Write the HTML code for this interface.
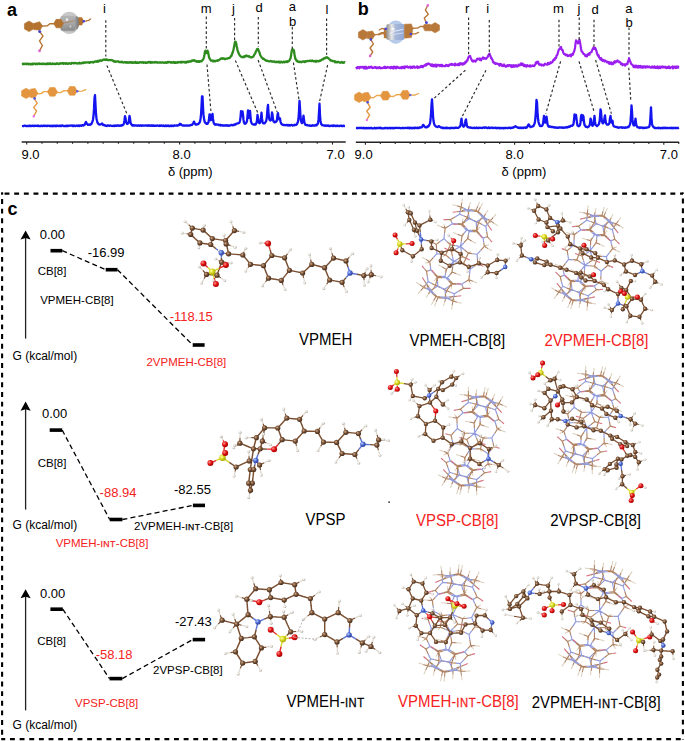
<!DOCTYPE html><html><head><meta charset="utf-8"><style>html,body{margin:0;padding:0;background:#fff;}svg{display:block;}</style></head><body><svg width="685" height="741" viewBox="0 0 685 741" font-family="Liberation Sans, sans-serif"><defs>
<radialGradient id="gsph" cx="0.45" cy="0.4" r="0.65"><stop offset="0" stop-color="#e8e8e8"/><stop offset="0.45" stop-color="#a8a8a8"/><stop offset="0.8" stop-color="#8c8c8c"/><stop offset="1" stop-color="#b8b8b8"/></radialGradient>
<radialGradient id="bsph" cx="0.5" cy="0.5" r="0.55"><stop offset="0" stop-color="#c6d8f0"/><stop offset="0.75" stop-color="#a9c3e6"/><stop offset="1" stop-color="#bcd0ee"/></radialGradient>
<linearGradient id="barrel" x1="0" x2="1" y1="0" y2="0"><stop offset="0" stop-color="#8a8a8a"/><stop offset="0.35" stop-color="#e0e0e0"/><stop offset="0.7" stop-color="#9aa8c0"/><stop offset="1" stop-color="#8090b0"/></linearGradient>
<radialGradient id="gC" cx="0.38" cy="0.38" r="0.68"><stop offset="0" stop-color="#d0b090"/><stop offset="0.45" stop-color="#7a5236"/><stop offset="1" stop-color="#3e2818"/></radialGradient>
<radialGradient id="gH" cx="0.35" cy="0.35" r="0.7"><stop offset="0" stop-color="#ffffff"/><stop offset="0.55" stop-color="#e0dcd4"/><stop offset="1" stop-color="#a8a098"/></radialGradient>
<radialGradient id="gO" cx="0.35" cy="0.35" r="0.7"><stop offset="0" stop-color="#ff9090"/><stop offset="0.5" stop-color="#e01010"/><stop offset="1" stop-color="#a00000"/></radialGradient>
<radialGradient id="gN" cx="0.35" cy="0.35" r="0.7"><stop offset="0" stop-color="#b8c8ff"/><stop offset="0.5" stop-color="#4a68d0"/><stop offset="1" stop-color="#2a3c90"/></radialGradient>
<radialGradient id="gS" cx="0.35" cy="0.35" r="0.7"><stop offset="0" stop-color="#ffffa0"/><stop offset="0.5" stop-color="#d8d820"/><stop offset="1" stop-color="#a0a000"/></radialGradient>
<linearGradient id="gbar" x1="0" x2="0" y1="0" y2="1"><stop offset="0" stop-color="#b4b4b4"/><stop offset="0.5" stop-color="#a6a6a6"/><stop offset="0.9" stop-color="#8e8e8e"/><stop offset="1" stop-color="#a0a0a0"/></linearGradient><linearGradient id="gport" x1="0" x2="1" y1="0" y2="0"><stop offset="0" stop-color="#a8a8a8"/><stop offset="1" stop-color="#767676"/></linearGradient><linearGradient id="gbb" x1="0" x2="1" y1="0" y2="0"><stop offset="0" stop-color="#8c8c8c"/><stop offset="0.3" stop-color="#e8e8e8"/><stop offset="0.5" stop-color="#a8b8d8"/><stop offset="1" stop-color="#90a8d8"/></linearGradient></defs><rect width="685" height="741" fill="#fff"/><text x="0" y="0" font-size="18" fill="#000" font-weight="bold" transform="translate(7.10,16.10) scale(1,1.0)">a</text><text x="0" y="0" font-size="18" fill="#000" font-weight="bold" transform="translate(357.80,14.60) scale(1,1.0)">b</text><text x="0" y="0" font-size="18" fill="#000" font-weight="bold" transform="translate(7.60,215.40) scale(1,1.0)">c</text><line x1="21.70" y1="142.00" x2="345.70" y2="142.00" stroke="#222" stroke-width="1.5" stroke-linecap="butt"/><line x1="26.70" y1="142.00" x2="26.70" y2="144.60" stroke="#222" stroke-width="1.1" stroke-linecap="butt"/><line x1="41.99" y1="142.00" x2="41.99" y2="143.70" stroke="#222" stroke-width="1.1" stroke-linecap="butt"/><line x1="57.28" y1="142.00" x2="57.28" y2="143.70" stroke="#222" stroke-width="1.1" stroke-linecap="butt"/><line x1="72.57" y1="142.00" x2="72.57" y2="143.70" stroke="#222" stroke-width="1.1" stroke-linecap="butt"/><line x1="87.86" y1="142.00" x2="87.86" y2="143.70" stroke="#222" stroke-width="1.1" stroke-linecap="butt"/><line x1="103.15" y1="142.00" x2="103.15" y2="143.70" stroke="#222" stroke-width="1.1" stroke-linecap="butt"/><line x1="118.44" y1="142.00" x2="118.44" y2="143.70" stroke="#222" stroke-width="1.1" stroke-linecap="butt"/><line x1="133.73" y1="142.00" x2="133.73" y2="143.70" stroke="#222" stroke-width="1.1" stroke-linecap="butt"/><line x1="149.02" y1="142.00" x2="149.02" y2="143.70" stroke="#222" stroke-width="1.1" stroke-linecap="butt"/><line x1="164.31" y1="142.00" x2="164.31" y2="143.70" stroke="#222" stroke-width="1.1" stroke-linecap="butt"/><line x1="179.60" y1="142.00" x2="179.60" y2="144.60" stroke="#222" stroke-width="1.1" stroke-linecap="butt"/><line x1="194.89" y1="142.00" x2="194.89" y2="143.70" stroke="#222" stroke-width="1.1" stroke-linecap="butt"/><line x1="210.18" y1="142.00" x2="210.18" y2="143.70" stroke="#222" stroke-width="1.1" stroke-linecap="butt"/><line x1="225.47" y1="142.00" x2="225.47" y2="143.70" stroke="#222" stroke-width="1.1" stroke-linecap="butt"/><line x1="240.76" y1="142.00" x2="240.76" y2="143.70" stroke="#222" stroke-width="1.1" stroke-linecap="butt"/><line x1="256.05" y1="142.00" x2="256.05" y2="143.70" stroke="#222" stroke-width="1.1" stroke-linecap="butt"/><line x1="271.34" y1="142.00" x2="271.34" y2="143.70" stroke="#222" stroke-width="1.1" stroke-linecap="butt"/><line x1="286.63" y1="142.00" x2="286.63" y2="143.70" stroke="#222" stroke-width="1.1" stroke-linecap="butt"/><line x1="301.92" y1="142.00" x2="301.92" y2="143.70" stroke="#222" stroke-width="1.1" stroke-linecap="butt"/><line x1="317.21" y1="142.00" x2="317.21" y2="143.70" stroke="#222" stroke-width="1.1" stroke-linecap="butt"/><line x1="332.50" y1="142.00" x2="332.50" y2="144.60" stroke="#222" stroke-width="1.1" stroke-linecap="butt"/><text x="0" y="0" font-size="13" fill="#000" font-weight="normal" transform="translate(21.40,159.40) scale(1,1.0)">9.0</text><text x="0" y="0" font-size="13" fill="#000" font-weight="normal" transform="translate(172.60,159.40) scale(1,1.0)">8.0</text><text x="0" y="0" font-size="13" fill="#000" font-weight="normal" transform="translate(326.60,159.40) scale(1,1.0)">7.0</text><line x1="355.80" y1="142.20" x2="679.20" y2="142.20" stroke="#222" stroke-width="1.5" stroke-linecap="butt"/><line x1="365.40" y1="142.20" x2="365.40" y2="144.80" stroke="#222" stroke-width="1.1" stroke-linecap="butt"/><line x1="380.32" y1="142.20" x2="380.32" y2="143.90" stroke="#222" stroke-width="1.1" stroke-linecap="butt"/><line x1="395.24" y1="142.20" x2="395.24" y2="143.90" stroke="#222" stroke-width="1.1" stroke-linecap="butt"/><line x1="410.16" y1="142.20" x2="410.16" y2="143.90" stroke="#222" stroke-width="1.1" stroke-linecap="butt"/><line x1="425.08" y1="142.20" x2="425.08" y2="143.90" stroke="#222" stroke-width="1.1" stroke-linecap="butt"/><line x1="440.00" y1="142.20" x2="440.00" y2="143.90" stroke="#222" stroke-width="1.1" stroke-linecap="butt"/><line x1="454.92" y1="142.20" x2="454.92" y2="143.90" stroke="#222" stroke-width="1.1" stroke-linecap="butt"/><line x1="469.84" y1="142.20" x2="469.84" y2="143.90" stroke="#222" stroke-width="1.1" stroke-linecap="butt"/><line x1="484.76" y1="142.20" x2="484.76" y2="143.90" stroke="#222" stroke-width="1.1" stroke-linecap="butt"/><line x1="499.68" y1="142.20" x2="499.68" y2="143.90" stroke="#222" stroke-width="1.1" stroke-linecap="butt"/><line x1="514.60" y1="142.20" x2="514.60" y2="144.80" stroke="#222" stroke-width="1.1" stroke-linecap="butt"/><line x1="529.52" y1="142.20" x2="529.52" y2="143.90" stroke="#222" stroke-width="1.1" stroke-linecap="butt"/><line x1="544.44" y1="142.20" x2="544.44" y2="143.90" stroke="#222" stroke-width="1.1" stroke-linecap="butt"/><line x1="559.36" y1="142.20" x2="559.36" y2="143.90" stroke="#222" stroke-width="1.1" stroke-linecap="butt"/><line x1="574.28" y1="142.20" x2="574.28" y2="143.90" stroke="#222" stroke-width="1.1" stroke-linecap="butt"/><line x1="589.20" y1="142.20" x2="589.20" y2="143.90" stroke="#222" stroke-width="1.1" stroke-linecap="butt"/><line x1="604.12" y1="142.20" x2="604.12" y2="143.90" stroke="#222" stroke-width="1.1" stroke-linecap="butt"/><line x1="619.04" y1="142.20" x2="619.04" y2="143.90" stroke="#222" stroke-width="1.1" stroke-linecap="butt"/><line x1="633.96" y1="142.20" x2="633.96" y2="143.90" stroke="#222" stroke-width="1.1" stroke-linecap="butt"/><line x1="648.88" y1="142.20" x2="648.88" y2="143.90" stroke="#222" stroke-width="1.1" stroke-linecap="butt"/><line x1="663.80" y1="142.20" x2="663.80" y2="144.80" stroke="#222" stroke-width="1.1" stroke-linecap="butt"/><line x1="678.72" y1="142.20" x2="678.72" y2="143.90" stroke="#222" stroke-width="1.1" stroke-linecap="butt"/><text x="0" y="0" font-size="13" fill="#000" font-weight="normal" transform="translate(354.60,159.40) scale(1,1.0)">9.0</text><text x="0" y="0" font-size="13" fill="#000" font-weight="normal" transform="translate(505.60,159.40) scale(1,1.0)">8.0</text><text x="0" y="0" font-size="13" fill="#000" font-weight="normal" transform="translate(659.80,159.40) scale(1,1.0)">7.0</text><text x="0" y="0" font-size="13" fill="#000" font-weight="normal" transform="translate(167.90,176.00) scale(1,1.0)">δ (ppm)</text><text x="0" y="0" font-size="13" fill="#000" font-weight="normal" transform="translate(501.50,176.00) scale(1,1.0)">δ (ppm)</text><text x="0" y="0" font-size="13" fill="#000" font-weight="normal" transform="translate(102.90,13.20) scale(1,1.0)">i</text><text x="0" y="0" font-size="13" fill="#000" font-weight="normal" transform="translate(200.70,12.90) scale(1,1.0)">m</text><text x="0" y="0" font-size="13" fill="#000" font-weight="normal" transform="translate(231.90,13.30) scale(1,1.0)">j</text><text x="0" y="0" font-size="13" fill="#000" font-weight="normal" transform="translate(255.60,12.30) scale(1,1.0)">d</text><text x="0" y="0" font-size="13" fill="#000" font-weight="normal" transform="translate(288.80,10.60) scale(1,1.0)">a</text><text x="0" y="0" font-size="13" fill="#000" font-weight="normal" transform="translate(288.90,26.20) scale(1,1.0)">b</text><text x="0" y="0" font-size="13" fill="#000" font-weight="normal" transform="translate(325.40,13.50) scale(1,1.0)">l</text><text x="0" y="0" font-size="13" fill="#000" font-weight="normal" transform="translate(464.90,12.90) scale(1,1.0)">r</text><text x="0" y="0" font-size="13" fill="#000" font-weight="normal" transform="translate(486.30,13.30) scale(1,1.0)">i</text><text x="0" y="0" font-size="13" fill="#000" font-weight="normal" transform="translate(553.10,13.20) scale(1,1.0)">m</text><text x="0" y="0" font-size="13" fill="#000" font-weight="normal" transform="translate(577.50,13.40) scale(1,1.0)">j</text><text x="0" y="0" font-size="13" fill="#000" font-weight="normal" transform="translate(591.60,13.60) scale(1,1.0)">d</text><text x="0" y="0" font-size="13" fill="#000" font-weight="normal" transform="translate(625.30,12.60) scale(1,1.0)">a</text><text x="0" y="0" font-size="13" fill="#000" font-weight="normal" transform="translate(625.50,27.40) scale(1,1.0)">b</text><polyline points="22.0,64.0 22.5,63.8 23.0,64.3 23.5,63.7 24.0,64.2 24.5,64.0 25.0,63.7 25.5,64.1 26.0,63.7 26.5,64.0 27.0,63.7 27.5,63.7 28.0,64.0 28.5,64.4 29.0,63.7 29.5,63.8 30.0,64.2 30.5,64.4 31.0,64.1 31.5,63.9 32.0,64.4 32.5,63.6 33.0,64.3 33.5,63.8 34.0,63.7 34.5,63.6 35.0,63.8 35.5,64.2 36.0,63.7 36.5,64.0 37.0,64.1 37.5,63.8 38.0,64.0 38.5,63.5 39.0,63.5 39.5,63.6 40.0,64.1 40.5,63.8 41.0,63.7 41.5,64.0 42.0,63.8 42.5,63.7 43.0,64.1 43.5,64.0 44.0,63.6 44.5,63.9 45.0,63.9 45.5,64.2 46.0,64.0 46.5,63.6 47.0,64.2 47.5,63.4 48.0,63.7 48.5,64.0 49.0,63.5 49.5,63.8 50.0,63.3 50.5,63.9 51.0,64.0 51.5,63.8 52.0,64.1 52.5,63.5 53.0,63.9 53.5,63.8 54.0,63.8 54.5,63.6 55.0,64.0 55.5,64.1 56.0,63.6 56.5,63.8 57.0,63.2 57.5,63.8 58.0,63.8 58.5,64.1 59.0,63.9 59.5,63.4 60.0,63.5 60.5,63.7 61.0,63.1 61.5,63.5 62.0,63.3 62.5,63.2 63.0,63.1 63.5,63.8 64.0,63.2 64.5,63.3 65.0,63.4 65.5,63.8 66.0,63.1 66.5,63.4 67.0,63.5 67.5,63.8 68.0,63.7 68.5,63.8 69.0,63.2 69.5,63.3 70.0,63.3 70.5,63.7 71.0,63.8 71.5,63.0 72.0,63.0 72.5,63.1 73.0,63.1 73.5,63.3 74.0,63.4 74.5,63.1 75.0,62.8 75.5,63.2 76.0,63.1 76.5,63.3 77.0,63.6 77.5,63.4 78.0,63.2 78.5,63.3 79.0,63.3 79.5,62.7 80.0,63.5 80.5,63.3 81.0,63.4 81.5,63.3 82.0,62.9 82.5,62.9 83.0,62.6 83.5,63.1 84.0,62.5 84.5,62.5 85.0,62.6 85.5,62.5 86.0,62.7 86.5,62.4 87.0,62.3 87.5,62.4 88.0,62.3 88.5,62.5 89.0,62.2 89.5,62.9 90.0,62.6 90.5,62.1 91.0,62.2 91.5,62.2 92.0,62.2 92.5,61.9 93.0,62.5 93.5,62.5 94.0,62.0 94.5,61.9 95.0,61.5 95.5,61.4 96.0,61.5 96.5,61.4 97.0,61.8 97.5,61.1 98.0,60.8 98.5,61.5 99.0,61.0 99.5,60.6 100.0,60.8 100.5,60.2 101.0,60.5 101.5,60.8 102.0,60.5 102.5,60.2 103.0,59.7 103.5,59.7 104.0,59.4 104.5,59.9 105.0,59.6 105.5,59.8 106.0,59.4 106.5,59.3 107.0,59.9 107.5,60.1 108.0,60.0 108.5,60.1 109.0,60.2 109.5,60.2 110.0,59.9 110.5,60.2 111.0,60.2 111.5,60.0 112.0,60.2 112.5,60.5 113.0,60.6 113.5,61.1 114.0,61.5 114.5,61.1 115.0,61.6 115.5,61.8 116.0,61.8 116.5,61.4 117.0,61.3 117.5,61.4 118.0,61.4 118.5,61.5 119.0,61.9 119.5,62.2 120.0,62.2 120.5,61.9 121.0,62.1 121.5,62.3 122.0,61.7 122.5,62.3 123.0,62.5 123.5,62.4 124.0,62.4 124.5,62.2 125.0,62.0 125.5,62.5 126.0,62.1 126.5,62.6 127.0,62.8 127.5,62.2 128.0,62.3 128.5,62.8 129.0,62.6 129.5,62.1 130.0,62.1 130.5,62.1 131.0,62.8 131.5,62.7 132.0,62.1 132.5,62.7 133.0,62.9 133.5,62.6 134.0,62.3 134.5,62.5 135.0,62.1 135.5,62.0 136.0,62.9 136.5,62.6 137.0,62.5 137.5,62.9 138.0,62.4 138.5,62.8 139.0,62.8 139.5,62.2 140.0,62.3 140.5,62.3 141.0,62.2 141.5,62.6 142.0,62.3 142.5,62.4 143.0,62.1 143.5,62.8 144.0,62.3 144.5,62.4 145.0,62.5 145.5,62.8 146.0,62.4 146.5,62.8 147.0,62.5 147.5,62.5 148.0,62.5 148.5,62.0 149.0,62.4 149.5,62.1 150.0,62.0 150.5,62.7 151.0,62.1 151.5,62.4 152.0,62.6 152.5,62.5 153.0,62.2 153.5,62.4 154.0,62.4 154.5,62.6 155.0,62.0 155.5,62.4 156.0,62.1 156.5,62.2 157.0,62.6 157.5,62.4 158.0,62.4 158.5,62.6 159.0,62.7 159.5,62.3 160.0,62.5 160.5,62.4 161.0,62.4 161.5,62.6 162.0,62.3 162.5,62.4 163.0,62.4 163.5,62.8 164.0,62.6 164.5,62.7 165.0,62.8 165.5,62.2 166.0,62.4 166.5,62.8 167.0,62.7 167.5,62.1 168.0,62.0 168.5,62.3 169.0,62.0 169.5,62.2 170.0,62.0 170.5,62.5 171.0,62.6 171.5,62.7 172.0,62.1 172.5,62.6 173.0,62.5 173.5,62.0 174.0,62.7 174.5,62.8 175.0,62.1 175.5,62.8 176.0,62.3 176.5,62.3 177.0,62.8 177.5,62.6 178.0,62.0 178.5,62.3 179.0,62.3 179.5,62.2 180.0,62.0 180.5,62.1 181.0,62.5 181.5,61.8 182.0,62.3 182.5,62.2 183.0,61.8 183.5,62.1 184.0,62.3 184.5,62.2 185.0,61.8 185.5,62.6 186.0,62.3 186.5,62.5 187.0,61.6 187.5,61.7 188.0,61.5 188.5,62.1 189.0,61.5 189.5,61.3 190.0,61.4 190.5,61.7 191.0,61.4 191.5,60.7 192.0,60.4 192.5,60.9 193.0,60.5 193.5,60.6 194.0,60.1 194.5,60.3 195.0,61.0 195.5,60.9 196.0,60.8 196.5,61.7 197.0,61.5 197.5,61.7 198.0,61.1 198.5,61.8 199.0,61.1 199.5,61.8 200.0,61.3 200.5,61.2 201.0,61.2 201.5,61.4 202.0,60.5 202.5,60.0 203.0,59.8 203.5,58.6 204.0,57.0 204.5,54.5 205.0,51.4 205.5,50.7 206.0,52.3 206.5,53.1 207.0,52.6 207.5,50.7 208.0,51.7 208.5,54.4 209.0,57.0 209.5,58.2 210.0,59.4 210.5,59.7 211.0,60.7 211.5,60.7 212.0,60.6 212.5,60.9 213.0,61.4 213.5,60.7 214.0,61.3 214.5,60.9 215.0,60.9 215.5,61.2 216.0,60.7 216.5,60.7 217.0,60.7 217.5,60.9 218.0,60.1 218.5,60.4 219.0,60.0 219.5,59.7 220.0,59.3 220.5,59.0 221.0,58.5 221.5,58.4 222.0,58.2 222.5,58.8 223.0,58.4 223.5,58.3 224.0,58.4 224.5,59.1 225.0,59.2 225.5,59.1 226.0,58.7 226.5,58.6 227.0,58.6 227.5,58.6 228.0,58.2 228.5,58.2 229.0,57.8 229.5,58.1 230.0,57.7 230.5,56.8 231.0,55.9 231.5,55.8 232.0,54.2 232.5,53.1 233.0,51.2 233.5,49.5 234.0,47.1 234.5,44.5 235.0,42.0 235.5,41.7 236.0,42.5 236.5,45.2 237.0,47.6 237.5,50.1 238.0,51.5 238.5,52.8 239.0,54.1 239.5,54.8 240.0,55.7 240.5,56.2 241.0,56.7 241.5,56.8 242.0,57.1 242.5,57.3 243.0,56.8 243.5,56.7 244.0,57.2 244.5,56.2 245.0,56.6 245.5,56.3 246.0,55.5 246.5,56.1 247.0,56.1 247.5,55.9 248.0,56.2 248.5,56.5 249.0,56.1 249.5,56.7 250.0,56.9 250.5,57.3 251.0,57.3 251.5,57.4 252.0,57.1 252.5,57.2 253.0,56.7 253.5,56.3 254.0,55.3 254.5,54.4 255.0,53.6 255.5,52.7 256.0,51.2 256.5,50.6 257.0,49.2 257.5,48.8 258.0,49.1 258.5,50.2 259.0,51.4 259.5,52.4 260.0,54.4 260.5,55.5 261.0,56.3 261.5,57.1 262.0,57.8 262.5,57.8 263.0,58.9 263.5,58.9 264.0,59.0 264.5,59.5 265.0,60.1 265.5,59.9 266.0,60.6 266.5,60.9 267.0,60.7 267.5,60.7 268.0,60.9 268.5,61.2 269.0,61.4 269.5,61.3 270.0,61.4 270.5,61.0 271.0,61.1 271.5,61.3 272.0,61.8 272.5,61.5 273.0,61.7 273.5,61.3 274.0,61.4 274.5,61.6 275.0,62.0 275.5,62.0 276.0,62.0 276.5,61.7 277.0,62.0 277.5,61.9 278.0,62.0 278.5,61.7 279.0,62.4 279.5,61.8 280.0,62.5 280.5,62.4 281.0,61.6 281.5,62.0 282.0,62.3 282.5,62.5 283.0,62.0 283.5,61.8 284.0,61.7 284.5,62.4 285.0,61.7 285.5,62.0 286.0,61.5 286.5,61.8 287.0,62.1 287.5,61.2 288.0,61.6 288.5,61.1 289.0,61.1 289.5,60.4 290.0,59.2 290.5,58.4 291.0,55.8 291.5,52.2 292.0,49.6 292.5,50.2 293.0,50.4 293.5,49.7 294.0,51.0 294.5,54.5 295.0,57.1 295.5,59.2 296.0,59.5 296.5,60.8 297.0,61.3 297.5,60.9 298.0,61.8 298.5,61.8 299.0,62.0 299.5,61.6 300.0,61.7 300.5,61.8 301.0,62.3 301.5,62.0 302.0,61.7 302.5,61.8 303.0,61.6 303.5,61.4 304.0,61.4 304.5,62.0 305.0,61.4 305.5,61.9 306.0,61.2 306.5,61.1 307.0,61.2 307.5,60.8 308.0,60.8 308.5,61.2 309.0,61.0 309.5,60.8 310.0,60.6 310.5,60.9 311.0,61.0 311.5,60.7 312.0,61.0 312.5,60.5 313.0,61.2 313.5,61.1 314.0,61.4 314.5,61.4 315.0,61.1 315.5,60.9 316.0,61.7 316.5,61.0 317.0,61.3 317.5,61.1 318.0,61.0 318.5,61.3 319.0,61.4 319.5,60.7 320.0,60.9 320.5,60.4 321.0,60.4 321.5,60.0 322.0,59.5 322.5,59.2 323.0,58.9 323.5,59.2 324.0,58.5 324.5,57.9 325.0,58.2 325.5,58.1 326.0,57.5 326.5,57.2 327.0,57.4 327.5,57.6 328.0,58.1 328.5,58.3 329.0,58.8 329.5,59.2 330.0,59.8 330.5,60.4 331.0,60.6 331.5,60.5 332.0,60.8 332.5,61.1 333.0,61.1 333.5,61.2 334.0,61.1 334.5,61.4 335.0,62.2 335.5,61.5 336.0,61.9 336.5,62.1 337.0,62.4 337.5,61.9 338.0,62.0 338.5,62.0 339.0,62.2 339.5,62.3 340.0,62.8 340.5,62.7 341.0,62.7 341.5,62.0 342.0,62.0 342.5,62.7 343.0,62.9 343.5,62.5 344.0,62.6 344.5,62.1 345.0,62.5" fill="none" stroke="#2e8b1e" stroke-width="2.3" stroke-linejoin="round"/><polyline points="22.0,126.2 22.5,126.1 23.0,126.1 23.5,126.2 24.0,125.7 24.5,125.6 25.0,125.6 25.5,125.9 26.0,126.0 26.5,126.2 27.0,126.0 27.5,126.0 28.0,126.1 28.5,125.9 29.0,125.9 29.5,125.6 30.0,126.1 30.5,125.7 31.0,126.2 31.5,126.0 32.0,125.7 32.5,125.6 33.0,125.7 33.5,126.0 34.0,126.0 34.5,125.6 35.0,125.6 35.5,125.9 36.0,125.9 36.5,125.8 37.0,125.7 37.5,126.0 38.0,125.5 38.5,125.7 39.0,125.9 39.5,126.2 40.0,126.0 40.5,126.1 41.0,125.9 41.5,125.7 42.0,125.7 42.5,126.2 43.0,126.0 43.5,125.7 44.0,125.5 44.5,125.9 45.0,126.0 45.5,125.8 46.0,125.7 46.5,126.0 47.0,126.2 47.5,125.7 48.0,125.6 48.5,125.8 49.0,125.8 49.5,126.0 50.0,125.7 50.5,126.1 51.0,126.0 51.5,125.9 52.0,125.7 52.5,126.2 53.0,125.7 53.5,126.1 54.0,125.7 54.5,125.7 55.0,126.1 55.5,125.7 56.0,126.2 56.5,125.9 57.0,125.6 57.5,125.7 58.0,125.8 58.5,126.0 59.0,126.2 59.5,125.6 60.0,125.8 60.5,125.7 61.0,126.2 61.5,125.6 62.0,125.5 62.5,125.5 63.0,125.8 63.5,126.1 64.0,126.1 64.5,126.0 65.0,126.2 65.5,126.2 66.0,125.7 66.5,125.6 67.0,126.1 67.5,126.0 68.0,125.5 68.5,126.0 69.0,125.8 69.5,125.7 70.0,125.7 70.5,125.6 71.0,125.5 71.5,125.7 72.0,125.7 72.5,126.1 73.0,125.5 73.5,126.1 74.0,125.6 74.5,125.7 75.0,126.0 75.5,126.0 76.0,125.7 76.5,125.5 77.0,125.7 77.5,125.7 78.0,126.0 78.5,125.5 79.0,125.6 79.5,126.0 80.0,125.4 80.5,125.6 81.0,125.8 81.5,125.8 82.0,125.2 82.5,125.2 83.0,125.1 83.5,125.5 84.0,124.9 84.5,124.8 85.0,124.2 85.5,122.7 86.0,121.9 86.5,123.2 87.0,124.0 87.5,124.3 88.0,124.9 88.5,124.7 89.0,124.7 89.5,124.4 90.0,124.8 90.5,124.7 91.0,124.1 91.5,123.9 92.0,122.5 92.5,121.4 93.0,119.5 93.5,116.0 94.0,108.9 94.5,98.0 95.0,95.1 95.5,105.0 96.0,113.7 96.5,118.7 97.0,120.8 97.5,122.6 98.0,123.5 98.5,124.1 99.0,124.4 99.5,124.5 100.0,124.5 100.5,124.4 101.0,124.2 101.5,124.1 102.0,123.5 102.5,124.1 103.0,125.0 103.5,124.9 104.0,125.0 104.5,125.1 105.0,125.5 105.5,125.4 106.0,125.9 106.5,125.9 107.0,126.0 107.5,125.5 108.0,125.4 108.5,125.4 109.0,125.7 109.5,125.8 110.0,125.7 110.5,125.5 111.0,125.7 111.5,125.8 112.0,125.8 112.5,125.9 113.0,126.0 113.5,125.8 114.0,125.5 114.5,126.0 115.0,125.6 115.5,125.8 116.0,125.6 116.5,125.9 117.0,125.5 117.5,125.5 118.0,125.5 118.5,125.4 119.0,125.9 119.5,125.7 120.0,125.5 120.5,125.5 121.0,125.8 121.5,125.4 122.0,125.1 122.5,125.3 123.0,124.9 123.5,124.5 124.0,122.7 124.5,120.2 125.0,116.2 125.5,118.0 126.0,121.9 126.5,123.0 127.0,123.8 127.5,123.8 128.0,123.4 128.5,122.8 129.0,119.6 129.5,116.0 130.0,118.3 130.5,122.4 131.0,123.8 131.5,124.4 132.0,125.2 132.5,125.5 133.0,125.1 133.5,125.5 134.0,125.6 134.5,125.4 135.0,125.5 135.5,125.4 136.0,125.4 136.5,125.5 137.0,125.7 137.5,125.8 138.0,125.5 138.5,125.3 139.0,125.6 139.5,125.8 140.0,125.4 140.5,125.5 141.0,125.5 141.5,125.9 142.0,125.7 142.5,125.3 143.0,125.4 143.5,125.6 144.0,125.6 144.5,125.7 145.0,125.3 145.5,125.3 146.0,125.7 146.5,125.5 147.0,125.4 147.5,125.4 148.0,125.9 148.5,125.4 149.0,125.6 149.5,125.4 150.0,125.5 150.5,125.8 151.0,125.9 151.5,125.5 152.0,125.4 152.5,125.8 153.0,125.4 153.5,125.3 154.0,125.9 154.5,125.6 155.0,125.9 155.5,125.6 156.0,125.9 156.5,125.7 157.0,125.5 157.5,125.4 158.0,125.7 158.5,125.8 159.0,126.0 159.5,125.4 160.0,125.8 160.5,125.7 161.0,125.8 161.5,125.5 162.0,125.6 162.5,125.8 163.0,126.1 163.5,125.5 164.0,125.8 164.5,126.0 165.0,126.1 165.5,125.6 166.0,125.5 166.5,126.1 167.0,126.1 167.5,125.8 168.0,125.5 168.5,126.1 169.0,125.7 169.5,126.1 170.0,125.9 170.5,126.0 171.0,125.5 171.5,126.0 172.0,125.6 172.5,125.7 173.0,126.0 173.5,126.0 174.0,125.5 174.5,125.5 175.0,125.6 175.5,125.7 176.0,125.6 176.5,125.4 177.0,125.4 177.5,125.7 178.0,125.7 178.5,125.0 179.0,125.1 179.5,124.9 180.0,123.8 180.5,124.2 181.0,124.2 181.5,125.0 182.0,125.2 182.5,125.5 183.0,125.3 183.5,125.5 184.0,125.6 184.5,125.5 185.0,125.7 185.5,125.6 186.0,125.6 186.5,125.3 187.0,125.7 187.5,125.6 188.0,125.4 188.5,125.7 189.0,125.7 189.5,125.5 190.0,125.2 190.5,125.4 191.0,125.0 191.5,124.9 192.0,124.9 192.5,124.3 193.0,123.8 193.5,122.7 194.0,121.6 194.5,122.8 195.0,123.4 195.5,124.4 196.0,124.7 196.5,124.6 197.0,124.2 197.5,124.4 198.0,124.1 198.5,124.1 199.0,123.0 199.5,122.7 200.0,121.5 200.5,119.0 201.0,114.8 201.5,106.4 202.0,96.5 202.5,96.4 203.0,107.1 203.5,114.9 204.0,118.5 204.5,121.2 205.0,122.6 205.5,122.7 206.0,123.4 206.5,123.9 207.0,123.5 207.5,123.9 208.0,123.0 208.5,122.2 209.0,119.1 209.5,114.4 210.0,114.6 210.5,118.6 211.0,120.2 211.5,119.4 212.0,115.4 212.5,113.9 213.0,118.9 213.5,121.8 214.0,123.7 214.5,124.1 215.0,124.6 215.5,124.2 216.0,124.7 216.5,124.3 217.0,124.6 217.5,124.7 218.0,124.5 218.5,125.0 219.0,124.8 219.5,125.0 220.0,125.3 220.5,124.8 221.0,125.5 221.5,125.3 222.0,125.2 222.5,125.5 223.0,125.2 223.5,125.7 224.0,125.5 224.5,125.3 225.0,125.6 225.5,125.4 226.0,125.2 226.5,125.6 227.0,125.2 227.5,125.7 228.0,125.3 228.5,125.5 229.0,125.8 229.5,125.5 230.0,125.5 230.5,125.2 231.0,125.0 231.5,125.0 232.0,125.0 232.5,125.3 233.0,125.1 233.5,125.0 234.0,125.2 234.5,124.5 235.0,124.4 235.5,124.6 236.0,123.9 236.5,123.7 237.0,123.7 237.5,123.3 238.0,123.4 238.5,123.1 239.0,123.1 239.5,122.5 240.0,120.8 240.5,117.6 241.0,111.2 241.5,113.1 242.0,115.5 242.5,111.3 243.0,114.7 243.5,119.9 244.0,122.5 244.5,123.5 245.0,123.8 245.5,123.6 246.0,123.2 246.5,122.3 247.0,120.9 247.5,116.2 248.0,110.4 248.5,115.4 249.0,117.8 249.5,115.3 250.0,110.8 250.5,116.5 251.0,121.5 251.5,122.7 252.0,123.8 252.5,124.2 253.0,124.3 253.5,124.3 254.0,124.8 254.5,124.3 255.0,124.6 255.5,124.6 256.0,123.7 256.5,122.8 257.0,120.6 257.5,114.9 258.0,117.7 258.5,122.0 259.0,122.8 259.5,123.2 260.0,122.8 260.5,121.3 261.0,117.8 261.5,112.7 262.0,118.7 262.5,121.5 263.0,123.1 263.5,123.4 264.0,123.3 264.5,123.4 265.0,122.9 265.5,122.2 266.0,121.3 266.5,119.7 267.0,116.0 267.5,108.7 268.0,104.9 268.5,112.6 269.0,117.8 269.5,119.7 270.0,120.2 270.5,120.5 271.0,119.9 271.5,118.0 272.0,112.5 272.5,114.5 273.0,119.4 273.5,121.4 274.0,121.6 274.5,122.4 275.0,122.0 275.5,122.1 276.0,121.8 276.5,121.4 277.0,119.5 277.5,114.9 278.0,113.2 278.5,118.0 279.0,119.4 279.5,118.1 280.0,118.5 280.5,121.5 281.0,123.2 281.5,124.0 282.0,124.6 282.5,124.5 283.0,124.9 283.5,124.9 284.0,125.2 284.5,124.9 285.0,125.2 285.5,125.2 286.0,125.0 286.5,125.0 287.0,125.3 287.5,125.0 288.0,125.6 288.5,125.1 289.0,125.0 289.5,125.1 290.0,125.6 290.5,125.2 291.0,125.1 291.5,125.0 292.0,125.0 292.5,125.5 293.0,125.4 293.5,125.4 294.0,125.4 294.5,124.8 295.0,125.1 295.5,124.8 296.0,124.9 296.5,124.6 297.0,124.2 297.5,122.8 298.0,121.8 298.5,118.5 299.0,111.0 299.5,100.9 300.0,108.1 300.5,116.7 301.0,120.5 301.5,122.6 302.0,123.1 302.5,122.5 303.0,120.2 303.5,115.6 304.0,119.6 304.5,122.8 305.0,124.0 305.5,124.9 306.0,124.8 306.5,125.1 307.0,125.3 307.5,125.0 308.0,125.3 308.5,125.3 309.0,125.7 309.5,125.4 310.0,125.4 310.5,125.9 311.0,125.6 311.5,125.8 312.0,125.7 312.5,125.2 313.0,125.5 313.5,125.5 314.0,125.7 314.5,125.4 315.0,125.6 315.5,125.4 316.0,125.0 316.5,125.3 317.0,124.5 317.5,124.4 318.0,122.8 318.5,119.9 319.0,112.2 319.5,103.7 320.0,115.3 320.5,120.9 321.0,123.4 321.5,124.4 322.0,125.1 322.5,124.9 323.0,125.3 323.5,125.3 324.0,125.7 324.5,125.4 325.0,125.9 325.5,125.5 326.0,125.5 326.5,125.8 327.0,125.7 327.5,125.5 328.0,125.8 328.5,125.5 329.0,126.0 329.5,125.9 330.0,126.0 330.5,125.9 331.0,125.7 331.5,125.7 332.0,125.7 332.5,126.1 333.0,125.5 333.5,126.1 334.0,125.5 334.5,125.6 335.0,125.7 335.5,126.1 336.0,125.8 336.5,125.7 337.0,126.1 337.5,125.6 338.0,125.8 338.5,125.9 339.0,126.0 339.5,126.0 340.0,125.9 340.5,125.7 341.0,125.7 341.5,125.6 342.0,126.1 342.5,126.0 343.0,126.0 343.5,125.6 344.0,125.8 344.5,126.0 345.0,125.9" fill="none" stroke="#1414f0" stroke-width="2.3" stroke-linejoin="round"/><polyline points="356.0,66.8 356.5,67.5 357.0,68.4 357.5,67.1 358.0,67.0 358.5,67.2 359.0,68.0 359.5,68.3 360.0,66.9 360.5,66.9 361.0,67.1 361.5,67.2 362.0,67.6 362.5,66.9 363.0,67.2 363.5,66.9 364.0,68.5 364.5,68.0 365.0,66.8 365.5,68.5 366.0,66.8 366.5,67.3 367.0,68.5 367.5,68.1 368.0,68.0 368.5,67.4 369.0,66.9 369.5,67.8 370.0,66.8 370.5,67.0 371.0,67.3 371.5,66.6 372.0,67.3 372.5,68.1 373.0,67.9 373.5,67.5 374.0,67.8 374.5,67.5 375.0,66.8 375.5,67.7 376.0,67.3 376.5,68.0 377.0,68.3 377.5,67.4 378.0,67.7 378.5,68.0 379.0,67.4 379.5,67.0 380.0,68.0 380.5,68.3 381.0,68.1 381.5,67.9 382.0,68.2 382.5,67.9 383.0,67.8 383.5,67.4 384.0,67.1 384.5,67.8 385.0,66.7 385.5,67.3 386.0,68.1 386.5,67.9 387.0,67.7 387.5,67.0 388.0,67.3 388.5,67.4 389.0,67.7 389.5,67.3 390.0,67.8 390.5,68.3 391.0,66.8 391.5,67.8 392.0,68.0 392.5,67.2 393.0,67.4 393.5,68.4 394.0,66.5 394.5,67.5 395.0,66.8 395.5,68.0 396.0,68.3 396.5,67.5 397.0,66.6 397.5,67.6 398.0,67.5 398.5,67.8 399.0,67.4 399.5,67.7 400.0,68.1 400.5,67.4 401.0,67.2 401.5,68.3 402.0,66.8 402.5,67.7 403.0,67.2 403.5,67.9 404.0,66.6 404.5,68.3 405.0,67.1 405.5,66.5 406.0,66.9 406.5,67.1 407.0,66.3 407.5,67.1 408.0,67.1 408.5,67.7 409.0,67.0 409.5,66.8 410.0,66.7 410.5,67.7 411.0,68.1 411.5,67.3 412.0,66.7 412.5,67.8 413.0,67.0 413.5,66.6 414.0,66.4 414.5,67.7 415.0,67.7 415.5,67.4 416.0,67.0 416.5,67.2 417.0,66.5 417.5,67.9 418.0,66.7 418.5,67.2 419.0,67.6 419.5,67.5 420.0,66.8 420.5,66.4 421.0,66.8 421.5,65.9 422.0,67.2 422.5,66.2 423.0,67.1 423.5,65.8 424.0,65.9 424.5,65.4 425.0,65.6 425.5,64.8 426.0,64.2 426.5,65.3 427.0,64.1 427.5,63.7 428.0,63.5 428.5,63.8 429.0,63.7 429.5,64.3 430.0,64.6 430.5,64.3 431.0,65.7 431.5,65.8 432.0,64.4 432.5,66.1 433.0,66.3 433.5,66.2 434.0,64.9 434.5,66.3 435.0,66.0 435.5,64.7 436.0,64.7 436.5,66.6 437.0,65.9 437.5,65.1 438.0,64.8 438.5,64.8 439.0,65.0 439.5,66.0 440.0,65.2 440.5,64.8 441.0,66.2 441.5,66.0 442.0,64.8 442.5,66.2 443.0,65.6 443.5,66.0 444.0,65.8 444.5,66.2 445.0,66.0 445.5,66.1 446.0,64.8 446.5,65.7 447.0,65.4 447.5,65.8 448.0,65.1 448.5,66.0 449.0,65.3 449.5,64.6 450.0,64.5 450.5,64.3 451.0,64.9 451.5,64.0 452.0,64.8 452.5,64.1 453.0,64.7 453.5,64.7 454.0,64.7 454.5,65.3 455.0,63.6 455.5,65.2 456.0,64.4 456.5,64.5 457.0,64.7 457.5,65.0 458.0,64.1 458.5,64.1 459.0,65.2 459.5,63.3 460.0,64.4 460.5,64.4 461.0,63.1 461.5,64.2 462.0,64.2 462.5,64.6 463.0,63.3 463.5,64.4 464.0,63.3 464.5,63.0 465.0,63.5 465.5,61.5 466.0,62.4 466.5,61.7 467.0,60.4 467.5,60.5 468.0,58.3 468.5,57.3 469.0,56.3 469.5,56.5 470.0,55.9 470.5,57.4 471.0,58.5 471.5,59.7 472.0,60.9 472.5,60.3 473.0,61.6 473.5,60.9 474.0,61.2 474.5,60.6 475.0,60.9 475.5,61.6 476.0,60.6 476.5,60.4 477.0,59.1 477.5,58.7 478.0,58.5 478.5,59.1 479.0,59.3 479.5,59.8 480.0,58.5 480.5,60.0 481.0,60.3 481.5,59.5 482.0,58.3 482.5,58.4 483.0,57.4 483.5,57.5 484.0,58.8 484.5,58.1 485.0,58.3 485.5,58.6 486.0,58.9 486.5,58.1 487.0,57.7 487.5,57.1 488.0,56.3 488.5,55.1 489.0,54.6 489.5,53.6 490.0,55.2 490.5,56.1 491.0,58.1 491.5,58.0 492.0,59.2 492.5,59.8 493.0,61.9 493.5,62.7 494.0,62.6 494.5,62.4 495.0,63.7 495.5,63.9 496.0,63.7 496.5,63.3 497.0,63.6 497.5,64.0 498.0,63.9 498.5,64.3 499.0,64.9 499.5,65.6 500.0,63.9 500.5,65.1 501.0,64.1 501.5,64.4 502.0,65.8 502.5,65.5 503.0,66.2 503.5,65.3 504.0,64.5 504.5,65.4 505.0,65.8 505.5,66.6 506.0,66.7 506.5,65.7 507.0,65.7 507.5,65.1 508.0,66.2 508.5,65.4 509.0,65.3 509.5,65.0 510.0,65.0 510.5,66.4 511.0,65.3 511.5,67.0 512.0,65.3 512.5,66.9 513.0,65.4 513.5,65.2 514.0,66.6 514.5,65.6 515.0,66.6 515.5,65.4 516.0,65.1 516.5,66.5 517.0,66.3 517.5,66.5 518.0,66.1 518.5,64.7 519.0,65.5 519.5,65.4 520.0,64.5 520.5,65.0 521.0,63.4 521.5,64.9 522.0,64.7 522.5,63.6 523.0,64.0 523.5,65.6 524.0,66.2 524.5,64.8 525.0,65.4 525.5,66.3 526.0,65.3 526.5,66.7 527.0,66.0 527.5,65.1 528.0,65.8 528.5,66.2 529.0,65.9 529.5,66.4 530.0,65.3 530.5,66.5 531.0,65.6 531.5,66.1 532.0,66.0 532.5,65.5 533.0,65.4 533.5,66.0 534.0,66.2 534.5,65.6 535.0,64.8 535.5,63.7 536.0,62.5 536.5,63.3 537.0,61.9 537.5,62.0 538.0,61.7 538.5,63.2 539.0,64.6 539.5,64.8 540.0,64.7 540.5,64.3 541.0,64.6 541.5,65.6 542.0,64.6 542.5,65.2 543.0,65.0 543.5,65.6 544.0,65.3 544.5,64.2 545.0,63.6 545.5,64.0 546.0,64.2 546.5,64.4 547.0,64.7 547.5,64.7 548.0,62.8 548.5,64.3 549.0,64.0 549.5,63.9 550.0,63.1 550.5,62.2 551.0,63.1 551.5,62.7 552.0,62.1 552.5,62.2 553.0,60.7 553.5,59.7 554.0,60.1 554.5,60.0 555.0,58.2 555.5,58.5 556.0,58.0 556.5,55.7 557.0,55.3 557.5,54.3 558.0,52.5 558.5,50.6 559.0,49.3 559.5,49.2 560.0,48.4 560.5,47.5 561.0,46.9 561.5,49.0 562.0,49.9 562.5,49.9 563.0,51.6 563.5,53.2 564.0,54.0 564.5,53.9 565.0,54.3 565.5,55.0 566.0,54.5 566.5,54.7 567.0,54.8 567.5,56.0 568.0,55.3 568.5,55.8 569.0,55.4 569.5,55.6 570.0,54.9 570.5,54.6 571.0,56.4 571.5,54.9 572.0,54.1 572.5,54.8 573.0,54.5 573.5,52.4 574.0,52.1 574.5,50.0 575.0,47.9 575.5,43.7 576.0,40.4 576.5,40.8 577.0,41.5 577.5,42.5 578.0,43.3 578.5,42.0 579.0,41.3 579.5,39.7 580.0,42.2 580.5,45.1 581.0,48.5 581.5,51.2 582.0,51.4 582.5,52.2 583.0,53.3 583.5,53.9 584.0,54.1 584.5,54.3 585.0,55.5 585.5,56.2 586.0,55.4 586.5,56.4 587.0,56.2 587.5,54.3 588.0,55.1 588.5,54.4 589.0,53.5 589.5,54.7 590.0,52.8 590.5,52.8 591.0,52.3 591.5,52.1 592.0,50.7 592.5,49.3 593.0,48.6 593.5,47.4 594.0,48.8 594.5,48.9 595.0,47.8 595.5,48.3 596.0,49.8 596.5,51.2 597.0,53.5 597.5,54.7 598.0,55.6 598.5,55.0 599.0,57.3 599.5,57.8 600.0,58.3 600.5,59.5 601.0,58.1 601.5,58.6 602.0,60.2 602.5,60.8 603.0,60.5 603.5,60.0 604.0,60.9 604.5,61.5 605.0,60.4 605.5,61.2 606.0,61.3 606.5,61.3 607.0,62.3 607.5,61.9 608.0,62.3 608.5,62.2 609.0,63.5 609.5,62.3 610.0,63.8 610.5,62.8 611.0,62.5 611.5,64.3 612.0,62.8 612.5,64.2 613.0,63.9 613.5,63.7 614.0,62.0 614.5,62.3 615.0,61.2 615.5,62.5 616.0,62.0 616.5,61.2 617.0,60.7 617.5,60.5 618.0,61.7 618.5,61.4 619.0,62.2 619.5,61.7 620.0,62.4 620.5,62.5 621.0,64.2 621.5,64.2 622.0,63.6 622.5,65.3 623.0,64.3 623.5,64.7 624.0,64.3 624.5,64.5 625.0,65.7 625.5,64.6 626.0,64.1 626.5,64.4 627.0,63.6 627.5,64.0 628.0,61.2 628.5,61.3 629.0,58.1 629.5,60.0 630.0,61.2 630.5,61.9 631.0,63.7 631.5,64.1 632.0,64.6 632.5,64.9 633.0,65.5 633.5,67.0 634.0,67.2 634.5,67.1 635.0,65.6 635.5,66.0 636.0,67.3 636.5,65.7 637.0,67.1 637.5,66.3 638.0,67.7 638.5,65.8 639.0,67.4 639.5,66.5 640.0,66.1 640.5,65.9 641.0,67.6 641.5,67.0 642.0,66.3 642.5,66.8 643.0,67.8 643.5,66.5 644.0,67.2 644.5,66.3 645.0,66.4 645.5,67.6 646.0,67.5 646.5,66.5 647.0,66.3 647.5,66.3 648.0,67.4 648.5,67.1 649.0,66.7 649.5,66.6 650.0,67.4 650.5,67.6 651.0,67.8 651.5,67.4 652.0,66.6 652.5,66.4 653.0,67.7 653.5,67.1 654.0,67.7 654.5,66.4 655.0,67.9 655.5,66.9 656.0,68.0 656.5,68.0 657.0,67.3 657.5,66.3 658.0,68.1 658.5,67.3 659.0,68.1 659.5,66.8 660.0,66.7 660.5,68.0 661.0,67.1 661.5,66.7 662.0,67.1 662.5,67.5 663.0,66.4 663.5,67.4 664.0,67.3 664.5,67.4 665.0,66.6 665.5,67.8 666.0,68.0 666.5,68.1 667.0,67.0 667.5,67.8 668.0,67.2 668.5,67.9 669.0,66.5 669.5,68.1 670.0,68.3 670.5,67.4 671.0,67.4 671.5,67.5 672.0,67.5 672.5,66.5 673.0,68.4 673.5,66.9 674.0,66.8 674.5,66.6 675.0,66.9 675.5,68.1 676.0,66.5 676.5,66.6 677.0,67.8 677.5,66.8 678.0,66.5 678.5,67.7 679.0,67.6" fill="none" stroke="#9a1ef0" stroke-width="2.2" stroke-linejoin="round"/><polyline points="356.0,128.1 356.5,128.2 357.0,127.8 357.5,128.3 358.0,128.2 358.5,127.8 359.0,127.8 359.5,128.1 360.0,128.1 360.5,127.9 361.0,127.8 361.5,128.0 362.0,127.8 362.5,128.2 363.0,128.3 363.5,127.8 364.0,128.1 364.5,128.3 365.0,127.9 365.5,128.3 366.0,128.4 366.5,128.0 367.0,128.0 367.5,128.3 368.0,128.1 368.5,128.0 369.0,128.4 369.5,128.3 370.0,128.0 370.5,127.9 371.0,128.0 371.5,128.0 372.0,128.4 372.5,128.3 373.0,128.4 373.5,128.3 374.0,128.3 374.5,127.8 375.0,128.1 375.5,128.4 376.0,128.4 376.5,127.9 377.0,128.0 377.5,128.2 378.0,128.0 378.5,128.1 379.0,127.8 379.5,128.0 380.0,128.1 380.5,127.7 381.0,127.8 381.5,128.4 382.0,128.3 382.5,128.4 383.0,128.2 383.5,128.3 384.0,128.3 384.5,128.3 385.0,127.8 385.5,128.2 386.0,127.9 386.5,128.2 387.0,127.9 387.5,128.1 388.0,128.4 388.5,128.2 389.0,127.9 389.5,128.1 390.0,128.0 390.5,128.4 391.0,127.9 391.5,127.9 392.0,128.2 392.5,127.8 393.0,128.1 393.5,128.4 394.0,128.1 394.5,127.9 395.0,128.0 395.5,128.1 396.0,127.8 396.5,127.8 397.0,127.8 397.5,127.9 398.0,128.0 398.5,127.9 399.0,127.9 399.5,127.8 400.0,128.1 400.5,128.3 401.0,128.1 401.5,128.1 402.0,128.2 402.5,127.8 403.0,128.2 403.5,128.0 404.0,128.1 404.5,128.1 405.0,128.0 405.5,127.9 406.0,127.9 406.5,127.8 407.0,128.0 407.5,128.0 408.0,128.1 408.5,127.7 409.0,127.9 409.5,128.3 410.0,127.8 410.5,128.1 411.0,128.0 411.5,127.9 412.0,128.3 412.5,127.9 413.0,128.2 413.5,127.8 414.0,127.7 414.5,128.2 415.0,127.9 415.5,127.6 416.0,127.9 416.5,127.9 417.0,128.1 417.5,127.6 418.0,127.7 418.5,128.2 419.0,128.0 419.5,127.5 420.0,127.6 420.5,127.5 421.0,127.6 421.5,127.3 422.0,127.0 422.5,126.2 423.0,124.9 423.5,124.9 424.0,125.9 424.5,126.7 425.0,126.9 425.5,127.3 426.0,127.3 426.5,127.4 427.0,126.7 427.5,127.1 428.0,126.2 428.5,126.3 429.0,125.6 429.5,124.6 430.0,123.3 430.5,120.0 431.0,114.2 431.5,104.9 432.0,99.4 432.5,107.2 433.0,115.8 433.5,120.8 434.0,123.4 434.5,125.0 435.0,125.5 435.5,126.2 436.0,126.6 436.5,126.7 437.0,126.8 437.5,127.1 438.0,126.9 438.5,126.2 439.0,126.2 439.5,126.5 440.0,127.0 440.5,127.2 441.0,127.6 441.5,127.7 442.0,127.4 442.5,128.1 443.0,127.7 443.5,128.1 444.0,128.1 444.5,128.2 445.0,127.7 445.5,127.8 446.0,128.2 446.5,127.6 447.0,127.6 447.5,128.0 448.0,127.9 448.5,128.2 449.0,128.1 449.5,128.0 450.0,128.3 450.5,128.0 451.0,128.0 451.5,128.1 452.0,127.9 452.5,127.8 453.0,128.0 453.5,127.8 454.0,128.2 454.5,128.0 455.0,127.9 455.5,127.6 456.0,127.8 456.5,127.7 457.0,127.8 457.5,127.8 458.0,127.9 458.5,127.8 459.0,127.3 459.5,126.9 460.0,126.4 460.5,125.3 461.0,121.7 461.5,118.6 462.0,122.2 462.5,124.6 463.0,125.9 463.5,126.7 464.0,126.5 464.5,125.7 465.0,123.7 465.5,120.5 466.0,119.4 466.5,123.6 467.0,126.0 467.5,126.9 468.0,127.1 468.5,127.1 469.0,127.4 469.5,127.7 470.0,127.7 470.5,127.5 471.0,127.6 471.5,127.9 472.0,127.9 472.5,127.8 473.0,128.2 473.5,128.0 474.0,127.6 474.5,127.8 475.0,128.1 475.5,127.8 476.0,128.0 476.5,127.5 477.0,127.7 477.5,128.1 478.0,127.9 478.5,128.0 479.0,127.6 479.5,127.8 480.0,127.9 480.5,127.7 481.0,127.9 481.5,127.8 482.0,128.1 482.5,127.8 483.0,127.7 483.5,127.5 484.0,127.5 484.5,127.9 485.0,127.5 485.5,127.5 486.0,127.5 486.5,127.8 487.0,128.0 487.5,127.9 488.0,128.0 488.5,127.5 489.0,127.5 489.5,128.0 490.0,127.7 490.5,128.0 491.0,127.8 491.5,127.7 492.0,127.7 492.5,127.6 493.0,128.2 493.5,128.0 494.0,127.8 494.5,127.9 495.0,127.9 495.5,127.6 496.0,128.2 496.5,128.0 497.0,128.3 497.5,127.9 498.0,128.1 498.5,127.8 499.0,127.7 499.5,128.3 500.0,128.2 500.5,127.9 501.0,128.3 501.5,128.2 502.0,127.8 502.5,128.1 503.0,128.3 503.5,128.0 504.0,128.3 504.5,127.8 505.0,127.9 505.5,128.1 506.0,127.8 506.5,127.8 507.0,128.2 507.5,128.0 508.0,128.2 508.5,127.8 509.0,127.7 509.5,127.8 510.0,127.7 510.5,128.3 511.0,127.8 511.5,127.9 512.0,127.6 512.5,127.8 513.0,127.6 513.5,127.5 514.0,127.1 514.5,126.7 515.0,126.7 515.5,126.2 516.0,126.6 516.5,127.0 517.0,127.3 517.5,127.5 518.0,127.4 518.5,127.9 519.0,127.7 519.5,127.6 520.0,128.0 520.5,127.6 521.0,127.7 521.5,128.1 522.0,127.6 522.5,127.8 523.0,128.0 523.5,128.0 524.0,127.5 524.5,127.6 525.0,127.8 525.5,127.5 526.0,127.8 526.5,127.1 527.0,127.3 527.5,126.5 528.0,125.3 528.5,124.5 529.0,124.6 529.5,126.0 530.0,126.4 530.5,127.1 531.0,126.9 531.5,126.8 532.0,126.6 532.5,126.6 533.0,126.0 533.5,126.0 534.0,124.7 534.5,123.7 535.0,121.5 535.5,117.1 536.0,109.7 536.5,99.9 537.0,102.2 537.5,112.1 538.0,118.5 538.5,122.0 539.0,123.7 539.5,124.8 540.0,125.9 540.5,125.8 541.0,126.2 541.5,125.8 542.0,125.9 542.5,125.1 543.0,123.7 543.5,119.9 544.0,115.9 544.5,119.7 545.0,122.5 545.5,122.5 546.0,120.4 546.5,116.6 547.0,120.2 547.5,124.2 548.0,125.7 548.5,126.5 549.0,126.8 549.5,126.5 550.0,126.7 550.5,126.5 551.0,127.0 551.5,127.0 552.0,126.8 552.5,126.9 553.0,127.2 553.5,127.3 554.0,127.1 554.5,127.6 555.0,127.3 555.5,127.6 556.0,127.3 556.5,127.3 557.0,127.9 557.5,127.8 558.0,127.8 558.5,127.4 559.0,127.4 559.5,127.5 560.0,127.5 560.5,127.6 561.0,127.6 561.5,127.4 562.0,127.6 562.5,127.8 563.0,127.4 563.5,127.9 564.0,127.7 564.5,127.7 565.0,127.4 565.5,127.5 566.0,127.6 566.5,127.3 567.0,127.0 567.5,127.5 568.0,127.3 568.5,126.8 569.0,126.5 569.5,126.9 570.0,126.5 570.5,125.9 571.0,125.8 571.5,125.6 572.0,125.9 572.5,125.3 573.0,125.2 573.5,123.8 574.0,120.0 574.5,114.5 575.0,116.8 575.5,118.2 576.0,114.9 576.5,118.8 577.0,123.1 577.5,125.4 578.0,125.7 578.5,126.3 579.0,126.1 579.5,125.8 580.0,124.9 580.5,122.4 581.0,116.6 581.5,114.8 582.0,120.1 582.5,120.1 583.0,115.4 583.5,116.7 584.0,122.0 584.5,125.0 585.0,125.6 585.5,126.6 586.0,126.9 586.5,126.7 587.0,127.0 587.5,127.3 588.0,127.0 588.5,126.7 589.0,126.2 589.5,125.3 590.0,123.6 590.5,118.6 591.0,119.7 591.5,124.0 592.0,125.2 592.5,125.8 593.0,125.5 593.5,123.9 594.0,119.9 594.5,116.0 595.0,121.7 595.5,124.8 596.0,125.3 596.5,125.6 597.0,126.0 597.5,125.3 598.0,125.3 598.5,124.6 599.0,124.0 599.5,121.8 600.0,117.5 600.5,109.3 601.0,111.3 601.5,118.3 602.0,121.4 602.5,122.9 603.0,123.4 603.5,122.7 604.0,121.7 604.5,118.0 605.0,115.4 605.5,120.6 606.0,123.1 606.5,123.9 607.0,124.7 607.5,124.7 608.0,124.5 608.5,124.5 609.0,124.0 609.5,122.2 610.0,118.2 610.5,115.9 611.0,119.9 611.5,122.6 612.0,121.3 612.5,120.7 613.0,124.2 613.5,125.9 614.0,126.3 614.5,126.3 615.0,126.8 615.5,126.9 616.0,126.9 616.5,127.2 617.0,126.9 617.5,127.6 618.0,127.5 618.5,127.5 619.0,127.8 619.5,127.6 620.0,127.3 620.5,127.4 621.0,127.3 621.5,127.2 622.0,127.8 622.5,127.8 623.0,127.4 623.5,127.4 624.0,127.7 624.5,127.8 625.0,127.8 625.5,127.3 626.0,127.7 626.5,127.7 627.0,127.5 627.5,127.1 628.0,126.8 628.5,127.0 629.0,126.3 629.5,125.6 630.0,124.4 630.5,121.4 631.0,115.0 631.5,105.3 632.0,111.4 632.5,119.9 633.0,123.6 633.5,125.1 634.0,125.5 634.5,125.1 635.0,122.4 635.5,118.6 636.0,123.3 636.5,125.6 637.0,126.6 637.5,127.2 638.0,127.1 638.5,127.6 639.0,127.3 639.5,127.6 640.0,128.0 640.5,127.4 641.0,127.4 641.5,127.7 642.0,127.6 642.5,128.0 643.0,127.5 643.5,128.0 644.0,128.0 644.5,128.0 645.0,127.7 645.5,127.6 646.0,127.8 646.5,127.7 647.0,127.6 647.5,127.4 648.0,127.3 648.5,127.2 649.0,126.9 649.5,125.9 650.0,123.1 650.5,116.4 651.0,107.3 651.5,117.9 652.0,123.7 652.5,125.6 653.0,126.4 653.5,127.0 654.0,127.4 654.5,127.9 655.0,128.0 655.5,128.0 656.0,128.1 656.5,128.2 657.0,128.0 657.5,128.1 658.0,127.6 658.5,128.1 659.0,128.0 659.5,127.8 660.0,128.0 660.5,128.3 661.0,128.0 661.5,128.1 662.0,127.9 662.5,127.9 663.0,128.3 663.5,127.7 664.0,127.8 664.5,128.1 665.0,128.0 665.5,127.7 666.0,128.1 666.5,127.9 667.0,128.1 667.5,128.0 668.0,128.1 668.5,128.1 669.0,128.0 669.5,127.8 670.0,127.8 670.5,128.3 671.0,128.1 671.5,127.8 672.0,128.3 672.5,127.9 673.0,127.8 673.5,128.1 674.0,127.9 674.5,128.0 675.0,128.1 675.5,127.9 676.0,128.1 676.5,127.8 677.0,128.1 677.5,128.1 678.0,127.8 678.5,128.0 679.0,127.8" fill="none" stroke="#1414f0" stroke-width="2.3" stroke-linejoin="round"/><line x1="105.80" y1="20.20" x2="105.80" y2="56.60" stroke="#2a2a2a" stroke-width="1.15" stroke-dasharray="2.6,2.3" stroke-linecap="butt"/><line x1="206.30" y1="16.60" x2="206.30" y2="50.00" stroke="#2a2a2a" stroke-width="1.15" stroke-dasharray="2.6,2.3" stroke-linecap="butt"/><line x1="234.60" y1="18.00" x2="234.60" y2="40.50" stroke="#2a2a2a" stroke-width="1.15" stroke-dasharray="2.6,2.3" stroke-linecap="butt"/><line x1="258.30" y1="17.00" x2="258.30" y2="47.00" stroke="#2a2a2a" stroke-width="1.15" stroke-dasharray="2.6,2.3" stroke-linecap="butt"/><line x1="292.30" y1="26.80" x2="292.30" y2="50.00" stroke="#2a2a2a" stroke-width="1.15" stroke-dasharray="2.6,2.3" stroke-linecap="butt"/><line x1="326.60" y1="18.40" x2="326.60" y2="54.80" stroke="#2a2a2a" stroke-width="1.15" stroke-dasharray="2.6,2.3" stroke-linecap="butt"/><line x1="468.60" y1="17.40" x2="468.60" y2="56.00" stroke="#2a2a2a" stroke-width="1.15" stroke-dasharray="2.6,2.3" stroke-linecap="butt"/><line x1="489.30" y1="20.00" x2="489.30" y2="55.00" stroke="#2a2a2a" stroke-width="1.15" stroke-dasharray="2.6,2.3" stroke-linecap="butt"/><line x1="559.00" y1="19.70" x2="559.00" y2="46.50" stroke="#2a2a2a" stroke-width="1.15" stroke-dasharray="2.6,2.3" stroke-linecap="butt"/><line x1="579.20" y1="17.50" x2="579.20" y2="40.00" stroke="#2a2a2a" stroke-width="1.15" stroke-dasharray="2.6,2.3" stroke-linecap="butt"/><line x1="594.00" y1="19.70" x2="594.00" y2="47.50" stroke="#2a2a2a" stroke-width="1.15" stroke-dasharray="2.6,2.3" stroke-linecap="butt"/><line x1="629.00" y1="27.50" x2="629.00" y2="56.50" stroke="#2a2a2a" stroke-width="1.15" stroke-dasharray="2.6,2.3" stroke-linecap="butt"/><line x1="106.90" y1="65.50" x2="126.90" y2="113.80" stroke="#2a2a2a" stroke-width="1.15" stroke-dasharray="2.6,2.3" stroke-linecap="butt"/><line x1="207.00" y1="64.50" x2="211.00" y2="112.00" stroke="#2a2a2a" stroke-width="1.15" stroke-dasharray="2.6,2.3" stroke-linecap="butt"/><line x1="235.40" y1="60.50" x2="257.60" y2="112.40" stroke="#2a2a2a" stroke-width="1.15" stroke-dasharray="2.6,2.3" stroke-linecap="butt"/><line x1="258.10" y1="60.00" x2="277.30" y2="112.40" stroke="#2a2a2a" stroke-width="1.15" stroke-dasharray="2.6,2.3" stroke-linecap="butt"/><line x1="293.40" y1="62.60" x2="299.00" y2="99.60" stroke="#2a2a2a" stroke-width="1.15" stroke-dasharray="2.6,2.3" stroke-linecap="butt"/><line x1="327.60" y1="65.00" x2="319.70" y2="101.00" stroke="#2a2a2a" stroke-width="1.15" stroke-dasharray="2.6,2.3" stroke-linecap="butt"/><line x1="465.40" y1="70.20" x2="434.40" y2="98.00" stroke="#2a2a2a" stroke-width="1.15" stroke-dasharray="2.6,2.3" stroke-linecap="butt"/><line x1="486.00" y1="70.20" x2="462.20" y2="116.60" stroke="#2a2a2a" stroke-width="1.15" stroke-dasharray="2.6,2.3" stroke-linecap="butt"/><line x1="560.60" y1="61.30" x2="545.80" y2="113.70" stroke="#2a2a2a" stroke-width="1.15" stroke-dasharray="2.6,2.3" stroke-linecap="butt"/><line x1="579.00" y1="61.30" x2="594.30" y2="112.40" stroke="#2a2a2a" stroke-width="1.15" stroke-dasharray="2.6,2.3" stroke-linecap="butt"/><line x1="595.60" y1="60.00" x2="611.40" y2="113.70" stroke="#2a2a2a" stroke-width="1.15" stroke-dasharray="2.6,2.3" stroke-linecap="butt"/><line x1="628.80" y1="67.70" x2="630.80" y2="101.00" stroke="#2a2a2a" stroke-width="1.15" stroke-dasharray="2.6,2.3" stroke-linecap="butt"/><g><polyline points="34.30,98.50 37.20,103.40 33.70,107.40 36.60,111.00 33.70,116.20" fill="none" stroke="#e3953f" stroke-width="1.4" stroke-linejoin="round" stroke-linecap="round"/><polyline points="37.20,93.80 41.00,93.60 43.60,91.60 48.00,91.60" fill="none" stroke="#eda94e" stroke-width="1.4" stroke-linejoin="round" stroke-linecap="round"/><polyline points="56.50,92.50 60.50,92.60 63.50,90.80 68.00,90.60" fill="none" stroke="#eda94e" stroke-width="1.4" stroke-linejoin="round" stroke-linecap="round"/><polyline points="77.50,91.30 82.20,91.10 85.70,89.60" fill="none" stroke="#eda94e" stroke-width="1.3" stroke-linejoin="round" stroke-linecap="round"/><polygon points="26.10,98.60 21.60,96.00 21.60,90.80 26.10,88.20 30.60,90.80 30.60,96.00" fill="#e3953f" stroke="#e3953f" stroke-width="0.6"/><polygon points="30.20,89.20 35.20,88.40 37.80,93.00 35.30,97.60 30.20,97.50" fill="#e3953f" stroke="#e3953f" stroke-width="0.6" stroke-linejoin="round"/><polygon points="57.40,91.80 54.90,96.13 49.90,96.13 47.40,91.80 49.90,87.47 54.90,87.47" fill="#e3953f" stroke="#e3953f" stroke-width="0.6"/><polygon points="77.20,90.90 74.70,95.23 69.70,95.23 67.20,90.90 69.70,86.57 74.70,86.57" fill="#e3953f" stroke="#e3953f" stroke-width="0.6"/><circle cx="34.60" cy="98.40" r="1.3" fill="#5050e0"/><circle cx="77.30" cy="91.20" r="1.2" fill="#6060e0"/><circle cx="33.80" cy="116.20" r="1.2" fill="#f070f0"/></g><g transform="translate(333,3.9)"><polyline points="34.30,98.50 37.20,103.40 33.70,107.40 36.60,111.00 33.70,116.20" fill="none" stroke="#e3953f" stroke-width="1.4" stroke-linejoin="round" stroke-linecap="round"/><polyline points="37.20,93.80 41.00,93.60 43.60,91.60 48.00,91.60" fill="none" stroke="#eda94e" stroke-width="1.4" stroke-linejoin="round" stroke-linecap="round"/><polyline points="56.50,92.50 60.50,92.60 63.50,90.80 68.00,90.60" fill="none" stroke="#eda94e" stroke-width="1.4" stroke-linejoin="round" stroke-linecap="round"/><polyline points="77.50,91.30 82.20,91.10 85.70,89.60" fill="none" stroke="#eda94e" stroke-width="1.3" stroke-linejoin="round" stroke-linecap="round"/><polygon points="26.10,98.60 21.60,96.00 21.60,90.80 26.10,88.20 30.60,90.80 30.60,96.00" fill="#e3953f" stroke="#e3953f" stroke-width="0.6"/><polygon points="30.20,89.20 35.20,88.40 37.80,93.00 35.30,97.60 30.20,97.50" fill="#e3953f" stroke="#e3953f" stroke-width="0.6" stroke-linejoin="round"/><polygon points="57.40,91.80 54.90,96.13 49.90,96.13 47.40,91.80 49.90,87.47 54.90,87.47" fill="#e3953f" stroke="#e3953f" stroke-width="0.6"/><polygon points="77.20,90.90 74.70,95.23 69.70,95.23 67.20,90.90 69.70,86.57 74.70,86.57" fill="#e3953f" stroke="#e3953f" stroke-width="0.6"/><circle cx="34.60" cy="98.40" r="1.3" fill="#5050e0"/><circle cx="77.30" cy="91.20" r="1.2" fill="#6060e0"/><circle cx="33.80" cy="116.20" r="1.2" fill="#f070f0"/></g><polyline points="39.50,31.30 43.00,36.20 39.50,40.90 42.40,45.50 39.50,50.80" fill="none" stroke="#b4722f" stroke-width="1.4" stroke-linejoin="round" stroke-linecap="round"/><polyline points="42.50,26.10 47.40,25.80 49.80,23.80 55.00,23.80" fill="none" stroke="#b4722f" stroke-width="1.4" stroke-linejoin="round" stroke-linecap="round"/><polygon points="29.00,31.60 24.41,28.95 24.41,23.65 29.00,21.00 33.59,23.65 33.59,28.95" fill="#b4722f" stroke="#b4722f" stroke-width="0.6"/><polygon points="33.60,23.50 39.60,21.70 42.50,25.80 40.10,30.20 33.60,29.60" fill="#b4722f" stroke="#b4722f" stroke-width="0.6" stroke-linejoin="round"/><circle cx="39.70" cy="31.40" r="1.5" fill="#4444cc"/><circle cx="39.50" cy="50.90" r="1.3" fill="#e060d0"/><ellipse cx="69.3" cy="22.9" rx="9.7" ry="11.1" fill="#c8c8c8"/><path d="M60.5,17 Q61,15.8 63,15.8 L74,15.8 Q75.5,16 75.5,18 L75.5,29.5 Q75.5,31.2 73.5,31.2 L63,31.2 Q60.5,31 60.5,29 Z" fill="url(#gbar)"/><ellipse cx="67" cy="19.5" rx="1.3" ry="1.6" fill="#e6e6e6"/><ellipse cx="70.5" cy="26.5" rx="0.9" ry="1.1" fill="#d8d8d8"/><polyline points="62.50,23.30 69.00,22.00 75.20,20.40" fill="none" stroke="#b07a4a" stroke-width="0.7" stroke-linejoin="round" stroke-linecap="round"/><polygon points="84.00,21.30 81.80,25.11 77.40,25.11 75.20,21.30 77.40,17.49 81.80,17.49" fill="#b4722f" stroke="#b4722f" stroke-width="0.5"/><ellipse cx="76.6" cy="22.8" rx="2.4" ry="6.8" fill="url(#gport)"/><polygon points="63.50,23.60 61.05,27.84 56.15,27.84 53.70,23.60 56.15,19.36 61.05,19.36" fill="#b4722f" stroke="#b4722f" stroke-width="0.6"/><polyline points="83.80,21.20 86.30,20.90 88.80,20.30 90.60,19.00" fill="none" stroke="#b4722f" stroke-width="1.3" stroke-linejoin="round" stroke-linecap="round"/><circle cx="83.80" cy="21.20" r="1.3" fill="#4444dd"/><polyline points="370.80,39.40 373.40,44.00 370.10,48.00 372.70,52.00 370.10,55.80" fill="none" stroke="#b8783a" stroke-width="1.4" stroke-linejoin="round" stroke-linecap="round"/><polyline points="374.00,34.80 378.00,34.40 381.30,32.80 385.00,32.80" fill="none" stroke="#b8783a" stroke-width="1.4" stroke-linejoin="round" stroke-linecap="round"/><polyline points="385.70,28.80 381.70,28.50 379.20,30.00" fill="none" stroke="#b8783a" stroke-width="1.3" stroke-linejoin="round" stroke-linecap="round"/><polyline points="384.10,33.60 381.00,33.80 378.60,34.80" fill="none" stroke="#b8783a" stroke-width="1.3" stroke-linejoin="round" stroke-linecap="round"/><polygon points="362.90,40.00 358.40,37.40 358.40,32.20 362.90,29.60 367.40,32.20 367.40,37.40" fill="#b8783a" stroke="#b8783a" stroke-width="0.6"/><polygon points="367.30,31.80 372.50,31.00 375.00,35.00 372.50,39.00 367.30,38.60" fill="#b8783a" stroke="#b8783a" stroke-width="0.6" stroke-linejoin="round"/><circle cx="370.80" cy="39.40" r="1.3" fill="#4444cc"/><circle cx="370.10" cy="55.90" r="1.3" fill="#e060d0"/><polygon points="383.80,29.00 387.50,28.50 387.50,38.60 383.80,38.00" fill="#b8783a" stroke="none" stroke-width="0" stroke-linejoin="round"/><ellipse cx="395.8" cy="32.1" rx="9.3" ry="11.7" fill="#b6cae9"/><path d="M386.4,25.5 Q386.6,24 388.5,24 L403,24 Q404.3,24.2 404.3,26 L404.3,38.5 Q404.2,40 402.5,40 L388.5,40 Q386.4,39.8 386.4,38 Z" fill="url(#gbb)"/><ellipse cx="393" cy="29" rx="1.6" ry="1.4" fill="#f8f8f8"/><polyline points="390.00,33.50 395.00,31.00 403.00,29.50" fill="none" stroke="#eef2fa" stroke-width="0.9" stroke-linejoin="round" stroke-linecap="round"/><polyline points="391.00,35.50 396.00,34.00 403.00,33.00" fill="none" stroke="#dde6f6" stroke-width="0.8" stroke-linejoin="round" stroke-linecap="round"/><polygon points="404.40,24.20 411.40,23.90 413.00,28.50 411.50,37.60 404.40,38.20" fill="#b8783a" stroke="#b8783a" stroke-width="0.5" stroke-linejoin="round"/><circle cx="385.70" cy="28.80" r="1.3" fill="#4444dd"/><polyline points="410.80,34.00 415.40,33.80 418.60,32.40" fill="none" stroke="#b8783a" stroke-width="1.3" stroke-linejoin="round" stroke-linecap="round"/><circle cx="410.80" cy="34.00" r="1.3" fill="#4444dd"/><polyline points="412.50,28.20 417.60,28.10 420.30,26.50 424.00,26.50" fill="none" stroke="#b8783a" stroke-width="1.4" stroke-linejoin="round" stroke-linecap="round"/><polyline points="427.80,5.40 425.40,10.00 428.40,14.30 424.30,18.10 426.20,22.70" fill="none" stroke="#b8783a" stroke-width="1.4" stroke-linejoin="round" stroke-linecap="round"/><polygon points="424.00,24.50 430.50,24.30 431.00,30.80 424.80,30.80 423.30,27.60" fill="#b8783a" stroke="#b8783a" stroke-width="0.6" stroke-linejoin="round"/><polygon points="435.10,32.80 430.68,30.25 430.68,25.15 435.10,22.60 439.52,25.15 439.52,30.25" fill="#b8783a" stroke="#b8783a" stroke-width="0.6"/><circle cx="426.50" cy="22.70" r="1.4" fill="#4444dd"/><circle cx="427.80" cy="5.40" r="1.4" fill="#e070e0"/><path d="M192.3 228.1L197.7 229.1M197.7 229.1L203.1 230.1M192.3 228.1L191.5 231.2M191.5 231.2L190.7 234.4M203.1 230.1L207.7 234.3M207.7 234.3L212.3 238.6M212.3 238.6L211.5 241.6M211.5 241.6L210.7 244.5M212.3 238.6L218.9 239.6M218.9 239.6L225.6 240.5M210.7 244.5L205.3 243.7M205.3 243.7L199.9 242.9M210.7 244.5L216.0 248.7M199.9 242.9L195.3 238.7M195.3 238.7L190.7 234.4M225.6 240.5L227.1 247.2M227.1 247.2L228.6 253.9M225.6 240.5L230.0 235.6M230.0 235.6L234.4 230.6M225.6 240.5L225.8 242.2M225.8 242.2L226.1 243.9M228.6 253.9L224.9 253.4M228.6 253.9L235.7 254.4M235.7 254.4L242.8 255.0M221.4 257.5L221.6 262.2M242.8 255.0L246.7 259.6M246.7 259.6L250.5 264.3M250.5 264.3L257.0 265.0M257.0 265.0L263.5 265.7M263.5 265.7L267.6 260.6M267.6 260.6L271.8 255.5M263.5 265.7L266.0 271.9M266.0 271.9L268.5 278.2M271.8 255.5L278.2 256.6M278.2 256.6L284.6 257.8M271.8 255.5L270.0 249.4M284.6 257.8L287.0 264.1M287.0 264.1L289.4 270.3M289.4 270.3L285.4 275.4M285.4 275.4L281.3 280.4M289.4 270.3L296.0 271.6M296.0 271.6L302.6 273.0M281.3 280.4L274.9 279.3M274.9 279.3L268.5 278.2M302.6 273.0L307.2 268.7M307.2 268.7L311.8 264.4M311.8 264.4L318.2 266.0M318.2 266.0L324.6 267.7M324.6 267.7L329.1 262.9M329.1 262.9L333.5 258.1M324.6 267.7L327.1 273.9M327.1 273.9L329.6 280.0M333.5 258.1L339.8 259.5M339.8 259.5L346.0 260.9M346.0 260.9L348.0 266.9M346.1 277.6L342.1 282.3M356.9 274.3L363.8 275.6M342.1 282.3L335.9 281.1M335.9 281.1L329.6 280.0M363.8 275.6L367.6 275.1M367.6 275.1L371.3 274.7M221.6 262.2L219.3 268.7M219.3 268.7L217.0 275.2M217.0 275.2L211.8 274.8M211.8 274.8L206.5 274.4M206.5 274.4L209.3 273.1" stroke="#7a4e30" stroke-width="1.45" fill="none"/><path d="M192.3 228.1L188.7 224.8M203.1 230.1L203.8 227.7M199.9 242.9L199.4 245.3M190.7 234.4L186.4 233.7M234.4 230.6L232.7 226.1M234.4 230.6L239.1 231.4M226.1 243.9L230.6 245.6M226.1 243.9L225.1 239.4M242.8 255.0L244.2 251.6M250.5 264.3L248.1 267.6M284.6 257.8L287.6 253.6M281.3 280.4L283.1 285.0M268.5 278.2L265.5 281.9M302.6 273.0L303.6 277.9M311.8 264.4L310.6 259.5M333.5 258.1L331.9 253.2M346.0 260.9L349.3 257.2M342.1 282.3L344.2 287.0M329.6 280.0L326.7 284.2M363.8 275.6L365.4 272.1M363.8 275.6L364.1 280.3M371.3 274.7L371.1 270.1M371.3 274.7L376.1 275.8M371.3 274.7L369.7 278.2M221.6 262.2L218.6 260.5M221.6 262.2L226.3 262.4M217.0 275.2L220.8 277.9M217.0 275.2L215.2 277.9M206.5 274.4L202.9 270.5M206.5 274.4L204.1 278.8" stroke="#7a4e30" stroke-width="1.16" fill="none"/><path d="M188.7 224.8L185.0 221.6M203.8 227.7L204.4 225.3M199.4 245.3L198.8 247.7M186.4 233.7L182.2 233.0M220.3 251.6L219.3 250.3M232.7 226.1L230.9 221.6M239.1 231.4L243.7 232.2M230.6 245.6L235.2 247.3M225.1 239.4L224.0 234.9M244.2 251.6L245.7 248.2M248.1 267.6L245.7 271.0M287.6 253.6L290.5 249.3M283.1 285.0L285.0 289.6M265.5 281.9L262.5 285.7M264.1 243.1L260.0 242.7M303.6 277.9L304.7 282.8M310.6 259.5L309.5 254.6M331.9 253.2L330.4 248.4M349.3 257.2L352.6 253.5M344.2 287.0L346.3 291.6M326.7 284.2L323.8 288.5M365.4 272.1L367.0 268.6M364.1 280.3L364.3 285.0M371.1 270.1L370.8 265.6M376.1 275.8L381.0 276.8M369.7 278.2L368.1 281.7M218.6 260.5L215.7 258.8M226.3 262.4L231.1 262.7M220.8 277.9L224.6 280.5M215.2 277.9L213.4 280.5M202.9 270.5L199.3 266.7M204.1 278.8L201.6 283.1" stroke="#dcd6cc" stroke-width="1.16" fill="none"/><path d="M216.0 248.7L221.3 252.8M224.9 253.4L221.3 252.8M221.3 252.8L221.4 257.5M348.0 266.9L350.0 273.0M350.0 273.0L346.1 277.6M350.0 273.0L356.9 274.3" stroke="#5a74d8" stroke-width="1.45" fill="none"/><path d="M221.3 252.8L220.3 251.6" stroke="#5a74d8" stroke-width="1.16" fill="none"/><path d="M270.0 249.4L268.1 243.4M207.8 267.6L203.5 263.4M219.1 268.4L225.9 265.0M214.1 278.0L215.9 284.1" stroke="#e83030" stroke-width="1.45" fill="none"/><path d="M268.1 243.4L264.1 243.1" stroke="#e83030" stroke-width="1.16" fill="none"/><path d="M209.3 273.1L212.2 271.8M212.2 271.8L207.8 267.6M212.2 271.8L219.1 268.4M212.2 271.8L214.1 278.0" stroke="#d8d830" stroke-width="1.45" fill="none"/><circle cx="185.0" cy="221.6" r="1.50" fill="url(#gH)"/><circle cx="204.4" cy="225.3" r="1.50" fill="url(#gH)"/><circle cx="182.2" cy="233.0" r="1.50" fill="url(#gH)"/><circle cx="198.8" cy="247.7" r="1.50" fill="url(#gH)"/><circle cx="230.9" cy="221.6" r="1.50" fill="url(#gH)"/><circle cx="243.7" cy="232.2" r="1.50" fill="url(#gH)"/><circle cx="235.2" cy="247.3" r="1.50" fill="url(#gH)"/><circle cx="224.0" cy="234.9" r="1.50" fill="url(#gH)"/><circle cx="219.3" cy="250.3" r="1.50" fill="url(#gH)"/><circle cx="245.7" cy="248.2" r="1.50" fill="url(#gH)"/><circle cx="245.7" cy="271.0" r="1.50" fill="url(#gH)"/><circle cx="260.0" cy="242.7" r="1.50" fill="url(#gH)"/><circle cx="290.5" cy="249.3" r="1.50" fill="url(#gH)"/><circle cx="285.0" cy="289.6" r="1.50" fill="url(#gH)"/><circle cx="262.5" cy="285.7" r="1.50" fill="url(#gH)"/><circle cx="304.7" cy="282.8" r="1.50" fill="url(#gH)"/><circle cx="309.5" cy="254.6" r="1.50" fill="url(#gH)"/><circle cx="330.4" cy="248.4" r="1.50" fill="url(#gH)"/><circle cx="352.6" cy="253.5" r="1.50" fill="url(#gH)"/><circle cx="346.3" cy="291.6" r="1.50" fill="url(#gH)"/><circle cx="323.8" cy="288.5" r="1.50" fill="url(#gH)"/><circle cx="367.0" cy="268.6" r="1.50" fill="url(#gH)"/><circle cx="364.3" cy="285.0" r="1.50" fill="url(#gH)"/><circle cx="370.8" cy="265.6" r="1.50" fill="url(#gH)"/><circle cx="381.0" cy="276.8" r="1.50" fill="url(#gH)"/><circle cx="368.1" cy="281.7" r="1.50" fill="url(#gH)"/><circle cx="215.7" cy="258.8" r="1.50" fill="url(#gH)"/><circle cx="231.1" cy="262.7" r="1.50" fill="url(#gH)"/><circle cx="199.3" cy="266.7" r="1.50" fill="url(#gH)"/><circle cx="201.6" cy="283.1" r="1.50" fill="url(#gH)"/><circle cx="224.6" cy="280.5" r="1.50" fill="url(#gH)"/><circle cx="213.4" cy="280.5" r="1.50" fill="url(#gH)"/><circle cx="192.3" cy="228.1" r="2.60" fill="url(#gC)"/><circle cx="203.1" cy="230.1" r="2.60" fill="url(#gC)"/><circle cx="212.3" cy="238.6" r="2.60" fill="url(#gC)"/><circle cx="210.7" cy="244.5" r="2.60" fill="url(#gC)"/><circle cx="199.9" cy="242.9" r="2.60" fill="url(#gC)"/><circle cx="190.7" cy="234.4" r="2.60" fill="url(#gC)"/><circle cx="225.6" cy="240.5" r="2.60" fill="url(#gC)"/><circle cx="228.6" cy="253.9" r="2.60" fill="url(#gC)"/><circle cx="221.3" cy="252.8" r="2.70" fill="url(#gN)"/><circle cx="234.4" cy="230.6" r="2.60" fill="url(#gC)"/><circle cx="226.1" cy="243.9" r="2.60" fill="url(#gC)"/><circle cx="242.8" cy="255.0" r="2.60" fill="url(#gC)"/><circle cx="250.5" cy="264.3" r="2.60" fill="url(#gC)"/><circle cx="263.5" cy="265.7" r="2.60" fill="url(#gC)"/><circle cx="271.8" cy="255.5" r="2.60" fill="url(#gC)"/><circle cx="284.6" cy="257.8" r="2.60" fill="url(#gC)"/><circle cx="289.4" cy="270.3" r="2.60" fill="url(#gC)"/><circle cx="281.3" cy="280.4" r="2.60" fill="url(#gC)"/><circle cx="268.5" cy="278.2" r="2.60" fill="url(#gC)"/><circle cx="268.1" cy="243.4" r="3.00" fill="url(#gO)"/><circle cx="302.6" cy="273.0" r="2.60" fill="url(#gC)"/><circle cx="311.8" cy="264.4" r="2.60" fill="url(#gC)"/><circle cx="324.6" cy="267.7" r="2.60" fill="url(#gC)"/><circle cx="333.5" cy="258.1" r="2.60" fill="url(#gC)"/><circle cx="346.0" cy="260.9" r="2.60" fill="url(#gC)"/><circle cx="350.0" cy="273.0" r="2.70" fill="url(#gN)"/><circle cx="342.1" cy="282.3" r="2.60" fill="url(#gC)"/><circle cx="329.6" cy="280.0" r="2.60" fill="url(#gC)"/><circle cx="363.8" cy="275.6" r="2.60" fill="url(#gC)"/><circle cx="371.3" cy="274.7" r="2.60" fill="url(#gC)"/><circle cx="221.6" cy="262.2" r="2.60" fill="url(#gC)"/><circle cx="217.0" cy="275.2" r="2.60" fill="url(#gC)"/><circle cx="206.5" cy="274.4" r="2.60" fill="url(#gC)"/><circle cx="212.2" cy="271.8" r="3.30" fill="url(#gS)"/><circle cx="203.5" cy="263.4" r="3.00" fill="url(#gO)"/><circle cx="225.9" cy="265.0" r="3.00" fill="url(#gO)"/><circle cx="215.9" cy="284.1" r="3.00" fill="url(#gO)"/><path d="M250.3 469.5L252.1 469.5M252.1 469.5L253.8 469.5M250.3 469.5L249.5 476.4M249.5 476.4L248.7 483.2M250.3 469.5L251.9 459.1M251.9 459.1L253.5 448.8M253.8 469.5L253.1 476.4M253.1 476.4L252.3 483.2M253.8 469.5L254.8 464.9M252.3 483.2L251.4 486.8M251.4 486.8L250.5 490.3M250.5 490.3L249.6 486.8M249.6 486.8L248.7 483.2M258.0 454.6L260.2 448.8M252.6 460.6L249.3 460.9M257.7 462.7L259.6 465.0M253.5 448.8L256.9 448.8M256.9 448.8L260.2 448.8M253.5 448.8L246.7 446.0M246.7 446.0L239.9 443.2M253.5 448.8L254.9 443.2M254.9 443.2L256.3 437.7M260.2 448.8L261.3 445.0M261.3 445.0L262.4 441.2M260.2 448.8L267.1 449.1M256.3 437.7L260.5 432.8M260.5 432.8L264.6 427.8M262.4 441.2L263.5 434.5M263.5 434.5L264.6 427.8M264.6 427.8L271.2 427.9M271.2 427.9L277.8 428.0M277.8 428.0L280.0 433.9M280.0 433.9L282.1 439.7M277.8 428.0L282.3 423.1M282.3 423.1L286.8 418.1M282.1 439.7L278.1 444.5M282.1 439.7L288.7 440.4M288.7 440.4L295.3 441.1M286.8 418.1L293.2 418.7M293.2 418.7L299.6 419.3M299.6 419.3L301.9 425.1M301.9 425.1L304.1 431.0M304.1 431.0L299.7 436.1M299.7 436.1L295.3 441.1M304.1 431.0L310.8 431.2M310.8 431.2L317.4 431.4M317.4 431.4L320.4 436.8M320.4 436.8L323.5 442.1M323.5 442.1L330.1 442.2M330.1 442.2L336.6 442.4M336.6 442.4L341.2 437.4M341.2 437.4L345.9 432.3M336.6 442.4L339.4 447.9M339.4 447.9L342.1 453.5M345.9 432.3L352.1 432.9M352.1 432.9L358.4 433.5M358.4 433.5L360.6 438.9M358.9 449.4L354.9 454.5M369.9 444.6L376.9 445.1M354.9 454.5L348.5 454.0M348.5 454.0L342.1 453.5M376.9 445.1L377.8 442.5M377.8 442.5L378.6 439.8M249.3 460.9L242.7 463.9M242.7 463.9L236.1 467.0M236.1 467.0L229.3 462.4" stroke="#7a4e30" stroke-width="1.45" fill="none"/><path d="M254.8 464.9L255.8 460.4M255.8 460.4L258.0 454.6M255.8 460.4L252.6 460.6M255.8 460.4L257.7 462.7M360.6 438.9L362.9 444.2M362.9 444.2L358.9 449.4M362.9 444.2L369.9 444.6" stroke="#5a74d8" stroke-width="1.45" fill="none"/><path d="M250.5 490.3L249.6 493.9M239.9 443.2L240.0 437.8M239.9 443.2L237.2 444.2M239.9 443.2L236.8 445.5M256.3 437.7L251.2 437.7M262.4 441.2L262.9 437.6M262.4 441.2L266.4 442.9M264.6 427.8L263.0 423.6M286.8 418.1L285.2 413.6M299.6 419.3L303.0 415.4M295.3 441.1L296.5 445.8M317.4 431.4L320.3 427.3M323.5 442.1L320.7 446.4M345.9 432.3L344.6 427.9M358.4 433.5L362.1 429.6M354.9 454.5L356.9 458.7M342.1 453.5L339.0 457.8M376.9 445.1L378.4 450.2M378.6 439.8L377.1 434.9M378.6 439.8L383.5 440.1M378.6 439.8L381.0 439.6M249.3 460.9L249.0 456.1M236.1 467.0L235.1 471.6M259.6 465.0L264.3 462.7M259.6 465.0L260.5 470.1" stroke="#7a4e30" stroke-width="1.16" fill="none"/><path d="M249.6 493.9L248.7 497.4M240.0 437.8L240.1 432.3M237.2 444.2L234.6 445.2M236.8 445.5L233.6 447.8M251.2 437.7L246.2 437.7M262.9 437.6L263.4 434.1M266.4 442.9L270.5 444.7M263.0 423.6L261.4 419.3M285.2 413.6L283.6 409.1M303.0 415.4L306.4 411.4M296.5 445.8L297.6 450.5M320.3 427.3L323.2 423.2M320.7 446.4L317.9 450.6M344.6 427.9L343.3 423.4M362.1 429.6L365.8 425.7M356.9 458.7L358.8 462.9M339.0 457.8L335.8 462.0M378.4 450.2L379.8 455.3M377.1 434.9L375.5 430.0M383.5 440.1L388.3 440.5M381.0 439.6L383.3 439.5M249.0 456.1L248.7 451.3M235.1 471.6L234.1 476.1M264.3 462.7L269.0 460.4M260.5 470.1L261.4 475.1M223.1 440.3L221.2 436.4" stroke="#dcd6cc" stroke-width="1.16" fill="none"/><path d="M267.1 449.1L274.1 449.3M278.1 444.5L274.1 449.3M223.8 455.3L225.2 452.9M216.4 460.4L210.4 463.1M223.8 450.9L225.0 444.2" stroke="#e83030" stroke-width="1.45" fill="none"/><path d="M229.3 462.4L222.5 457.7M222.5 457.7L223.8 455.3M222.5 457.7L216.4 460.4M222.5 457.7L223.8 450.9" stroke="#d8d830" stroke-width="1.45" fill="none"/><path d="M225.0 444.2L223.1 440.3" stroke="#e83030" stroke-width="1.16" fill="none"/><circle cx="248.7" cy="497.4" r="1.50" fill="url(#gH)"/><circle cx="246.2" cy="437.7" r="1.50" fill="url(#gH)"/><circle cx="263.4" cy="434.1" r="1.50" fill="url(#gH)"/><circle cx="270.5" cy="444.7" r="1.50" fill="url(#gH)"/><circle cx="283.6" cy="409.1" r="1.50" fill="url(#gH)"/><circle cx="306.4" cy="411.4" r="1.50" fill="url(#gH)"/><circle cx="297.6" cy="450.5" r="1.50" fill="url(#gH)"/><circle cx="261.4" cy="419.3" r="1.50" fill="url(#gH)"/><circle cx="323.2" cy="423.2" r="1.50" fill="url(#gH)"/><circle cx="317.9" cy="450.6" r="1.50" fill="url(#gH)"/><circle cx="343.3" cy="423.4" r="1.50" fill="url(#gH)"/><circle cx="365.8" cy="425.7" r="1.50" fill="url(#gH)"/><circle cx="358.8" cy="462.9" r="1.50" fill="url(#gH)"/><circle cx="335.8" cy="462.0" r="1.50" fill="url(#gH)"/><circle cx="375.5" cy="430.0" r="1.50" fill="url(#gH)"/><circle cx="388.3" cy="440.5" r="1.50" fill="url(#gH)"/><circle cx="379.8" cy="455.3" r="1.50" fill="url(#gH)"/><circle cx="383.3" cy="439.5" r="1.50" fill="url(#gH)"/><circle cx="240.1" cy="432.3" r="1.50" fill="url(#gH)"/><circle cx="234.6" cy="445.2" r="1.50" fill="url(#gH)"/><circle cx="233.6" cy="447.8" r="1.50" fill="url(#gH)"/><circle cx="248.7" cy="451.3" r="1.50" fill="url(#gH)"/><circle cx="234.1" cy="476.1" r="1.50" fill="url(#gH)"/><circle cx="269.0" cy="460.4" r="1.50" fill="url(#gH)"/><circle cx="261.4" cy="475.1" r="1.50" fill="url(#gH)"/><circle cx="221.2" cy="436.4" r="1.50" fill="url(#gH)"/><circle cx="250.3" cy="469.5" r="2.60" fill="url(#gC)"/><circle cx="253.8" cy="469.5" r="2.60" fill="url(#gC)"/><circle cx="252.3" cy="483.2" r="2.60" fill="url(#gC)"/><circle cx="250.5" cy="490.3" r="2.60" fill="url(#gC)"/><circle cx="248.7" cy="483.2" r="2.60" fill="url(#gC)"/><circle cx="255.8" cy="460.4" r="2.70" fill="url(#gN)"/><circle cx="253.5" cy="448.8" r="2.60" fill="url(#gC)"/><circle cx="260.2" cy="448.8" r="2.60" fill="url(#gC)"/><circle cx="239.9" cy="443.2" r="2.60" fill="url(#gC)"/><circle cx="256.3" cy="437.7" r="2.60" fill="url(#gC)"/><circle cx="262.4" cy="441.2" r="2.60" fill="url(#gC)"/><circle cx="264.6" cy="427.8" r="2.60" fill="url(#gC)"/><circle cx="277.8" cy="428.0" r="2.60" fill="url(#gC)"/><circle cx="282.1" cy="439.7" r="2.60" fill="url(#gC)"/><circle cx="274.1" cy="449.3" r="3.00" fill="url(#gO)"/><circle cx="286.8" cy="418.1" r="2.60" fill="url(#gC)"/><circle cx="299.6" cy="419.3" r="2.60" fill="url(#gC)"/><circle cx="304.1" cy="431.0" r="2.60" fill="url(#gC)"/><circle cx="295.3" cy="441.1" r="2.60" fill="url(#gC)"/><circle cx="317.4" cy="431.4" r="2.60" fill="url(#gC)"/><circle cx="323.5" cy="442.1" r="2.60" fill="url(#gC)"/><circle cx="336.6" cy="442.4" r="2.60" fill="url(#gC)"/><circle cx="345.9" cy="432.3" r="2.60" fill="url(#gC)"/><circle cx="358.4" cy="433.5" r="2.60" fill="url(#gC)"/><circle cx="362.9" cy="444.2" r="2.70" fill="url(#gN)"/><circle cx="354.9" cy="454.5" r="2.60" fill="url(#gC)"/><circle cx="342.1" cy="453.5" r="2.60" fill="url(#gC)"/><circle cx="376.9" cy="445.1" r="2.60" fill="url(#gC)"/><circle cx="378.6" cy="439.8" r="2.60" fill="url(#gC)"/><circle cx="249.3" cy="460.9" r="2.60" fill="url(#gC)"/><circle cx="236.1" cy="467.0" r="2.60" fill="url(#gC)"/><circle cx="222.5" cy="457.7" r="3.30" fill="url(#gS)"/><circle cx="259.6" cy="465.0" r="2.60" fill="url(#gC)"/><circle cx="225.2" cy="452.9" r="3.00" fill="url(#gO)"/><circle cx="210.4" cy="463.1" r="3.00" fill="url(#gO)"/><circle cx="225.0" cy="444.2" r="3.00" fill="url(#gO)"/><path d="M255.7 588.7L262.5 589.2M262.5 589.2L269.4 589.7M255.7 588.7L251.2 594.0M251.2 594.0L246.8 599.2M269.4 589.7L270.0 593.7M270.0 593.7L270.7 597.6M269.4 589.7L275.2 586.1M275.2 586.1L281.0 582.5M270.7 597.6L265.0 599.9M270.7 597.6L277.4 598.8M277.4 598.8L284.2 600.0M253.1 600.7L246.8 599.2M246.8 599.2L247.4 607.0M247.4 607.0L248.1 614.7M281.0 582.5L287.9 583.6M287.9 583.6L294.7 584.7M294.7 584.7L295.4 589.5M295.4 589.5L296.1 594.3M296.1 594.3L290.1 597.1M290.1 597.1L284.2 600.0M296.1 594.3L303.2 596.5M303.2 596.5L310.4 598.6M248.1 614.7L253.1 618.3M248.1 614.7L242.3 619.4M242.3 619.4L236.6 624.0M264.2 619.2L270.4 616.6M256.2 629.3L254.4 636.8M270.4 616.6L277.3 617.0M277.3 617.0L284.2 617.3M284.2 617.3L287.4 624.5M287.4 624.5L290.7 631.8M290.7 631.8L286.8 635.5M236.6 624.0L238.9 631.2M238.9 631.2L241.3 638.4M236.6 624.0L229.3 622.1M229.3 622.1L222.1 620.2M241.3 638.4L247.9 637.6M247.9 637.6L254.4 636.8M241.3 638.4L238.4 645.1M238.4 645.1L235.5 651.8M254.4 636.8L257.9 642.3M257.9 642.3L261.4 647.9M235.5 651.8L239.1 657.5M239.1 657.5L242.6 663.1M242.6 663.1L248.9 662.2M248.9 662.2L255.2 661.4M255.2 661.4L258.3 654.6M258.3 654.6L261.4 647.9M310.4 598.6L311.1 605.7M311.1 605.7L311.9 612.7M311.9 612.7L318.3 615.9M318.3 615.9L324.7 619.1M324.7 619.1L331.4 615.9M331.4 615.9L338.2 612.7M324.7 619.1L324.7 626.9M324.7 626.9L324.7 634.6M338.2 612.7L344.0 616.6M344.0 616.6L349.9 620.5M349.9 620.5L349.5 627.7M343.1 638.4L337.0 641.9M355.7 638.9L362.3 642.9M337.0 641.9L330.9 638.2M330.9 638.2L324.7 634.6M362.3 642.9L366.6 644.7M366.6 644.7L371.0 646.5" stroke="#7a4e30" stroke-width="1.45" fill="none"/><path d="M255.7 588.7L253.8 583.2M246.8 599.2L241.6 597.6M246.8 599.2L249.1 599.9M281.0 582.5L280.6 579.0M294.7 584.7L299.3 582.0M284.2 600.0L284.5 603.2M270.4 616.6L269.4 611.0M270.4 616.6L270.8 619.9M284.2 617.3L283.9 614.3M284.2 617.3L288.1 614.8M290.7 631.8L296.2 631.5M236.6 624.0L234.8 619.0M236.6 624.0L241.7 625.2M236.6 624.0L233.1 627.9M222.1 620.2L220.3 615.2M222.1 620.2L218.3 624.0M235.5 651.8L230.4 652.6M242.6 663.1L240.3 668.5M255.2 661.4L257.9 665.8M261.4 647.9L266.4 647.1M310.4 598.6L314.8 595.2M311.9 612.7L307.5 616.1M338.2 612.7L338.8 606.9M349.9 620.5L355.1 618.0M337.0 641.9L337.2 647.5M324.7 634.6L319.9 636.9M362.3 642.9L365.6 639.6M362.3 642.9L360.8 647.6M371.0 646.5L372.4 641.8M371.0 646.5L375.4 649.5M371.0 646.5L368.5 648.8" stroke="#7a4e30" stroke-width="1.16" fill="none"/><path d="M253.8 583.2L252.0 577.6M241.6 597.6L236.3 596.0M249.1 599.9L251.4 600.5M280.6 579.0L280.3 575.5M299.3 582.0L303.9 579.4M284.5 603.2L284.9 606.5M269.4 611.0L268.5 605.5M270.8 619.9L271.1 623.2M283.9 614.3L283.6 611.4M288.1 614.8L292.1 612.3M296.2 631.5L301.7 631.2M234.8 619.0L233.0 614.0M241.7 625.2L246.8 626.5M233.1 627.9L229.7 631.8M220.3 615.2L218.5 610.1M218.3 624.0L214.6 627.8M230.4 652.6L225.3 653.5M240.3 668.5L238.1 673.9M257.9 665.8L260.5 670.2M266.4 647.1L271.5 646.3M314.8 595.2L319.2 591.8M307.5 616.1L303.1 619.5M338.8 606.9L339.3 601.0M355.1 618.0L360.4 615.6M337.2 647.5L337.4 653.1M319.9 636.9L315.1 639.2M365.6 639.6L368.8 636.3M360.8 647.6L359.3 652.4M372.4 641.8L373.9 637.0M375.4 649.5L379.8 652.4M368.5 648.8L366.0 651.0" stroke="#dcd6cc" stroke-width="1.16" fill="none"/><path d="M265.0 599.9L259.3 602.2M259.3 602.2L253.1 600.7M276.8 634.5L270.7 629.8M281.1 646.5L279.4 653.9M288.7 638.2L294.6 637.3" stroke="#e83030" stroke-width="1.45" fill="none"/><path d="M253.1 618.3L258.0 621.9M258.0 621.9L264.2 619.2M258.0 621.9L256.2 629.3M349.5 627.7L349.1 634.9M349.1 634.9L343.1 638.4M349.1 634.9L355.7 638.9" stroke="#5a74d8" stroke-width="1.45" fill="none"/><path d="M286.8 635.5L282.8 639.1M282.8 639.1L276.8 634.5M282.8 639.1L281.1 646.5M282.8 639.1L288.7 638.2" stroke="#d8d830" stroke-width="1.45" fill="none"/><circle cx="252.0" cy="577.6" r="1.50" fill="url(#gH)"/><circle cx="236.3" cy="596.0" r="1.50" fill="url(#gH)"/><circle cx="251.4" cy="600.5" r="1.50" fill="url(#gH)"/><circle cx="280.3" cy="575.5" r="1.50" fill="url(#gH)"/><circle cx="284.9" cy="606.5" r="1.50" fill="url(#gH)"/><circle cx="303.9" cy="579.4" r="1.50" fill="url(#gH)"/><circle cx="268.5" cy="605.5" r="1.50" fill="url(#gH)"/><circle cx="271.1" cy="623.2" r="1.50" fill="url(#gH)"/><circle cx="283.6" cy="611.4" r="1.50" fill="url(#gH)"/><circle cx="292.1" cy="612.3" r="1.50" fill="url(#gH)"/><circle cx="301.7" cy="631.2" r="1.50" fill="url(#gH)"/><circle cx="218.5" cy="610.1" r="1.50" fill="url(#gH)"/><circle cx="214.6" cy="627.8" r="1.50" fill="url(#gH)"/><circle cx="233.0" cy="614.0" r="1.50" fill="url(#gH)"/><circle cx="246.8" cy="626.5" r="1.50" fill="url(#gH)"/><circle cx="229.7" cy="631.8" r="1.50" fill="url(#gH)"/><circle cx="225.3" cy="653.5" r="1.50" fill="url(#gH)"/><circle cx="238.1" cy="673.9" r="1.50" fill="url(#gH)"/><circle cx="260.5" cy="670.2" r="1.50" fill="url(#gH)"/><circle cx="271.5" cy="646.3" r="1.50" fill="url(#gH)"/><circle cx="319.2" cy="591.8" r="1.50" fill="url(#gH)"/><circle cx="303.1" cy="619.5" r="1.50" fill="url(#gH)"/><circle cx="339.3" cy="601.0" r="1.50" fill="url(#gH)"/><circle cx="360.4" cy="615.6" r="1.50" fill="url(#gH)"/><circle cx="337.4" cy="653.1" r="1.50" fill="url(#gH)"/><circle cx="315.1" cy="639.2" r="1.50" fill="url(#gH)"/><circle cx="368.8" cy="636.3" r="1.50" fill="url(#gH)"/><circle cx="359.3" cy="652.4" r="1.50" fill="url(#gH)"/><circle cx="373.9" cy="637.0" r="1.50" fill="url(#gH)"/><circle cx="379.8" cy="652.4" r="1.50" fill="url(#gH)"/><circle cx="366.0" cy="651.0" r="1.50" fill="url(#gH)"/><circle cx="255.7" cy="588.7" r="2.60" fill="url(#gC)"/><circle cx="269.4" cy="589.7" r="2.60" fill="url(#gC)"/><circle cx="270.7" cy="597.6" r="2.60" fill="url(#gC)"/><circle cx="259.3" cy="602.2" r="3.00" fill="url(#gO)"/><circle cx="246.8" cy="599.2" r="2.60" fill="url(#gC)"/><circle cx="281.0" cy="582.5" r="2.60" fill="url(#gC)"/><circle cx="294.7" cy="584.7" r="2.60" fill="url(#gC)"/><circle cx="296.1" cy="594.3" r="2.60" fill="url(#gC)"/><circle cx="284.2" cy="600.0" r="2.60" fill="url(#gC)"/><circle cx="248.1" cy="614.7" r="2.60" fill="url(#gC)"/><circle cx="258.0" cy="621.9" r="2.70" fill="url(#gN)"/><circle cx="270.4" cy="616.6" r="2.60" fill="url(#gC)"/><circle cx="284.2" cy="617.3" r="2.60" fill="url(#gC)"/><circle cx="290.7" cy="631.8" r="2.60" fill="url(#gC)"/><circle cx="282.8" cy="639.1" r="3.30" fill="url(#gS)"/><circle cx="270.7" cy="629.8" r="3.00" fill="url(#gO)"/><circle cx="279.4" cy="653.9" r="3.00" fill="url(#gO)"/><circle cx="294.6" cy="637.3" r="3.00" fill="url(#gO)"/><circle cx="236.6" cy="624.0" r="2.60" fill="url(#gC)"/><circle cx="241.3" cy="638.4" r="2.60" fill="url(#gC)"/><circle cx="254.4" cy="636.8" r="2.60" fill="url(#gC)"/><circle cx="222.1" cy="620.2" r="2.60" fill="url(#gC)"/><circle cx="235.5" cy="651.8" r="2.60" fill="url(#gC)"/><circle cx="242.6" cy="663.1" r="2.60" fill="url(#gC)"/><circle cx="255.2" cy="661.4" r="2.60" fill="url(#gC)"/><circle cx="261.4" cy="647.9" r="2.60" fill="url(#gC)"/><circle cx="310.4" cy="598.6" r="2.60" fill="url(#gC)"/><circle cx="311.9" cy="612.7" r="2.60" fill="url(#gC)"/><circle cx="324.7" cy="619.1" r="2.60" fill="url(#gC)"/><circle cx="338.2" cy="612.7" r="2.60" fill="url(#gC)"/><circle cx="349.9" cy="620.5" r="2.60" fill="url(#gC)"/><circle cx="349.1" cy="634.9" r="2.70" fill="url(#gN)"/><circle cx="337.0" cy="641.9" r="2.60" fill="url(#gC)"/><circle cx="324.7" cy="634.6" r="2.60" fill="url(#gC)"/><circle cx="362.3" cy="642.9" r="2.60" fill="url(#gC)"/><circle cx="371.0" cy="646.5" r="2.60" fill="url(#gC)"/><line x1="294.60" y1="637.30" x2="315.10" y2="639.20" stroke="#aaa" stroke-width="0.9" stroke-dasharray="2,1.5" stroke-linecap="butt"/><line x1="303.10" y1="619.50" x2="298.00" y2="632.00" stroke="#aaa" stroke-width="0.9" stroke-dasharray="2,1.5" stroke-linecap="butt"/><path d="M478.1 211.4L480.4 207.3M476.0 210.4L477.8 206.1M467.3 217.3L468.6 213.3M462.4 223.8L462.6 221.3M450.4 244.7L450.1 243.1M445.7 254.9L444.2 255.7M437.4 277.6L435.6 279.3M435.5 285.4L433.3 289.1M435.9 296.6L433.6 300.7M438.0 297.6L436.2 301.9M446.7 290.7L445.4 294.7M451.6 284.2L451.4 286.7M463.6 263.3L463.9 264.9M468.3 253.1L469.8 252.3M476.6 230.4L478.4 228.7M478.5 222.6L480.7 218.9M483.5 217.4L485.7 213.8M483.5 217.4L487.3 220.1M461.1 207.0L461.8 202.7M461.1 207.0L456.7 205.8M467.6 238.6L468.3 237.1M467.6 238.6L471.7 241.0M445.2 228.2L444.4 225.9M445.2 228.2L441.1 226.7M452.0 272.0L451.3 273.5M452.0 272.0L456.5 273.7M429.7 261.6L427.4 262.4M429.7 261.6L425.9 259.4M445.9 297.8L444.7 301.8M445.9 297.8L450.5 299.0M423.6 287.4L420.7 290.6M423.6 287.4L419.9 284.7M452.9 301.0L452.2 305.3M452.9 301.0L457.3 302.2M430.5 290.6L428.3 294.2M430.5 290.6L426.7 287.9M468.8 279.8L469.6 282.1M468.8 279.8L472.9 281.3M446.4 269.4L445.7 270.9M446.4 269.4L442.3 267.0M484.3 246.4L486.6 245.6M484.3 246.4L488.1 248.6M462.0 236.0L462.7 234.5M462.0 236.0L457.5 234.3M490.4 220.6L493.3 217.4M490.4 220.6L494.1 223.3M468.1 210.2L469.3 206.2M468.1 210.2L463.5 209.0" stroke="#b08262" stroke-width="1.05" fill="none"/><path d="M480.4 207.3L482.6 203.2M477.8 206.1L479.5 201.7M468.6 213.3L470.0 209.2M462.6 221.3L462.8 218.8M450.1 243.1L449.8 241.5M444.2 255.7L442.8 256.5M435.6 279.3L433.8 281.1M433.3 289.1L431.1 292.7M433.6 300.7L431.4 304.8M436.2 301.9L434.5 306.3M445.4 294.7L444.0 298.8M451.4 286.7L451.2 289.2M463.9 264.9L464.2 266.5M469.8 252.3L471.2 251.5M478.4 228.7L480.2 226.9M480.7 218.9L482.9 215.3M485.7 213.8L487.9 210.3M487.3 220.1L491.2 222.8M461.8 202.7L462.4 198.4M456.7 205.8L452.3 204.7M468.3 237.1L469.1 235.5M471.7 241.0L475.9 243.3M444.4 225.9L443.5 223.6M441.1 226.7L437.0 225.1M451.3 273.5L450.6 275.1M456.5 273.7L460.9 275.4M427.4 262.4L425.1 263.2M425.9 259.4L422.0 257.2M444.7 301.8L443.4 305.8M450.5 299.0L455.1 300.2M420.7 290.6L417.9 293.9M419.9 284.7L416.1 282.1M452.2 305.3L451.6 309.6M457.3 302.2L461.7 303.3M428.3 294.2L426.1 297.7M426.7 287.9L422.8 285.2M469.6 282.1L470.5 284.4M472.9 281.3L477.0 282.9M445.7 270.9L444.9 272.5M442.3 267.0L438.1 264.7M486.6 245.6L488.9 244.8M488.1 248.6L492.0 250.8M462.7 234.5L463.4 232.9M457.5 234.3L453.1 232.6M493.3 217.4L496.1 214.1M494.1 223.3L497.9 225.9M469.3 206.2L470.6 202.2M463.5 209.0L458.9 207.8" stroke="#dcd0bd" stroke-width="1.05" fill="none"/><path d="M478.1 211.4L477.1 210.9M477.1 210.9L476.0 210.4M478.1 211.4L481.9 214.9M476.0 210.4L479.2 213.7M486.3 221.0L487.1 223.6M484.8 220.3L487.1 223.6M487.1 223.6L489.4 227.0M478.1 211.4L473.6 211.1M476.0 210.4L470.9 209.9M465.0 211.0L461.0 211.4M463.4 210.3L461.0 211.4M461.0 211.4L456.9 211.8M467.3 217.3L464.9 220.6M464.9 220.6L462.4 223.8M467.3 217.3L471.8 219.6M462.4 223.8L465.7 227.7M476.5 226.9L476.8 231.8M472.9 231.6L476.8 231.8M476.8 231.8L479.6 234.8M467.3 217.3L463.5 215.8M462.4 223.8L457.4 223.8M455.1 216.9L450.6 219.6M451.5 221.7L450.6 219.6M450.6 219.6L447.0 219.6M450.4 244.7L448.0 249.8M448.0 249.8L445.7 254.9M450.4 244.7L455.4 245.6M445.7 254.9L449.6 258.2M461.5 251.5L462.5 256.6M458.0 259.0L462.5 256.6M462.5 256.6L466.1 258.2M450.4 244.7L447.1 241.7M445.7 254.9L441.3 254.3M440.1 241.5L436.3 244.4M436.6 249.0L436.3 244.4M436.3 244.4L433.5 243.1M437.4 277.6L436.5 281.5M436.5 281.5L435.5 285.4M437.4 277.6L442.5 277.6M435.5 285.4L440.2 287.4M450.1 280.6L452.7 283.4M448.7 286.4L452.7 283.4M452.7 283.4L456.8 283.7M437.4 277.6L434.2 273.7M435.5 285.4L431.9 283.5M428.7 270.6L426.5 271.2M427.3 276.4L426.5 271.2M426.5 271.2L424.2 268.5M435.9 296.6L436.9 297.1M436.9 297.1L438.0 297.6M435.9 296.6L440.4 296.9M438.0 297.6L443.1 298.1M449.0 297.0L453.0 296.6M450.6 297.7L453.0 296.6M453.0 296.6L457.1 296.2M435.9 296.6L432.1 293.1M438.0 297.6L434.8 294.3M427.7 287.0L426.9 284.4M429.2 287.7L426.9 284.4M426.9 284.4L424.6 281.0M446.7 290.7L449.1 287.4M449.1 287.4L451.6 284.2M446.7 290.7L450.5 292.2M451.6 284.2L456.6 284.2M458.9 291.1L463.4 288.4M462.5 286.3L463.4 288.4M463.4 288.4L467.0 288.4M446.7 290.7L442.2 288.4M451.6 284.2L448.3 280.3M437.5 281.1L437.2 276.2M441.1 276.4L437.2 276.2M437.2 276.2L434.4 273.2M463.6 263.3L466.0 258.2M466.0 258.2L468.3 253.1M463.6 263.3L466.9 266.3M468.3 253.1L472.7 253.7M473.9 266.5L477.7 263.6M477.4 259.0L477.7 263.6M477.7 263.6L480.5 264.9M463.6 263.3L458.6 262.4M468.3 253.1L464.4 249.8M452.5 256.5L451.5 251.4M456.0 249.0L451.5 251.4M451.5 251.4L447.9 249.8M476.6 230.4L477.5 226.5M477.5 226.5L478.5 222.6M476.6 230.4L479.8 234.3M478.5 222.6L482.1 224.5M485.3 237.4L487.5 236.8M486.7 231.6L487.5 236.8M487.5 236.8L489.8 239.5M476.6 230.4L471.5 230.4M478.5 222.6L473.8 220.6M463.9 227.4L461.3 224.6M465.3 221.6L461.3 224.6M461.3 224.6L457.2 224.3M483.0 217.2L483.5 217.4M479.8 219.7L483.5 217.4M463.5 208.1L461.1 207.0M460.4 210.6L461.1 207.0M468.3 235.1L467.6 238.6M464.0 242.6L467.6 238.6M448.8 226.0L445.2 228.2M444.5 233.5L445.2 228.2M452.7 266.7L452.0 272.0M449.8 274.8L452.0 272.0M433.3 257.6L429.7 261.6M430.3 265.7L429.7 261.6M445.4 293.6L445.9 297.8M445.5 297.5L445.9 297.8M425.9 284.5L423.6 287.4M426.0 288.5L423.6 287.4M450.5 299.9L452.9 301.0M453.6 297.4L452.9 301.0M431.0 290.8L430.5 290.6M434.2 288.3L430.5 290.6M465.2 282.0L468.8 279.8M469.5 274.5L468.8 279.8M445.7 272.9L446.4 269.4M450.0 265.4L446.4 269.4M480.7 250.4L484.3 246.4M483.7 242.3L484.3 246.4M461.3 241.3L462.0 236.0M464.2 233.2L462.0 236.0M488.1 223.5L490.4 220.6M488.0 219.5L490.4 220.6M468.6 214.4L468.1 210.2M468.5 210.5L468.1 210.2" stroke="#b08262" stroke-width="1.15" fill="none"/><path d="M481.9 214.9L485.6 218.5M479.2 213.7L482.5 217.0M485.6 218.5L486.3 221.0M482.5 217.0L484.8 220.3M473.6 211.1L469.0 210.7M470.9 209.9L465.9 209.3M469.0 210.7L465.0 211.0M465.9 209.3L463.4 210.3M471.8 219.6L476.2 221.9M465.7 227.7L469.1 231.5M476.2 221.9L476.5 226.9M469.1 231.5L472.9 231.6M463.5 215.8L459.6 214.2M457.4 223.8L452.5 223.8M459.6 214.2L455.1 216.9M452.5 223.8L451.5 221.7M455.4 245.6L460.5 246.5M449.6 258.2L453.5 261.5M460.5 246.5L461.5 251.5M453.5 261.5L458.0 259.0M447.1 241.7L443.9 238.7M441.3 254.3L436.9 253.7M443.9 238.7L440.1 241.5M436.9 253.7L436.6 249.0M442.5 277.6L447.5 277.7M440.2 287.4L444.8 289.3M447.5 277.7L450.1 280.6M444.8 289.3L448.7 286.4M434.2 273.7L430.9 269.9M431.9 283.5L428.2 281.6M430.9 269.9L428.7 270.6M428.2 281.6L427.3 276.4M440.4 296.9L445.0 297.3M443.1 298.1L448.1 298.7M445.0 297.3L449.0 297.0M448.1 298.7L450.6 297.7M432.1 293.1L428.4 289.5M434.8 294.3L431.5 291.0M428.4 289.5L427.7 287.0M431.5 291.0L429.2 287.7M450.5 292.2L454.4 293.8M456.6 284.2L461.5 284.2M454.4 293.8L458.9 291.1M461.5 284.2L462.5 286.3M442.2 288.4L437.8 286.1M448.3 280.3L444.9 276.5M437.8 286.1L437.5 281.1M444.9 276.5L441.1 276.4M466.9 266.3L470.1 269.3M472.7 253.7L477.1 254.3M470.1 269.3L473.9 266.5M477.1 254.3L477.4 259.0M458.6 262.4L453.5 261.5M464.4 249.8L460.5 246.5M453.5 261.5L452.5 256.5M460.5 246.5L456.0 249.0M479.8 234.3L483.1 238.1M482.1 224.5L485.8 226.4M483.1 238.1L485.3 237.4M485.8 226.4L486.7 231.6M471.5 230.4L466.5 230.3M473.8 220.6L469.2 218.7M466.5 230.3L463.9 227.4M469.2 218.7L465.3 221.6M482.5 217.0L483.0 217.2M476.2 221.9L479.8 219.7M465.9 209.3L463.5 208.1M459.6 214.2L460.4 210.6M469.1 231.5L468.3 235.1M460.5 246.5L464.0 242.6M452.5 223.8L448.8 226.0M443.9 238.7L444.5 233.5M453.5 261.5L452.7 266.7M447.5 277.7L449.8 274.8M436.9 253.7L433.3 257.6M430.9 269.9L430.3 265.7M444.8 289.3L445.4 293.6M445.0 297.3L445.5 297.5M428.2 281.6L425.9 284.5M428.4 289.5L426.0 288.5M448.1 298.7L450.5 299.9M454.4 293.8L453.6 297.4M431.5 291.0L431.0 290.8M437.8 286.1L434.2 288.3M461.5 284.2L465.2 282.0M470.1 269.3L469.5 274.5M444.9 276.5L445.7 272.9M453.5 261.5L450.0 265.4M477.1 254.3L480.7 250.4M483.1 238.1L483.7 242.3M460.5 246.5L461.3 241.3M466.5 230.3L464.2 233.2M485.8 226.4L488.1 223.5M485.6 218.5L488.0 219.5M469.2 218.7L468.6 214.4M469.0 210.7L468.5 210.5" stroke="#919ada" stroke-width="1.15" fill="none"/><path d="M489.4 227.0L491.7 230.5M456.9 211.8L452.7 212.3M479.6 234.8L482.4 237.8M447.0 219.6L443.5 219.6M466.1 258.2L469.7 259.9M433.5 243.1L430.7 241.8M456.8 283.7L460.9 283.9M424.2 268.5L422.0 265.8M457.1 296.2L461.3 295.7M424.6 281.0L422.3 277.5M467.0 288.4L470.5 288.4M434.4 273.2L431.6 270.2M480.5 264.9L483.3 266.2M447.9 249.8L444.3 248.1M489.8 239.5L492.0 242.2M457.2 224.3L453.1 224.1" stroke="#d87282" stroke-width="1.15" fill="none"/><path d="M407.8 212.3L409.3 212.8M409.3 212.8L410.8 213.3M407.8 212.3L408.6 216.2M408.6 216.2L409.3 220.0M410.8 213.3L412.9 217.9M412.9 217.9L414.9 222.5M414.9 222.5L415.9 226.6M415.9 226.6L417.0 230.7M414.9 222.5L417.2 223.9M417.2 223.9L419.5 225.4M417.0 230.7L415.4 230.2M415.4 230.2L413.9 229.7M417.0 230.7L419.1 235.1M413.9 229.7L411.6 224.8M411.6 224.8L409.3 220.0M419.5 225.4L424.9 222.6M424.9 222.6L430.3 219.7M419.5 225.4L420.3 232.4M426.2 240.4L431.3 241.4M421.4 244.3L421.7 249.2M431.3 241.4L431.5 244.7M431.5 244.7L431.6 248.0M431.6 248.0L436.6 250.3M436.6 250.3L441.6 252.6M441.6 252.6L446.9 250.8M446.9 250.8L452.1 248.9M441.6 252.6L441.2 256.6M441.2 256.6L440.8 260.7M452.1 248.9L456.3 251.4M456.3 251.4L460.5 253.9M452.1 248.9L452.9 244.9M460.5 253.9L460.2 258.1M460.2 258.1L460.0 262.4M460.0 262.4L454.9 264.0M454.9 264.0L449.7 265.7M460.0 262.4L464.4 264.6M464.4 264.6L468.8 266.8M449.7 265.7L445.2 263.2M445.2 263.2L440.8 260.7M468.8 266.8L473.9 265.1M473.9 265.1L478.9 263.4M478.9 263.4L483.4 264.4M483.4 264.4L487.8 265.5M487.8 265.5L492.5 262.8M492.5 262.8L497.2 260.0M487.8 265.5L487.8 268.9M487.8 268.9L487.8 272.3M497.2 260.0L501.4 260.3M501.4 260.3L505.6 260.6M505.6 260.6L505.4 263.9M500.9 270.1L496.6 273.0M496.6 273.0L492.2 272.6M492.2 272.6L487.8 272.3M421.7 249.2L417.3 252.8M417.3 252.8L412.9 256.3M412.9 256.3L407.6 253.2M407.6 253.2L402.3 250.2M402.3 250.2L401.1 247.1" stroke="#7a4e30" stroke-width="1.3" fill="none"/><path d="M407.8 212.3L405.8 208.7M410.8 213.3L409.8 210.2M413.9 229.7L414.5 233.0M409.3 220.0L407.0 222.6M430.3 219.7L429.8 215.4M430.3 219.7L432.9 220.8M431.3 241.4L434.2 240.6M468.8 266.8L468.1 269.2M478.9 263.4L479.3 260.8M497.2 260.0L497.5 257.1M505.6 260.6L507.1 259.5M496.6 273.0L496.5 275.4M487.8 272.3L484.5 275.0M412.9 256.3L412.2 258.9" stroke="#7a4e30" stroke-width="1.04" fill="none"/><path d="M405.8 208.7L403.7 205.0M409.8 210.2L408.8 207.0M414.5 233.0L415.2 236.3M407.0 222.6L404.7 225.1M429.8 215.4L429.2 211.1M432.9 220.8L435.4 222.0M434.2 240.6L437.2 239.7M451.0 238.0L448.4 235.2M468.1 269.2L467.4 271.6M479.3 260.8L479.7 258.1M497.5 257.1L497.8 254.2M507.1 259.5L508.7 258.3M496.5 275.4L496.4 277.7M484.5 275.0L481.2 277.6M412.2 258.9L411.5 261.4" stroke="#dcd6cc" stroke-width="1.04" fill="none"/><path d="M419.1 235.1L421.1 239.4M420.3 232.4L421.1 239.4M421.1 239.4L426.2 240.4M421.1 239.4L421.4 244.3M505.4 263.9L505.2 267.1M505.2 267.1L500.9 270.1" stroke="#5a74d8" stroke-width="1.3" fill="none"/><path d="M452.9 244.9L453.7 240.8M397.5 239.4L395.1 234.9M406.0 243.8L412.1 243.6M398.0 248.4L396.1 252.8" stroke="#e83030" stroke-width="1.3" fill="none"/><path d="M453.7 240.8L451.0 238.0" stroke="#e83030" stroke-width="1.04" fill="none"/><path d="M401.1 247.1L399.8 244.0M399.8 244.0L397.5 239.4M399.8 244.0L406.0 243.8M399.8 244.0L398.0 248.4" stroke="#d8d830" stroke-width="1.3" fill="none"/><circle cx="403.7" cy="205.0" r="1.26" fill="url(#gH)"/><circle cx="408.8" cy="207.0" r="1.26" fill="url(#gH)"/><circle cx="404.7" cy="225.1" r="1.26" fill="url(#gH)"/><circle cx="415.2" cy="236.3" r="1.26" fill="url(#gH)"/><circle cx="429.2" cy="211.1" r="1.26" fill="url(#gH)"/><circle cx="435.4" cy="222.0" r="1.26" fill="url(#gH)"/><circle cx="437.2" cy="239.7" r="1.26" fill="url(#gH)"/><circle cx="448.4" cy="235.2" r="1.26" fill="url(#gH)"/><circle cx="467.4" cy="271.6" r="1.26" fill="url(#gH)"/><circle cx="479.7" cy="258.1" r="1.26" fill="url(#gH)"/><circle cx="497.8" cy="254.2" r="1.26" fill="url(#gH)"/><circle cx="508.7" cy="258.3" r="1.26" fill="url(#gH)"/><circle cx="496.4" cy="277.7" r="1.26" fill="url(#gH)"/><circle cx="481.2" cy="277.6" r="1.26" fill="url(#gH)"/><circle cx="411.5" cy="261.4" r="1.26" fill="url(#gH)"/><circle cx="407.8" cy="212.3" r="2.18" fill="url(#gC)"/><circle cx="410.8" cy="213.3" r="2.18" fill="url(#gC)"/><circle cx="414.9" cy="222.5" r="2.18" fill="url(#gC)"/><circle cx="417.0" cy="230.7" r="2.18" fill="url(#gC)"/><circle cx="413.9" cy="229.7" r="2.18" fill="url(#gC)"/><circle cx="409.3" cy="220.0" r="2.18" fill="url(#gC)"/><circle cx="419.5" cy="225.4" r="2.18" fill="url(#gC)"/><circle cx="430.3" cy="219.7" r="2.18" fill="url(#gC)"/><circle cx="421.1" cy="239.4" r="2.27" fill="url(#gN)"/><circle cx="431.3" cy="241.4" r="2.18" fill="url(#gC)"/><circle cx="431.6" cy="248.0" r="2.18" fill="url(#gC)"/><circle cx="441.6" cy="252.6" r="2.18" fill="url(#gC)"/><circle cx="452.1" cy="248.9" r="2.18" fill="url(#gC)"/><circle cx="460.5" cy="253.9" r="2.18" fill="url(#gC)"/><circle cx="460.0" cy="262.4" r="2.18" fill="url(#gC)"/><circle cx="449.7" cy="265.7" r="2.18" fill="url(#gC)"/><circle cx="440.8" cy="260.7" r="2.18" fill="url(#gC)"/><circle cx="453.7" cy="240.8" r="2.52" fill="url(#gO)"/><circle cx="468.8" cy="266.8" r="2.18" fill="url(#gC)"/><circle cx="478.9" cy="263.4" r="2.18" fill="url(#gC)"/><circle cx="487.8" cy="265.5" r="2.18" fill="url(#gC)"/><circle cx="497.2" cy="260.0" r="2.18" fill="url(#gC)"/><circle cx="505.6" cy="260.6" r="2.18" fill="url(#gC)"/><circle cx="505.2" cy="267.1" r="2.27" fill="url(#gN)"/><circle cx="496.6" cy="273.0" r="2.18" fill="url(#gC)"/><circle cx="487.8" cy="272.3" r="2.18" fill="url(#gC)"/><circle cx="421.7" cy="249.2" r="2.18" fill="url(#gC)"/><circle cx="412.9" cy="256.3" r="2.18" fill="url(#gC)"/><circle cx="402.3" cy="250.2" r="2.18" fill="url(#gC)"/><circle cx="399.8" cy="244.0" r="2.77" fill="url(#gS)"/><circle cx="395.1" cy="234.9" r="2.52" fill="url(#gO)"/><circle cx="412.1" cy="243.6" r="2.52" fill="url(#gO)"/><circle cx="396.1" cy="252.8" r="2.52" fill="url(#gO)"/><path d="M603.9 216.2L605.6 212.1M601.8 215.4L603.1 211.2M594.2 222.7L595.1 218.7M590.1 229.2L590.1 226.8M580.5 249.8L580.1 248.3M576.9 259.8L575.6 260.7M571.0 281.8L569.4 283.6M569.9 289.4L568.1 293.0M571.1 299.8L569.4 303.9M573.2 300.6L571.9 304.8M580.8 293.3L579.9 297.3M584.9 286.8L584.9 289.2M594.5 266.2L594.9 267.7M598.1 256.2L599.4 255.3M604.0 234.2L605.6 232.4M605.1 226.6L606.9 223.0M609.4 221.4L611.2 217.8M609.4 221.4L613.2 223.6M587.5 213.4L587.7 209.3M587.5 213.4L583.2 212.7M596.2 242.7L596.8 241.2M596.2 242.7L600.3 244.5M574.3 234.7L573.3 232.6M574.3 234.7L570.3 233.6M584.3 275.3L583.8 276.8M584.3 275.3L588.6 276.5M562.4 267.4L560.3 268.3M562.4 267.4L558.6 265.6M580.7 300.1L579.8 304.0M580.7 300.1L585.1 300.9M558.8 292.2L556.4 295.5M558.8 292.2L555.1 290.0M587.5 302.6L587.3 306.7M587.5 302.6L591.8 303.3M565.6 294.6L563.8 298.2M565.6 294.6L561.8 292.4M600.7 281.3L601.7 283.4M600.7 281.3L604.7 282.4M578.8 273.3L578.2 274.8M578.8 273.3L574.7 271.5M612.6 248.6L614.7 247.7M612.6 248.6L616.4 250.4M590.7 240.7L591.2 239.2M590.7 240.7L586.4 239.5M616.2 223.8L618.6 220.5M616.2 223.8L619.9 226.0M594.3 215.9L595.2 212.0M594.3 215.9L589.9 215.1" stroke="#b08262" stroke-width="1.05" fill="none"/><path d="M605.6 212.1L607.4 208.1M603.1 211.2L604.3 207.0M595.1 218.7L596.0 214.8M590.1 226.8L590.1 224.4M580.1 248.3L579.7 246.8M575.6 260.7L574.3 261.5M569.4 283.6L567.9 285.4M568.1 293.0L566.3 296.6M569.4 303.9L567.6 307.9M571.9 304.8L570.7 309.0M579.9 297.3L579.0 301.2M584.9 289.2L584.9 291.6M594.9 267.7L595.3 269.2M599.4 255.3L600.7 254.5M605.6 232.4L607.1 230.6M606.9 223.0L608.7 219.4M611.2 217.8L613.0 214.3M613.2 223.6L617.1 225.8M587.7 209.3L588.0 205.2M583.2 212.7L579.0 212.0M596.8 241.2L597.3 239.6M600.3 244.5L604.4 246.4M573.3 232.6L572.3 230.5M570.3 233.6L566.3 232.5M583.8 276.8L583.2 278.4M588.6 276.5L593.0 277.8M560.3 268.3L558.2 269.3M558.6 265.6L554.8 263.9M579.8 304.0L579.0 307.9M585.1 300.9L589.5 301.7M556.4 295.5L553.9 298.8M555.1 290.0L551.4 287.8M587.3 306.7L587.0 310.8M591.8 303.3L596.0 304.0M563.8 298.2L562.0 301.7M561.8 292.4L557.9 290.2M601.7 283.4L602.7 285.5M604.7 282.4L608.7 283.5M578.2 274.8L577.7 276.4M574.7 271.5L570.6 269.6M614.7 247.7L616.8 246.7M616.4 250.4L620.2 252.1M591.2 239.2L591.8 237.6M586.4 239.5L582.0 238.2M618.6 220.5L621.1 217.2M619.9 226.0L623.6 228.2M595.2 212.0L596.0 208.1M589.9 215.1L585.5 214.3" stroke="#dcd0bd" stroke-width="1.05" fill="none"/><path d="M603.9 216.2L602.8 215.8M602.8 215.8L601.8 215.4M603.9 216.2L607.7 219.2M601.8 215.4L605.1 218.3M612.4 224.5L613.3 226.9M610.9 224.0L613.3 226.9M613.3 226.9L615.8 229.9M603.9 216.2L599.5 216.3M601.8 215.4L597.0 215.3M591.5 216.9L587.7 217.6M589.9 216.4L587.7 217.6M587.7 217.6L583.9 218.3M594.2 222.7L592.2 225.9M592.2 225.9L590.1 229.2M594.2 222.7L598.6 224.5M590.1 229.2L593.6 232.5M603.6 230.9L604.3 235.4M600.6 235.7L604.3 235.4M604.3 235.4L607.2 238.0M594.2 222.7L590.4 221.5M590.1 229.2L585.4 229.6M582.7 223.2L578.6 226.1M579.7 228.0L578.6 226.1M578.6 226.1L575.3 226.4M580.5 249.8L578.7 254.8M578.7 254.8L576.9 259.8M580.5 249.8L585.3 250.2M576.9 259.8L580.8 262.6M591.5 255.3L592.9 260.0M588.8 262.6L592.9 260.0M592.9 260.0L596.4 261.2M580.5 249.8L577.2 247.3M576.9 259.8L572.7 259.6M570.6 247.7L567.2 250.6M567.9 255.0L567.2 250.6M567.2 250.6L564.5 249.6M571.0 281.8L570.4 285.6M570.4 285.6L569.9 289.4M571.0 281.8L575.8 281.4M569.9 289.4L574.4 290.8M583.2 283.6L585.8 286.1M582.4 289.1L585.8 286.1M585.8 286.1L589.7 285.9M571.0 281.8L567.6 278.5M569.9 289.4L566.3 287.8M562.3 275.9L560.2 276.7M561.4 281.5L560.2 276.7M560.2 276.7L557.9 274.3M571.1 299.8L572.2 300.2M572.2 300.2L573.2 300.6M571.1 299.8L575.5 299.7M573.2 300.6L578.0 300.7M583.5 299.1L587.3 298.4M585.1 299.6L587.3 298.4M587.3 298.4L591.1 297.7M571.1 299.8L567.3 296.8M573.2 300.6L569.9 297.7M562.6 291.5L561.7 289.1M564.1 292.0L561.7 289.1M561.7 289.1L559.2 286.1M580.8 293.3L582.8 290.1M582.8 290.1L584.9 286.8M580.8 293.3L584.6 294.5M584.9 286.8L589.6 286.4M592.3 292.8L596.4 289.9M595.3 288.0L596.4 289.9M596.4 289.9L599.7 289.6M580.8 293.3L576.4 291.5M584.9 286.8L581.4 283.5M571.4 285.1L570.7 280.6M574.4 280.3L570.7 280.6M570.7 280.6L567.8 278.0M594.5 266.2L596.3 261.2M596.3 261.2L598.1 256.2M594.5 266.2L597.8 268.7M598.1 256.2L602.3 256.4M604.4 268.3L607.8 265.4M607.1 261.0L607.8 265.4M607.8 265.4L610.5 266.4M594.5 266.2L589.7 265.8M598.1 256.2L594.2 253.4M583.5 260.7L582.1 256.0M586.2 253.4L582.1 256.0M582.1 256.0L578.6 254.8M604.0 234.2L604.6 230.4M604.6 230.4L605.1 226.6M604.0 234.2L607.4 237.5M605.1 226.6L608.7 228.2M612.7 240.1L614.8 239.3M613.6 234.5L614.8 239.3M614.8 239.3L617.1 241.7M604.0 234.2L599.2 234.6M605.1 226.6L600.6 225.2M591.8 232.4L589.2 229.9M592.6 226.9L589.2 229.9M589.2 229.9L585.3 230.1M608.9 221.2L609.4 221.4M606.2 223.8L609.4 221.4M589.8 214.3L587.5 213.4M587.1 216.9L587.5 213.4M596.6 239.3L596.2 242.7M593.2 246.7L596.2 242.7M577.5 232.3L574.3 234.7M574.1 239.7L574.3 234.7M584.5 270.3L584.3 275.3M582.4 278.2L584.3 275.3M565.5 263.4L562.4 267.4M563.4 271.2L562.4 267.4M579.8 296.2L580.7 300.1M580.3 299.9L580.7 300.1M560.8 289.2L558.8 292.2M561.2 293.0L558.8 292.2M585.2 301.7L587.5 302.6M587.9 299.1L587.5 302.6M566.1 294.8L565.6 294.6M568.8 292.2L565.6 294.6M597.5 283.7L600.7 281.3M600.9 276.3L600.7 281.3M578.4 276.7L578.8 273.3M581.8 269.3L578.8 273.3M609.5 252.6L612.6 248.6M611.6 244.8L612.6 248.6M590.5 245.7L590.7 240.7M592.6 237.8L590.7 240.7M614.2 226.8L616.2 223.8M613.8 223.0L616.2 223.8M595.2 219.8L594.3 215.9M594.7 216.1L594.3 215.9" stroke="#b08262" stroke-width="1.15" fill="none"/><path d="M607.7 219.2L611.5 222.2M605.1 218.3L608.4 221.1M611.5 222.2L612.4 224.5M608.4 221.1L610.9 224.0M599.5 216.3L595.2 216.3M597.0 215.3L592.2 215.2M595.2 216.3L591.5 216.9M592.2 215.2L589.9 216.4M598.6 224.5L602.9 226.3M593.6 232.5L597.0 235.9M602.9 226.3L603.6 230.9M597.0 235.9L600.6 235.7M590.4 221.5L586.7 220.3M585.4 229.6L580.7 230.0M586.7 220.3L582.7 223.2M580.7 230.0L579.7 228.0M585.3 250.2L590.1 250.6M580.8 262.6L584.8 265.3M590.1 250.6L591.5 255.3M584.8 265.3L588.8 262.6M577.2 247.3L573.9 244.7M572.7 259.6L568.5 259.4M573.9 244.7L570.6 247.7M568.5 259.4L567.9 255.0M575.8 281.4L580.5 281.1M574.4 290.8L578.9 292.2M580.5 281.1L583.2 283.6M578.9 292.2L582.4 289.1M567.6 278.5L564.3 275.1M566.3 287.8L562.7 286.3M564.3 275.1L562.3 275.9M562.7 286.3L561.4 281.5M575.5 299.7L579.8 299.7M578.0 300.7L582.8 300.8M579.8 299.7L583.5 299.1M582.8 300.8L585.1 299.6M567.3 296.8L563.5 293.8M569.9 297.7L566.6 294.9M563.5 293.8L562.6 291.5M566.6 294.9L564.1 292.0M584.6 294.5L588.3 295.7M589.6 286.4L594.3 286.0M588.3 295.7L592.3 292.8M594.3 286.0L595.3 288.0M576.4 291.5L572.1 289.7M581.4 283.5L578.0 280.1M572.1 289.7L571.4 285.1M578.0 280.1L574.4 280.3M597.8 268.7L601.1 271.3M602.3 256.4L606.5 256.6M601.1 271.3L604.4 268.3M606.5 256.6L607.1 261.0M589.7 265.8L584.9 265.4M594.2 253.4L590.2 250.7M584.9 265.4L583.5 260.7M590.2 250.7L586.2 253.4M607.4 237.5L610.7 240.9M608.7 228.2L612.3 229.7M610.7 240.9L612.7 240.1M612.3 229.7L613.6 234.5M599.2 234.6L594.5 234.9M600.6 225.2L596.1 223.8M594.5 234.9L591.8 232.4M596.1 223.8L592.6 226.9M608.4 221.1L608.9 221.2M602.9 226.3L606.2 223.8M592.2 215.2L589.8 214.3M586.7 220.3L587.1 216.9M597.0 235.9L596.6 239.3M590.1 250.6L593.2 246.7M580.7 230.0L577.5 232.3M573.9 244.7L574.1 239.7M584.8 265.3L584.5 270.3M580.5 281.1L582.4 278.2M568.5 259.4L565.5 263.4M564.3 275.1L563.4 271.2M578.9 292.2L579.8 296.2M579.8 299.7L580.3 299.9M562.7 286.3L560.8 289.2M563.5 293.8L561.2 293.0M582.8 300.8L585.2 301.7M588.3 295.7L587.9 299.1M566.6 294.9L566.1 294.8M572.1 289.7L568.8 292.2M594.3 286.0L597.5 283.7M601.1 271.3L600.9 276.3M578.0 280.1L578.4 276.7M584.9 265.4L581.8 269.3M606.5 256.6L609.5 252.6M610.7 240.9L611.6 244.8M590.2 250.7L590.5 245.7M594.5 234.9L592.6 237.8M612.3 229.7L614.2 226.8M611.5 222.2L613.8 223.0M596.1 223.8L595.2 219.8M595.2 216.3L594.7 216.1" stroke="#919ada" stroke-width="1.15" fill="none"/><path d="M615.8 229.9L618.2 233.0M583.9 218.3L580.1 219.1M607.2 238.0L610.1 240.6M575.3 226.4L572.0 226.8M596.4 261.2L599.9 262.5M564.5 249.6L561.8 248.6M589.7 285.9L593.6 285.8M557.9 274.3L555.5 271.9M591.1 297.7L594.9 296.9M559.2 286.1L556.8 283.0M599.7 289.6L603.0 289.2M567.8 278.0L564.9 275.4M610.5 266.4L613.2 267.4M578.6 254.8L575.1 253.5M617.1 241.7L619.5 244.1M585.3 230.1L581.4 230.2" stroke="#d87282" stroke-width="1.15" fill="none"/><path d="M538.2 206.0L542.3 207.7M542.3 207.7L546.4 209.4M538.2 206.0L536.2 208.4M536.2 208.4L534.1 210.8M546.4 209.4L548.2 213.7M548.2 213.7L550.1 217.9M550.1 217.9L548.2 220.2M548.2 220.2L546.4 222.5M550.1 217.9L553.7 220.1M546.4 222.5L542.5 221.0M542.5 221.0L538.6 219.5M546.4 222.5L546.9 224.8M546.9 224.8L547.4 227.1M538.6 219.5L536.4 215.2M536.4 215.2L534.1 210.8M560.1 221.4L562.9 220.5M557.6 224.1L558.0 225.8M557.6 227.2L558.0 232.2M547.4 227.1L552.7 226.4M552.7 226.4L558.0 225.8M547.4 227.1L550.1 229.1M550.1 229.1L552.9 231.2M558.0 225.8L559.2 227.2M559.2 227.2L560.4 228.5M560.4 228.5L564.1 232.6M564.1 232.6L567.8 236.6M567.8 236.6L569.0 240.4M569.0 240.4L570.3 244.2M570.3 244.2L575.2 246.3M575.2 246.3L580.1 248.4M580.1 248.4L583.4 248.9M583.4 248.9L586.6 249.3M580.1 248.4L581.3 250.8M581.3 250.8L582.5 253.1M558.0 232.2L553.0 236.3M553.0 236.3L548.1 240.4M548.1 240.4L546.2 238.6M586.6 249.3L591.0 251.2M591.0 251.2L595.3 253.1M586.6 249.3L585.3 247.3M595.3 253.1L596.6 255.4M596.6 255.4L597.9 257.8M597.9 257.8L594.5 257.6M594.5 257.6L591.2 257.5M597.9 257.8L602.4 259.9M602.4 259.9L606.9 262.0M591.2 257.5L586.9 255.3M586.9 255.3L582.5 253.1M606.9 262.0L610.8 261.2M610.8 261.2L614.8 260.4M614.8 260.4L619.5 262.4M619.5 262.4L624.1 264.5M624.1 264.5L628.0 262.6M628.0 262.6L632.0 260.8M624.1 264.5L625.0 268.0M625.0 268.0L626.0 271.5M632.0 260.8L636.6 262.6M636.6 262.6L641.2 264.3M641.2 264.3L641.8 267.8M638.6 273.1L635.0 275.0M647.2 273.5L652.1 275.6M635.0 275.0L630.5 273.2M630.5 273.2L626.0 271.5M652.1 275.6L653.7 278.7M653.7 278.7L655.2 281.8M520.7 245.5L521.3 250.5M521.3 250.5L521.9 255.5M521.9 255.5L526.5 257.4M534.2 258.9L537.3 258.5M533.0 260.8L535.0 262.4M537.3 258.5L542.0 260.1M542.0 260.1L546.6 261.6M546.6 261.6L548.6 263.2M548.6 263.2L550.6 264.8M550.6 264.8L547.5 265.0M547.5 265.0L544.3 265.1M550.6 264.8L555.5 266.3M555.5 266.3L560.3 267.8M544.3 265.1L539.6 263.8M539.6 263.8L535.0 262.4M560.3 267.8L563.4 268.8M563.4 268.8L566.5 269.8M566.5 269.8L571.3 271.4M571.3 271.4L576.1 272.9M576.1 272.9L578.4 272.8M578.4 272.8L580.7 272.7M576.1 272.9L578.7 275.1M578.7 275.1L581.3 277.4M580.7 272.7L585.2 274.5M585.2 274.5L589.8 276.4M589.8 276.4L592.2 278.6M592.2 278.6L594.7 280.9M589.8 276.4L591.7 275.6M594.7 280.9L590.1 280.7M590.1 280.7L585.5 280.5M594.7 280.9L599.4 283.0M599.4 283.0L604.0 285.1M585.5 280.5L583.4 278.9M583.4 278.9L581.3 277.4M604.0 285.1L606.0 287.1M606.0 287.1L608.1 289.2M608.1 289.2L613.0 291.6M613.0 291.6L618.0 294.0M618.0 294.0L618.0 298.8M618.0 294.0L622.1 291.9M622.1 291.9L626.2 289.9M622.2 304.9L626.5 306.3M615.0 306.8L611.9 310.1M626.5 306.3L629.2 302.6M629.2 302.6L632.0 298.8M626.5 306.3L628.4 311.1M628.4 311.1L630.3 315.8M632.0 298.8L629.1 294.4M629.1 294.4L626.2 289.9M632.0 298.8L636.5 299.3M636.5 299.3L641.0 299.8M626.2 289.9L623.8 288.9M623.8 288.9L621.4 287.9M626.2 289.9L628.5 285.4M628.5 285.4L630.8 281.0M641.0 299.8L643.0 304.3M643.0 304.3L645.1 308.8M645.1 308.8L642.3 312.8M642.3 312.8L639.5 316.8M639.5 316.8L634.9 316.3M634.9 316.3L630.3 315.8M622.8 309.3L625.1 303.2" stroke="#7a4e30" stroke-width="1.3" fill="none"/><path d="M538.2 206.0L536.7 202.6M546.4 209.4L547.8 207.3M538.6 219.5L537.2 221.2M534.1 210.8L531.2 209.5M562.9 220.5L562.4 216.8M562.9 220.5L566.5 221.4M567.8 236.6L570.2 234.4M570.3 244.2L567.6 245.9M548.1 240.4L550.3 243.1M548.1 240.4L545.2 241.2M614.8 260.4L614.8 257.8M632.0 260.8L631.8 257.9M641.2 264.3L644.2 262.8M626.0 271.5L623.2 273.2M652.1 275.6L654.5 272.7M655.2 281.8L658.4 283.2M655.2 281.8L652.7 284.7M520.7 245.5L517.0 244.3M520.7 245.5L522.8 242.9M520.7 245.5L521.1 241.8M521.9 255.5L519.4 258.1M604.0 285.1L602.5 282.8M608.1 289.2L606.4 290.1M641.0 299.8L643.0 296.8M645.1 308.8L648.4 309.4M639.5 316.8L640.9 320.1M630.3 315.8L628.5 318.9M621.4 287.9L619.2 284.6M630.8 281.0L632.9 280.9M611.9 310.1L608.1 308.9M611.9 310.1L611.3 313.5M611.9 310.1L610.1 307.1" stroke="#7a4e30" stroke-width="1.04" fill="none"/><path d="M536.7 202.6L535.1 199.2M547.8 207.3L549.1 205.2M537.2 221.2L535.8 223.0M531.2 209.5L528.2 208.2M562.4 216.8L561.9 213.1M566.5 221.4L570.1 222.3M570.2 234.4L572.6 232.2M567.6 245.9L565.0 247.6M550.3 243.1L552.5 245.8M545.2 241.2L542.3 242.1M614.8 257.8L614.8 255.2M631.8 257.9L631.5 255.0M644.2 262.8L647.2 261.3M623.2 273.2L620.4 275.0M654.5 272.7L656.8 269.8M658.4 283.2L661.5 284.6M652.7 284.7L650.1 287.6M517.0 244.3L513.3 243.2M522.8 242.9L524.8 240.3M521.1 241.8L521.5 238.0M519.4 258.1L516.9 260.6M602.5 282.8L601.0 280.5M606.4 290.1L604.7 291.0M643.0 296.8L645.1 293.7M648.4 309.4L651.7 309.9M640.9 320.1L642.2 323.3M628.5 318.9L626.7 321.9M619.2 284.6L617.0 281.4M632.9 280.9L635.0 280.9M608.1 308.9L604.4 307.6M611.3 313.5L610.8 316.8M610.1 307.1L608.3 304.2" stroke="#dcd6cc" stroke-width="1.04" fill="none"/><path d="M553.7 220.1L557.3 222.3M557.3 222.3L560.1 221.4M557.3 222.3L557.6 224.1M557.3 222.3L557.6 227.2M641.8 267.8L642.3 271.3M642.3 271.3L638.6 273.1M642.3 271.3L647.2 273.5M526.5 257.4L531.1 259.2M531.1 259.2L534.2 258.9M531.1 259.2L533.0 260.8M618.0 298.8L618.0 303.5M618.0 303.5L622.2 304.9M618.0 303.5L615.0 306.8" stroke="#5a74d8" stroke-width="1.3" fill="none"/><path d="M546.2 238.6L544.3 236.8M544.3 236.8L539.8 236.2M544.3 236.8L548.5 237.9M544.3 236.8L544.5 241.2M625.1 303.2L627.5 297.1M627.5 297.1L624.1 294.2M627.5 297.1L626.0 295.3M627.5 297.1L632.5 297.1" stroke="#d8d830" stroke-width="1.3" fill="none"/><path d="M539.8 236.2L535.3 235.6M548.5 237.9L552.7 239.1M544.5 241.2L544.7 245.5M585.3 247.3L584.0 245.3M591.7 275.6L593.6 274.8M624.1 294.2L620.8 291.3M626.0 295.3L624.4 293.5M632.5 297.1L637.4 297.1" stroke="#e83030" stroke-width="1.3" fill="none"/><circle cx="535.1" cy="199.2" r="1.26" fill="url(#gH)"/><circle cx="549.1" cy="205.2" r="1.26" fill="url(#gH)"/><circle cx="528.2" cy="208.2" r="1.26" fill="url(#gH)"/><circle cx="535.8" cy="223.0" r="1.26" fill="url(#gH)"/><circle cx="561.9" cy="213.1" r="1.26" fill="url(#gH)"/><circle cx="570.1" cy="222.3" r="1.26" fill="url(#gH)"/><circle cx="552.5" cy="245.8" r="1.26" fill="url(#gH)"/><circle cx="542.3" cy="242.1" r="1.26" fill="url(#gH)"/><circle cx="572.6" cy="232.2" r="1.26" fill="url(#gH)"/><circle cx="565.0" cy="247.6" r="1.26" fill="url(#gH)"/><circle cx="614.8" cy="255.2" r="1.26" fill="url(#gH)"/><circle cx="631.5" cy="255.0" r="1.26" fill="url(#gH)"/><circle cx="647.2" cy="261.3" r="1.26" fill="url(#gH)"/><circle cx="620.4" cy="275.0" r="1.26" fill="url(#gH)"/><circle cx="656.8" cy="269.8" r="1.26" fill="url(#gH)"/><circle cx="661.5" cy="284.6" r="1.26" fill="url(#gH)"/><circle cx="650.1" cy="287.6" r="1.26" fill="url(#gH)"/><circle cx="513.3" cy="243.2" r="1.26" fill="url(#gH)"/><circle cx="524.8" cy="240.3" r="1.26" fill="url(#gH)"/><circle cx="516.9" cy="260.6" r="1.26" fill="url(#gH)"/><circle cx="521.5" cy="238.0" r="1.26" fill="url(#gH)"/><circle cx="604.7" cy="291.0" r="1.26" fill="url(#gH)"/><circle cx="601.0" cy="280.5" r="1.26" fill="url(#gH)"/><circle cx="645.1" cy="293.7" r="1.26" fill="url(#gH)"/><circle cx="651.7" cy="309.9" r="1.26" fill="url(#gH)"/><circle cx="642.2" cy="323.3" r="1.26" fill="url(#gH)"/><circle cx="626.7" cy="321.9" r="1.26" fill="url(#gH)"/><circle cx="617.0" cy="281.4" r="1.26" fill="url(#gH)"/><circle cx="635.0" cy="280.9" r="1.26" fill="url(#gH)"/><circle cx="604.4" cy="307.6" r="1.26" fill="url(#gH)"/><circle cx="610.8" cy="316.8" r="1.26" fill="url(#gH)"/><circle cx="608.3" cy="304.2" r="1.26" fill="url(#gH)"/><circle cx="538.2" cy="206.0" r="2.18" fill="url(#gC)"/><circle cx="546.4" cy="209.4" r="2.18" fill="url(#gC)"/><circle cx="550.1" cy="217.9" r="2.18" fill="url(#gC)"/><circle cx="546.4" cy="222.5" r="2.18" fill="url(#gC)"/><circle cx="538.6" cy="219.5" r="2.18" fill="url(#gC)"/><circle cx="534.1" cy="210.8" r="2.18" fill="url(#gC)"/><circle cx="557.3" cy="222.3" r="2.27" fill="url(#gN)"/><circle cx="562.9" cy="220.5" r="2.18" fill="url(#gC)"/><circle cx="547.4" cy="227.1" r="2.18" fill="url(#gC)"/><circle cx="558.0" cy="225.8" r="2.18" fill="url(#gC)"/><circle cx="552.9" cy="231.2" r="2.18" fill="url(#gC)"/><circle cx="560.4" cy="228.5" r="2.18" fill="url(#gC)"/><circle cx="567.8" cy="236.6" r="2.18" fill="url(#gC)"/><circle cx="570.3" cy="244.2" r="2.18" fill="url(#gC)"/><circle cx="580.1" cy="248.4" r="2.18" fill="url(#gC)"/><circle cx="558.0" cy="232.2" r="2.18" fill="url(#gC)"/><circle cx="548.1" cy="240.4" r="2.18" fill="url(#gC)"/><circle cx="544.3" cy="236.8" r="2.77" fill="url(#gS)"/><circle cx="535.3" cy="235.6" r="2.52" fill="url(#gO)"/><circle cx="552.7" cy="239.1" r="2.52" fill="url(#gO)"/><circle cx="544.7" cy="245.5" r="2.52" fill="url(#gO)"/><circle cx="586.6" cy="249.3" r="2.18" fill="url(#gC)"/><circle cx="595.3" cy="253.1" r="2.18" fill="url(#gC)"/><circle cx="597.9" cy="257.8" r="2.18" fill="url(#gC)"/><circle cx="591.2" cy="257.5" r="2.18" fill="url(#gC)"/><circle cx="582.5" cy="253.1" r="2.18" fill="url(#gC)"/><circle cx="584.0" cy="245.3" r="2.52" fill="url(#gO)"/><circle cx="606.9" cy="262.0" r="2.18" fill="url(#gC)"/><circle cx="614.8" cy="260.4" r="2.18" fill="url(#gC)"/><circle cx="624.1" cy="264.5" r="2.18" fill="url(#gC)"/><circle cx="632.0" cy="260.8" r="2.18" fill="url(#gC)"/><circle cx="641.2" cy="264.3" r="2.18" fill="url(#gC)"/><circle cx="642.3" cy="271.3" r="2.27" fill="url(#gN)"/><circle cx="635.0" cy="275.0" r="2.18" fill="url(#gC)"/><circle cx="626.0" cy="271.5" r="2.18" fill="url(#gC)"/><circle cx="652.1" cy="275.6" r="2.18" fill="url(#gC)"/><circle cx="655.2" cy="281.8" r="2.18" fill="url(#gC)"/><circle cx="520.7" cy="245.5" r="2.18" fill="url(#gC)"/><circle cx="521.9" cy="255.5" r="2.18" fill="url(#gC)"/><circle cx="531.1" cy="259.2" r="2.27" fill="url(#gN)"/><circle cx="537.3" cy="258.5" r="2.18" fill="url(#gC)"/><circle cx="546.6" cy="261.6" r="2.18" fill="url(#gC)"/><circle cx="550.6" cy="264.8" r="2.18" fill="url(#gC)"/><circle cx="544.3" cy="265.1" r="2.18" fill="url(#gC)"/><circle cx="535.0" cy="262.4" r="2.18" fill="url(#gC)"/><circle cx="560.3" cy="267.8" r="2.18" fill="url(#gC)"/><circle cx="566.5" cy="269.8" r="2.18" fill="url(#gC)"/><circle cx="576.1" cy="272.9" r="2.18" fill="url(#gC)"/><circle cx="580.7" cy="272.7" r="2.18" fill="url(#gC)"/><circle cx="589.8" cy="276.4" r="2.18" fill="url(#gC)"/><circle cx="594.7" cy="280.9" r="2.18" fill="url(#gC)"/><circle cx="585.5" cy="280.5" r="2.18" fill="url(#gC)"/><circle cx="581.3" cy="277.4" r="2.18" fill="url(#gC)"/><circle cx="593.6" cy="274.8" r="2.52" fill="url(#gO)"/><circle cx="604.0" cy="285.1" r="2.18" fill="url(#gC)"/><circle cx="608.1" cy="289.2" r="2.18" fill="url(#gC)"/><circle cx="618.0" cy="294.0" r="2.18" fill="url(#gC)"/><circle cx="618.0" cy="303.5" r="2.27" fill="url(#gN)"/><circle cx="626.5" cy="306.3" r="2.18" fill="url(#gC)"/><circle cx="632.0" cy="298.8" r="2.18" fill="url(#gC)"/><circle cx="626.2" cy="289.9" r="2.18" fill="url(#gC)"/><circle cx="641.0" cy="299.8" r="2.18" fill="url(#gC)"/><circle cx="645.1" cy="308.8" r="2.18" fill="url(#gC)"/><circle cx="639.5" cy="316.8" r="2.18" fill="url(#gC)"/><circle cx="630.3" cy="315.8" r="2.18" fill="url(#gC)"/><circle cx="621.4" cy="287.9" r="2.18" fill="url(#gC)"/><circle cx="630.8" cy="281.0" r="2.18" fill="url(#gC)"/><circle cx="611.9" cy="310.1" r="2.18" fill="url(#gC)"/><circle cx="622.8" cy="309.3" r="2.18" fill="url(#gC)"/><circle cx="627.5" cy="297.1" r="2.77" fill="url(#gS)"/><circle cx="620.8" cy="291.3" r="2.52" fill="url(#gO)"/><circle cx="624.4" cy="293.5" r="2.52" fill="url(#gO)"/><circle cx="637.4" cy="297.1" r="2.52" fill="url(#gO)"/><path d="M485.6 396.7L487.0 392.3M483.4 396.1L484.3 391.6M476.2 404.2L476.8 400.0M472.6 411.2L472.4 408.8M464.6 433.2L464.1 431.7M461.8 443.8L460.6 444.8M457.7 466.9L456.3 468.9M457.3 474.7L455.7 478.6M459.4 485.3L458.0 489.7M461.6 485.9L460.7 490.4M468.8 477.8L468.2 482.0M472.4 470.8L472.6 473.2M480.4 448.8L480.9 450.3M483.2 438.2L484.4 437.2M487.3 415.1L488.7 413.1M487.7 407.3L489.3 403.4M491.7 401.5L493.2 397.7M491.7 401.5L495.8 403.4M468.5 395.3L468.4 391.0M468.5 395.3L464.1 394.9M480.0 424.5L480.5 422.9M480.0 424.5L484.4 426.0M456.9 418.3L455.7 416.3M456.9 418.3L452.7 417.5M470.8 459.0L470.4 460.7M470.8 459.0L475.3 459.9M447.6 452.8L445.6 454.0M447.6 452.8L443.6 451.4M469.3 484.8L468.8 488.9M469.3 484.8L473.9 485.2M446.2 478.6L444.0 482.2M446.2 478.6L442.1 476.7M476.5 486.7L476.6 491.0M476.5 486.7L480.9 487.1M453.3 480.5L451.8 484.3M453.3 480.5L449.2 478.6M488.1 463.7L489.3 465.7M488.1 463.7L492.3 464.5M465.0 457.5L464.5 459.1M465.0 457.5L460.6 456.0M497.4 429.2L499.4 428.0M497.4 429.2L501.4 430.6M474.2 423.0L474.6 421.3M474.2 423.0L469.7 422.1M498.8 403.4L501.0 399.8M498.8 403.4L502.9 405.3M475.7 397.2L476.2 393.1M475.7 397.2L471.1 396.8" stroke="#b08262" stroke-width="1.05" fill="none"/><path d="M487.0 392.3L488.4 388.0M484.3 391.6L485.2 387.2M476.8 400.0L477.4 395.9M472.4 408.8L472.2 406.3M464.1 431.7L463.5 430.2M460.6 444.8L459.3 445.8M456.3 468.9L454.9 470.9M455.7 478.6L454.2 482.5M458.0 489.7L456.6 494.0M460.7 490.4L459.8 494.8M468.2 482.0L467.6 486.1M472.6 473.2L472.8 475.7M480.9 450.3L481.5 451.8M484.4 437.2L485.7 436.2M488.7 413.1L490.1 411.1M489.3 403.4L490.8 399.5M493.2 397.7L494.7 393.9M495.8 403.4L500.0 405.4M468.4 391.0L468.3 386.8M464.1 394.9L459.6 394.6M480.5 422.9L480.9 421.3M484.4 426.0L488.8 427.6M455.7 416.3L454.5 414.2M452.7 417.5L448.4 416.7M470.4 460.7L469.9 462.3M475.3 459.9L479.9 460.8M445.6 454.0L443.5 455.2M443.6 451.4L439.5 450.0M468.8 488.9L468.2 492.9M473.9 485.2L478.5 485.6M444.0 482.2L441.8 485.8M442.1 476.7L438.1 474.8M476.6 491.0L476.7 495.2M480.9 487.1L485.4 487.4M451.8 484.3L450.3 488.1M449.2 478.6L445.0 476.6M489.3 465.7L490.5 467.8M492.3 464.5L496.6 465.3M464.5 459.1L464.1 460.7M460.6 456.0L456.2 454.4M499.4 428.0L501.5 426.8M501.4 430.6L505.5 432.0M474.6 421.3L475.1 419.7M469.7 422.1L465.1 421.2M501.0 399.8L503.2 396.2M502.9 405.3L506.9 407.2M476.2 393.1L476.8 389.1M471.1 396.8L466.5 396.4" stroke="#dcd0bd" stroke-width="1.05" fill="none"/><path d="M485.6 396.7L484.5 396.4M484.5 396.4L483.4 396.1M485.6 396.7L489.7 399.4M483.4 396.1L487.0 398.7M495.0 404.5L496.2 406.8M493.4 404.0L496.2 406.8M496.2 406.8L499.0 409.7M485.6 396.7L481.1 397.1M483.4 396.1L478.4 396.4M472.9 398.5L469.1 399.5M471.3 398.1L469.1 399.5M469.1 399.5L465.2 400.6M476.2 404.2L474.4 407.7M474.4 407.7L472.6 411.2M476.2 404.2L480.8 405.6M472.6 411.2L476.4 414.3M486.6 411.7L487.7 416.4M484.0 416.9L487.7 416.4M487.7 416.4L490.9 418.8M476.2 404.2L472.2 403.3M472.6 411.2L467.8 412.0M464.4 405.8L460.5 409.1M461.8 411.0L460.5 409.1M460.5 409.1L457.2 409.7M464.6 433.2L463.2 438.5M463.2 438.5L461.8 443.8M464.6 433.2L469.6 433.2M461.8 443.8L466.1 446.3M476.4 437.9L478.2 442.5M474.3 445.6L478.2 442.5M478.2 442.5L481.9 443.5M464.6 433.2L461.0 430.9M461.8 443.8L457.5 444.0M454.2 431.9L451.1 435.3M452.1 439.7L451.1 435.3M451.1 435.3L448.2 434.5M457.7 466.9L457.5 470.8M457.5 470.8L457.3 474.7M457.7 466.9L462.6 466.1M457.3 474.7L462.0 475.8M470.4 467.6L473.3 469.9M470.0 473.4L473.3 469.9M473.3 469.9L477.3 469.4M457.7 466.9L454.0 463.8M457.3 474.7L453.4 473.5M448.2 461.7L446.2 462.6M447.9 467.5L446.2 462.6M446.2 462.6L443.6 460.4M459.4 485.3L460.5 485.6M460.5 485.6L461.6 485.9M459.4 485.3L463.9 484.9M461.6 485.9L466.6 485.6M472.1 483.5L475.9 482.5M473.7 483.9L475.9 482.5M475.9 482.5L479.8 481.4M459.4 485.3L455.3 482.6M461.6 485.9L458.0 483.3M450.0 477.5L448.8 475.2M451.6 478.0L448.8 475.2M448.8 475.2L446.0 472.3M468.8 477.8L470.6 474.3M470.6 474.3L472.4 470.8M468.8 477.8L472.8 478.7M472.4 470.8L477.2 470.0M480.6 476.2L484.5 472.9M483.2 471.0L484.5 472.9M484.5 472.9L487.8 472.3M468.8 477.8L464.2 476.4M472.4 470.8L468.6 467.7M458.4 470.3L457.3 465.6M461.0 465.1L457.3 465.6M457.3 465.6L454.1 463.2M480.4 448.8L481.8 443.5M481.8 443.5L483.2 438.2M480.4 448.8L484.0 451.1M483.2 438.2L487.5 438.0M490.8 450.1L493.9 446.7M492.9 442.3L493.9 446.7M493.9 446.7L496.8 447.5M480.4 448.8L475.4 448.8M483.2 438.2L478.9 435.7M468.6 444.1L466.8 439.5M470.7 436.4L466.8 439.5M466.8 439.5L463.1 438.5M487.3 415.1L487.5 411.2M487.5 411.2L487.7 407.3M487.3 415.1L491.0 418.2M487.7 407.3L491.6 408.5M496.8 420.3L498.8 419.4M497.1 414.5L498.8 419.4M498.8 419.4L501.4 421.6M487.3 415.1L482.4 415.9M487.7 407.3L483.0 406.2M474.6 414.4L471.7 412.1M475.0 408.6L471.7 412.1M471.7 412.1L467.7 412.6M491.1 401.4L491.7 401.5M488.6 404.3L491.7 401.5M471.0 396.0L468.5 395.3M468.4 398.9L468.5 395.3M480.1 421.0L480.0 424.5M477.3 428.9L480.0 424.5M460.0 415.6L456.9 418.3M457.1 423.5L456.9 418.3M470.6 453.9L470.8 459.0M469.1 462.2L470.8 459.0M450.4 448.5L447.6 452.8M448.9 456.7L447.6 452.8M468.0 480.8L469.3 484.8M468.8 484.6L469.3 484.8M447.9 475.4L446.2 478.6M448.7 479.2L446.2 478.6M474.0 486.0L476.5 486.7M476.6 483.1L476.5 486.7M453.9 480.6L453.3 480.5M456.4 477.7L453.3 480.5M485.0 466.4L488.1 463.7M487.9 458.5L488.1 463.7M464.9 461.0L465.0 457.5M467.7 453.1L465.0 457.5M494.6 433.5L497.4 429.2M496.1 425.3L497.4 429.2M474.4 428.1L474.2 423.0M475.9 419.8L474.2 423.0M497.1 406.6L498.8 403.4M496.3 402.8L498.8 403.4M477.0 401.2L475.7 397.2M476.2 397.4L475.7 397.2" stroke="#b08262" stroke-width="1.15" fill="none"/><path d="M489.7 399.4L493.9 402.2M487.0 398.7L490.6 401.3M493.9 402.2L495.0 404.5M490.6 401.3L493.4 404.0M481.1 397.1L476.7 397.5M478.4 396.4L473.4 396.7M476.7 397.5L472.9 398.5M473.4 396.7L471.3 398.1M480.8 405.6L485.5 407.1M476.4 414.3L480.2 417.5M485.5 407.1L486.6 411.7M480.2 417.5L484.0 416.9M472.2 403.3L468.3 402.5M467.8 412.0L463.1 412.8M468.3 402.5L464.4 405.8M463.1 412.8L461.8 411.0M469.6 433.2L474.5 433.2M466.1 446.3L470.4 448.8M474.5 433.2L476.4 437.9M470.4 448.8L474.3 445.6M461.0 430.9L457.3 428.6M457.5 444.0L453.2 444.2M457.3 428.6L454.2 431.9M453.2 444.2L452.1 439.7M462.6 466.1L467.4 465.3M462.0 475.8L466.8 476.9M467.4 465.3L470.4 467.6M466.8 476.9L470.0 473.4M454.0 463.8L450.2 460.7M453.4 473.5L449.6 472.3M450.2 460.7L448.2 461.7M449.6 472.3L447.9 467.5M463.9 484.9L468.3 484.5M466.6 485.6L471.6 485.3M468.3 484.5L472.1 483.5M471.6 485.3L473.7 483.9M455.3 482.6L451.1 479.8M458.0 483.3L454.4 480.7M451.1 479.8L450.0 477.5M454.4 480.7L451.6 478.0M472.8 478.7L476.7 479.5M477.2 470.0L481.9 469.2M476.7 479.5L480.6 476.2M481.9 469.2L483.2 471.0M464.2 476.4L459.5 474.9M468.6 467.7L464.8 464.5M459.5 474.9L458.4 470.3M464.8 464.5L461.0 465.1M484.0 451.1L487.7 453.4M487.5 438.0L491.8 437.8M487.7 453.4L490.8 450.1M491.8 437.8L492.9 442.3M475.4 448.8L470.5 448.8M478.9 435.7L474.6 433.2M470.5 448.8L468.6 444.1M474.6 433.2L470.7 436.4M491.0 418.2L494.8 421.3M491.6 408.5L495.4 409.7M494.8 421.3L496.8 420.3M495.4 409.7L497.1 414.5M482.4 415.9L477.6 416.7M483.0 406.2L478.2 405.1M477.6 416.7L474.6 414.4M478.2 405.1L475.0 408.6M490.6 401.3L491.1 401.4M485.5 407.1L488.6 404.3M473.4 396.7L471.0 396.0M468.3 402.5L468.4 398.9M480.2 417.5L480.1 421.0M474.5 433.2L477.3 428.9M463.1 412.8L460.0 415.6M457.3 428.6L457.1 423.5M470.4 448.8L470.6 453.9M467.4 465.3L469.1 462.2M453.2 444.2L450.4 448.5M450.2 460.7L448.9 456.7M466.8 476.9L468.0 480.8M468.3 484.5L468.8 484.6M449.6 472.3L447.9 475.4M451.1 479.8L448.7 479.2M471.6 485.3L474.0 486.0M476.7 479.5L476.6 483.1M454.4 480.7L453.9 480.6M459.5 474.9L456.4 477.7M481.9 469.2L485.0 466.4M487.7 453.4L487.9 458.5M464.8 464.5L464.9 461.0M470.5 448.8L467.7 453.1M491.8 437.8L494.6 433.5M494.8 421.3L496.1 425.3M474.6 433.2L474.4 428.1M477.6 416.7L475.9 419.8M495.4 409.7L497.1 406.6M493.9 402.2L496.3 402.8M478.2 405.1L477.0 401.2M476.7 397.5L476.2 397.4" stroke="#919ada" stroke-width="1.15" fill="none"/><path d="M499.0 409.7L501.7 412.6M465.2 400.6L461.4 401.8M490.9 418.8L494.1 421.2M457.2 409.7L453.8 410.4M481.9 443.5L485.6 444.5M448.2 434.5L445.3 433.7M477.3 469.4L481.3 469.0M443.6 460.4L441.0 458.2M479.8 481.4L483.6 480.2M446.0 472.3L443.3 469.4M487.8 472.3L491.2 471.6M454.1 463.2L450.9 460.8M496.8 447.5L499.7 448.3M463.1 438.5L459.4 437.5M501.4 421.6L504.0 423.8M467.7 412.6L463.7 413.0" stroke="#d87282" stroke-width="1.15" fill="none"/><path d="M397.3 382.5L396.9 376.9M397.3 382.5L393.8 384.9M397.3 382.5L397.3 385.9M397.3 382.5L404.0 383.6" stroke="#d8d830" stroke-width="1.3" fill="none"/><path d="M396.9 376.9L396.4 371.4M393.8 384.9L390.3 387.4M397.3 385.9L397.3 389.3M432.9 406.9L435.8 411.1M435.8 411.1L435.4 416.0" stroke="#e83030" stroke-width="1.3" fill="none"/><path d="M404.0 383.6L410.7 384.6M410.7 384.6L411.8 390.3M411.8 390.3L412.8 396.0M412.8 396.0L418.8 397.1M418.8 397.1L424.7 398.3M424.7 398.3L426.9 397.0M429.4 392.9L429.6 390.1M433.6 392.2L438.1 388.9M429.6 399.1L430.0 402.6M438.1 388.9L440.1 385.6M440.1 385.6L442.0 382.3M438.1 388.9L440.5 389.5M440.5 389.5L442.8 390.1M438.1 388.9L437.2 392.9M437.2 392.9L436.4 396.8M442.0 382.3L446.6 379.5M446.6 379.5L451.3 376.7M451.3 376.7L453.8 377.4M453.8 377.4L456.2 378.1M456.2 378.1L454.2 381.4M454.2 381.4L452.2 384.6M452.2 384.6L447.5 387.4M447.5 387.4L442.8 390.1M436.4 396.8L433.2 399.7M433.2 399.7L430.0 402.6M436.4 396.8L439.6 400.6M439.6 400.6L442.8 404.5M430.0 402.6L424.8 404.4M424.8 404.4L419.5 406.1M430.0 402.6L432.9 406.9M419.5 406.1L418.7 411.1M418.7 411.1L417.9 416.2M435.4 416.0L435.0 420.8M435.0 420.8L430.4 422.4M430.4 422.4L425.9 424.0M435.0 420.8L439.1 424.1M439.1 424.1L443.2 427.5M417.9 416.2L421.9 420.1M421.9 420.1L425.9 424.0M425.9 424.0L425.6 429.1M425.6 429.1L425.3 434.1M425.3 434.1L429.4 437.4M429.4 437.4L433.5 440.7M433.5 440.7L438.1 439.2M438.1 439.2L442.7 437.7M442.7 437.7L442.9 432.6M442.9 432.6L443.2 427.5M442.7 437.7L447.2 440.9M447.2 440.9L451.8 444.2M451.8 444.2L456.6 442.8M456.6 442.8L461.3 441.4M461.3 441.4L465.7 444.7M465.7 444.7L470.1 448.0M470.1 448.0L475.0 445.6M475.0 445.6L479.9 443.2M470.1 448.0L470.1 453.4M470.1 453.4L470.1 458.7M479.9 443.2L484.4 446.1M484.4 446.1L488.8 449.0M488.8 449.0L488.6 453.9M483.9 461.4L479.3 464.0M493.6 461.9L498.8 465.1M479.3 464.0L474.7 461.4M474.7 461.4L470.1 458.7" stroke="#7a4e30" stroke-width="1.3" fill="none"/><path d="M397.3 389.3L394.4 391.5" stroke="#e83030" stroke-width="1.04" fill="none"/><path d="M394.4 391.5L391.4 393.6M411.4 381.9L412.1 379.2M413.0 383.5L415.4 382.3M411.1 398.0L409.5 400.0M427.5 387.6L425.3 385.1M432.1 387.6L434.6 385.1M440.4 381.7L438.7 381.1M452.6 373.9L453.9 371.1M459.6 375.8L463.0 373.4M453.9 385.0L455.7 385.4M445.1 402.2L447.5 400.0M445.5 406.4L448.1 408.4M416.6 403.4L413.6 400.6M414.4 417.4L410.9 418.7M422.0 435.1L418.6 436.2M446.1 426.1L449.0 424.6M449.8 447.8L447.7 451.4M462.0 437.3L462.7 433.2M480.3 439.2L480.7 435.2M492.4 447.3L496.0 445.6M481.9 465.9L484.5 467.9M466.8 460.4L463.5 462.0M500.8 462.7L502.8 460.3M497.4 468.5L496.0 471.8M503.4 468.1L508.0 471.2" stroke="#dcd6cc" stroke-width="1.04" fill="none"/><path d="M410.7 384.6L411.4 381.9M410.7 384.6L413.0 383.5M412.8 396.0L411.1 398.0M429.6 390.1L427.5 387.6M429.6 390.1L432.1 387.6M442.0 382.3L440.4 381.7M451.3 376.7L452.6 373.9M456.2 378.1L459.6 375.8M452.2 384.6L453.9 385.0M442.8 404.5L445.1 402.2M442.8 404.5L445.5 406.4M419.5 406.1L416.6 403.4M417.9 416.2L414.4 417.4M425.3 434.1L422.0 435.1M443.2 427.5L446.1 426.1M451.8 444.2L449.8 447.8M461.3 441.4L462.0 437.3M479.9 443.2L480.3 439.2M488.8 449.0L492.4 447.3M479.3 464.0L481.9 465.9M470.1 458.7L466.8 460.4M498.8 465.1L500.8 462.7M498.8 465.1L497.4 468.5M498.8 465.1L503.4 468.1" stroke="#7a4e30" stroke-width="1.04" fill="none"/><path d="M426.9 397.0L429.1 395.6M429.1 395.6L429.4 392.9M429.1 395.6L433.6 392.2M429.1 395.6L429.6 399.1M488.6 453.9L488.5 458.7M488.5 458.7L483.9 461.4M488.5 458.7L493.6 461.9" stroke="#5a74d8" stroke-width="1.3" fill="none"/><circle cx="391.4" cy="393.6" r="1.26" fill="url(#gH)"/><circle cx="412.1" cy="379.2" r="1.26" fill="url(#gH)"/><circle cx="415.4" cy="382.3" r="1.26" fill="url(#gH)"/><circle cx="409.5" cy="400.0" r="1.26" fill="url(#gH)"/><circle cx="425.3" cy="385.1" r="1.26" fill="url(#gH)"/><circle cx="434.6" cy="385.1" r="1.26" fill="url(#gH)"/><circle cx="438.7" cy="381.1" r="1.26" fill="url(#gH)"/><circle cx="453.9" cy="371.1" r="1.26" fill="url(#gH)"/><circle cx="463.0" cy="373.4" r="1.26" fill="url(#gH)"/><circle cx="455.7" cy="385.4" r="1.26" fill="url(#gH)"/><circle cx="447.5" cy="400.0" r="1.26" fill="url(#gH)"/><circle cx="448.1" cy="408.4" r="1.26" fill="url(#gH)"/><circle cx="413.6" cy="400.6" r="1.26" fill="url(#gH)"/><circle cx="410.9" cy="418.7" r="1.26" fill="url(#gH)"/><circle cx="418.6" cy="436.2" r="1.26" fill="url(#gH)"/><circle cx="449.0" cy="424.6" r="1.26" fill="url(#gH)"/><circle cx="447.7" cy="451.4" r="1.26" fill="url(#gH)"/><circle cx="462.7" cy="433.2" r="1.26" fill="url(#gH)"/><circle cx="480.7" cy="435.2" r="1.26" fill="url(#gH)"/><circle cx="496.0" cy="445.6" r="1.26" fill="url(#gH)"/><circle cx="484.5" cy="467.9" r="1.26" fill="url(#gH)"/><circle cx="463.5" cy="462.0" r="1.26" fill="url(#gH)"/><circle cx="502.8" cy="460.3" r="1.26" fill="url(#gH)"/><circle cx="496.0" cy="471.8" r="1.26" fill="url(#gH)"/><circle cx="508.0" cy="471.2" r="1.26" fill="url(#gH)"/><circle cx="397.3" cy="382.5" r="2.77" fill="url(#gS)"/><circle cx="396.4" cy="371.4" r="2.52" fill="url(#gO)"/><circle cx="390.3" cy="387.4" r="2.52" fill="url(#gO)"/><circle cx="397.3" cy="389.3" r="2.52" fill="url(#gO)"/><circle cx="410.7" cy="384.6" r="2.18" fill="url(#gC)"/><circle cx="412.8" cy="396.0" r="2.18" fill="url(#gC)"/><circle cx="424.7" cy="398.3" r="2.18" fill="url(#gC)"/><circle cx="429.1" cy="395.6" r="2.27" fill="url(#gN)"/><circle cx="429.6" cy="390.1" r="2.18" fill="url(#gC)"/><circle cx="438.1" cy="388.9" r="2.18" fill="url(#gC)"/><circle cx="442.0" cy="382.3" r="2.18" fill="url(#gC)"/><circle cx="451.3" cy="376.7" r="2.18" fill="url(#gC)"/><circle cx="456.2" cy="378.1" r="2.18" fill="url(#gC)"/><circle cx="452.2" cy="384.6" r="2.18" fill="url(#gC)"/><circle cx="442.8" cy="390.1" r="2.18" fill="url(#gC)"/><circle cx="436.4" cy="396.8" r="2.18" fill="url(#gC)"/><circle cx="430.0" cy="402.6" r="2.18" fill="url(#gC)"/><circle cx="442.8" cy="404.5" r="2.18" fill="url(#gC)"/><circle cx="419.5" cy="406.1" r="2.18" fill="url(#gC)"/><circle cx="435.8" cy="411.1" r="2.52" fill="url(#gO)"/><circle cx="435.0" cy="420.8" r="2.18" fill="url(#gC)"/><circle cx="417.9" cy="416.2" r="2.18" fill="url(#gC)"/><circle cx="425.9" cy="424.0" r="2.18" fill="url(#gC)"/><circle cx="425.3" cy="434.1" r="2.18" fill="url(#gC)"/><circle cx="433.5" cy="440.7" r="2.18" fill="url(#gC)"/><circle cx="442.7" cy="437.7" r="2.18" fill="url(#gC)"/><circle cx="443.2" cy="427.5" r="2.18" fill="url(#gC)"/><circle cx="451.8" cy="444.2" r="2.18" fill="url(#gC)"/><circle cx="461.3" cy="441.4" r="2.18" fill="url(#gC)"/><circle cx="470.1" cy="448.0" r="2.18" fill="url(#gC)"/><circle cx="479.9" cy="443.2" r="2.18" fill="url(#gC)"/><circle cx="488.8" cy="449.0" r="2.18" fill="url(#gC)"/><circle cx="488.5" cy="458.7" r="2.27" fill="url(#gN)"/><circle cx="479.3" cy="464.0" r="2.18" fill="url(#gC)"/><circle cx="470.1" cy="458.7" r="2.18" fill="url(#gC)"/><circle cx="498.8" cy="465.1" r="2.18" fill="url(#gC)"/><path d="M602.8 375.9L604.3 371.6M600.6 375.3L601.6 370.8M593.3 383.2L594.0 379.1M589.6 390.2L589.4 387.8M581.3 412.1L580.7 410.6M578.3 422.6L577.0 423.6M573.8 445.6L572.3 447.6M573.2 453.5L571.6 457.3M575.2 464.1L573.7 468.4M577.4 464.7L576.4 469.2M584.7 456.8L584.0 460.9M588.4 449.8L588.6 452.2M596.7 427.9L597.3 429.4M599.7 417.4L601.0 416.4M604.2 394.4L605.7 392.4M604.8 386.5L606.4 382.7M608.8 380.8L610.4 377.1M608.8 380.8L613.0 382.8M585.8 374.2L585.8 370.0M585.8 374.2L581.4 373.8M596.8 403.6L597.3 402.0M596.8 403.6L601.2 405.2M573.8 397.0L572.6 395.0M573.8 397.0L569.6 396.2M587.0 438.0L586.5 439.6M587.0 438.0L591.5 439.0M563.9 431.4L561.8 432.5M563.9 431.4L559.9 429.9M585.1 463.8L584.4 467.8M585.1 463.8L589.6 464.2M562.0 457.1L559.7 460.7M562.0 457.1L558.0 455.2M592.2 465.8L592.2 470.0M592.2 465.8L596.6 466.2M569.2 459.2L567.6 462.9M569.2 459.2L565.0 457.2M604.2 443.0L605.4 445.0M604.2 443.0L608.4 443.8M581.2 436.4L580.7 438.0M581.2 436.4L576.8 434.8M614.1 408.6L616.2 407.5M614.1 408.6L618.1 410.1M591.0 402.0L591.5 400.4M591.0 402.0L586.5 401.0M616.0 382.9L618.3 379.3M616.0 382.9L620.0 384.8M592.9 376.2L593.6 372.2M592.9 376.2L588.4 375.8" stroke="#b08262" stroke-width="1.05" fill="none"/><path d="M604.3 371.6L605.9 367.3M601.6 370.8L602.6 366.4M594.0 379.1L594.7 375.0M589.4 387.8L589.3 385.3M580.7 410.6L580.2 409.1M577.0 423.6L575.7 424.6M572.3 447.6L570.8 449.5M571.6 457.3L570.0 461.1M573.7 468.4L572.1 472.7M576.4 469.2L575.4 473.6M584.0 460.9L583.3 465.0M588.6 452.2L588.7 454.7M597.3 429.4L597.8 430.9M601.0 416.4L602.3 415.4M605.7 392.4L607.2 390.5M606.4 382.7L608.0 378.9M610.4 377.1L612.0 373.3M613.0 382.8L617.1 384.8M585.8 370.0L585.7 365.8M581.4 373.8L576.9 373.3M597.3 402.0L597.8 400.4M601.2 405.2L605.5 406.8M572.6 395.0L571.4 392.9M569.6 396.2L565.4 395.3M586.5 439.6L586.1 441.2M591.5 439.0L596.0 439.9M561.8 432.5L559.7 433.7M559.9 429.9L555.9 428.4M584.4 467.8L583.8 471.8M589.6 464.2L594.2 464.7M559.7 460.7L557.5 464.3M558.0 455.2L554.0 453.2M592.2 470.0L592.3 474.2M596.6 466.2L601.1 466.7M567.6 462.9L566.0 466.7M565.0 457.2L560.9 455.2M605.4 445.0L606.6 447.1M608.4 443.8L612.6 444.7M580.7 438.0L580.2 439.6M576.8 434.8L572.5 433.2M616.2 407.5L618.3 406.3M618.1 410.1L622.1 411.6M591.5 400.4L591.9 398.8M586.5 401.0L582.0 400.1M618.3 379.3L620.5 375.7M620.0 384.8L624.0 386.8M593.6 372.2L594.2 368.2M588.4 375.8L583.8 375.3" stroke="#dcd0bd" stroke-width="1.05" fill="none"/><path d="M602.8 375.9L601.7 375.6M601.7 375.6L600.6 375.3M602.8 375.9L606.9 378.7M600.6 375.3L604.2 377.9M612.2 383.9L613.3 386.2M610.6 383.4L613.3 386.2M613.3 386.2L616.0 389.1M602.8 375.9L598.4 376.3M600.6 375.3L595.7 375.5M590.1 377.5L586.3 378.4M588.5 377.1L586.3 378.4M586.3 378.4L582.4 379.5M593.3 383.2L591.5 386.7M591.5 386.7L589.6 390.2M593.3 383.2L597.9 384.8M589.6 390.2L593.4 393.4M603.6 391.0L604.6 395.6M600.9 396.1L604.6 395.6M604.6 395.6L607.8 398.1M593.3 383.2L589.4 382.3M589.6 390.2L584.8 391.0M581.5 384.6L577.6 387.9M578.8 389.8L577.6 387.9M577.6 387.9L574.2 388.5M581.3 412.1L579.8 417.4M579.8 417.4L578.3 422.6M581.3 412.1L586.2 412.2M578.3 422.6L582.5 425.2M592.9 416.9L594.7 421.6M590.7 424.7L594.7 421.6M594.7 421.6L598.4 422.7M581.3 412.1L577.7 409.7M578.3 422.6L573.9 422.7M570.9 410.6L567.7 413.9M568.6 418.4L567.7 413.9M567.7 413.9L564.8 413.1M573.8 445.6L573.5 449.5M573.5 449.5L573.2 453.5M573.8 445.6L578.6 444.9M573.2 453.5L577.9 454.6M586.4 446.5L589.3 448.9M586.0 452.3L589.3 448.9M589.3 448.9L593.3 448.5M573.8 445.6L570.1 442.4M573.2 453.5L569.4 452.2M564.4 440.2L562.3 441.2M563.9 446.0L562.3 441.2M562.3 441.2L559.7 438.9M575.2 464.1L576.3 464.4M576.3 464.4L577.4 464.7M575.2 464.1L579.6 463.7M577.4 464.7L582.3 464.5M587.9 462.5L591.7 461.6M589.5 462.9L591.7 461.6M591.7 461.6L595.6 460.5M575.2 464.1L571.1 461.3M577.4 464.7L573.8 462.1M565.8 456.1L564.7 453.8M567.4 456.6L564.7 453.8M564.7 453.8L562.0 450.9M584.7 456.8L586.5 453.3M586.5 453.3L588.4 449.8M584.7 456.8L588.6 457.7M588.4 449.8L593.2 449.0M596.5 455.4L600.4 452.1M599.2 450.2L600.4 452.1M600.4 452.1L603.8 451.5M584.7 456.8L580.1 455.2M588.4 449.8L584.6 446.6M574.4 449.0L573.4 444.4M577.1 443.9L573.4 444.4M573.4 444.4L570.2 441.9M596.7 427.9L598.2 422.6M598.2 422.6L599.7 417.4M596.7 427.9L600.3 430.3M599.7 417.4L604.1 417.3M607.1 429.4L610.3 426.1M609.4 421.6L610.3 426.1M610.3 426.1L613.2 426.9M596.7 427.9L591.8 427.8M599.7 417.4L595.5 414.8M585.1 423.1L583.3 418.4M587.3 415.3L583.3 418.4M583.3 418.4L579.6 417.3M604.2 394.4L604.5 390.5M604.5 390.5L604.8 386.5M604.2 394.4L607.9 397.6M604.8 386.5L608.6 387.8M613.6 399.8L615.7 398.8M614.1 394.0L615.7 398.8M615.7 398.8L618.3 401.1M604.2 394.4L599.4 395.1M604.8 386.5L600.1 385.4M591.6 393.5L588.7 391.1M592.0 387.7L588.7 391.1M588.7 391.1L584.7 391.5M608.3 380.7L608.8 380.8M605.7 383.6L608.8 380.8M588.3 374.9L585.8 374.2M585.6 377.8L585.8 374.2M597.0 400.1L596.8 403.6M594.0 407.9L596.8 403.6M576.9 394.4L573.8 397.0M573.9 402.2L573.8 397.0M586.9 432.9L587.0 438.0M585.2 441.1L587.0 438.0M566.8 427.1L563.9 431.4M565.2 435.3L563.9 431.4M583.9 459.8L585.1 463.8M584.6 463.6L585.1 463.8M563.8 454.0L562.0 457.1M564.5 457.8L562.0 457.1M589.7 465.1L592.2 465.8M592.4 462.2L592.2 465.8M569.7 459.3L569.2 459.2M572.3 456.4L569.2 459.2M601.1 445.6L604.2 443.0M604.1 437.8L604.2 443.0M581.0 439.9L581.2 436.4M584.0 432.1L581.2 436.4M611.2 412.9L614.1 408.6M612.8 404.7L614.1 408.6M591.1 407.1L591.0 402.0M592.8 398.9L591.0 402.0M614.2 386.0L616.0 382.9M613.5 382.2L616.0 382.9M594.1 380.2L592.9 376.2M593.4 376.4L592.9 376.2" stroke="#b08262" stroke-width="1.15" fill="none"/><path d="M606.9 378.7L611.0 381.5M604.2 377.9L607.8 380.6M611.0 381.5L612.2 383.9M607.8 380.6L610.6 383.4M598.4 376.3L593.9 376.6M595.7 375.5L590.7 375.7M593.9 376.6L590.1 377.5M590.7 375.7L588.5 377.1M597.9 384.8L602.6 386.3M593.4 393.4L597.2 396.6M602.6 386.3L603.6 391.0M597.2 396.6L600.9 396.1M589.4 382.3L585.5 381.4M584.8 391.0L580.0 391.7M585.5 381.4L581.5 384.6M580.0 391.7L578.8 389.8M586.2 412.2L591.2 412.2M582.5 425.2L586.7 427.7M591.2 412.2L592.9 416.9M586.7 427.7L590.7 424.7M577.7 409.7L574.1 407.3M573.9 422.7L569.6 422.8M574.1 407.3L570.9 410.6M569.6 422.8L568.6 418.4M578.6 444.9L583.5 444.2M577.9 454.6L582.7 455.8M583.5 444.2L586.4 446.5M582.7 455.8L586.0 452.3M570.1 442.4L566.4 439.3M569.4 452.2L565.5 450.9M566.4 439.3L564.4 440.2M565.5 450.9L563.9 446.0M579.6 463.7L584.1 463.4M582.3 464.5L587.3 464.3M584.1 463.4L587.9 462.5M587.3 464.3L589.5 462.9M571.1 461.3L567.0 458.5M573.8 462.1L570.2 459.4M567.0 458.5L565.8 456.1M570.2 459.4L567.4 456.6M588.6 457.7L592.5 458.6M593.2 449.0L598.0 448.3M592.5 458.6L596.5 455.4M598.0 448.3L599.2 450.2M580.1 455.2L575.4 453.7M584.6 446.6L580.8 443.4M575.4 453.7L574.4 449.0M580.8 443.4L577.1 443.9M600.3 430.3L603.9 432.7M604.1 417.3L608.4 417.2M603.9 432.7L607.1 429.4M608.4 417.2L609.4 421.6M591.8 427.8L586.8 427.8M595.5 414.8L591.3 412.3M586.8 427.8L585.1 423.1M591.3 412.3L587.3 415.3M607.9 397.6L611.6 400.7M608.6 387.8L612.5 389.1M611.6 400.7L613.6 399.8M612.5 389.1L614.1 394.0M599.4 395.1L594.5 395.8M600.1 385.4L595.3 384.2M594.5 395.8L591.6 393.5M595.3 384.2L592.0 387.7M607.8 380.6L608.3 380.7M602.6 386.3L605.7 383.6M590.7 375.7L588.3 374.9M585.5 381.4L585.6 377.8M597.2 396.6L597.0 400.1M591.2 412.2L594.0 407.9M580.0 391.7L576.9 394.4M574.1 407.3L573.9 402.2M586.7 427.7L586.9 432.9M583.5 444.2L585.2 441.1M569.6 422.8L566.8 427.1M566.4 439.3L565.2 435.3M582.7 455.8L583.9 459.8M584.1 463.4L584.6 463.6M565.5 450.9L563.8 454.0M567.0 458.5L564.5 457.8M587.3 464.3L589.7 465.1M592.5 458.6L592.4 462.2M570.2 459.4L569.7 459.3M575.4 453.7L572.3 456.4M598.0 448.3L601.1 445.6M603.9 432.7L604.1 437.8M580.8 443.4L581.0 439.9M586.8 427.8L584.0 432.1M608.4 417.2L611.2 412.9M611.6 400.7L612.8 404.7M591.3 412.3L591.1 407.1M594.5 395.8L592.8 398.9M612.5 389.1L614.2 386.0M611.0 381.5L613.5 382.2M595.3 384.2L594.1 380.2M593.9 376.6L593.4 376.4" stroke="#919ada" stroke-width="1.15" fill="none"/><path d="M616.0 389.1L618.7 392.1M582.4 379.5L578.6 380.6M607.8 398.1L610.9 400.5M574.2 388.5L570.8 389.0M598.4 422.7L602.1 423.8M564.8 413.1L561.9 412.2M593.3 448.5L597.3 448.1M559.7 438.9L557.2 436.6M595.6 460.5L599.4 459.4M562.0 450.9L559.3 447.9M603.8 451.5L607.2 451.0M570.2 441.9L567.1 439.5M613.2 426.9L616.1 427.8M579.6 417.3L575.9 416.2M618.3 401.1L620.8 403.4M584.7 391.5L580.7 391.9" stroke="#d87282" stroke-width="1.15" fill="none"/><path d="M542.6 363.1L541.7 368.0M539.3 373.8L537.8 374.8M536.9 375.4L533.0 377.9M559.9 402.2L557.5 404.9M621.2 445.6L622.0 447.1M622.0 447.1L624.7 451.5M636.3 489.1L640.9 485.7M632.0 493.9L632.3 495.4M631.5 496.6L631.2 500.6" stroke="#e83030" stroke-width="1.3" fill="none"/><path d="M541.7 368.0L540.8 372.8M540.8 372.8L539.3 373.8M540.8 372.8L536.9 375.4M540.8 372.8L545.7 376.6M627.0 488.4L631.7 492.5M631.7 492.5L636.3 489.1M631.7 492.5L632.0 493.9M631.7 492.5L631.5 496.6" stroke="#d8d830" stroke-width="1.3" fill="none"/><path d="M545.7 376.6L550.6 380.3M550.6 380.3L552.6 379.6M552.6 379.6L554.6 378.8M554.6 378.8L556.2 385.1M556.2 385.1L557.9 391.4M557.9 391.4L559.1 389.2M559.1 389.2L560.4 387.0M557.9 391.4L560.1 395.4M560.1 395.4L562.3 399.5M557.9 391.4L553.1 390.1M553.1 390.1L548.4 388.9M557.9 391.4L556.6 393.8M560.4 387.0L561.9 386.6M561.9 386.6L563.4 386.3M563.4 386.3L568.0 387.8M568.0 387.8L572.5 389.2M572.5 389.2L574.7 393.1M574.7 393.1L576.9 397.0M576.9 397.0L574.3 399.7M574.3 399.7L571.8 402.4M576.9 397.0L581.8 398.2M581.8 398.2L586.7 399.5M571.8 402.4L567.4 402.6M567.4 402.6L563.0 402.9M563.0 402.9L562.6 401.2M562.6 401.2L562.3 399.5M563.0 402.9L563.2 407.2M563.2 407.2L563.4 411.5M562.3 399.5L559.9 402.2M586.7 399.5L589.4 402.4M589.4 402.4L592.1 405.2M548.4 388.9L546.5 390.9M546.5 390.9L544.7 392.9M544.7 392.9L547.7 396.7M547.7 396.7L550.6 400.5M550.6 400.5L553.0 398.4M550.6 400.5L547.5 404.4M547.5 404.4L544.4 408.2M550.6 400.5L550.8 405.6M550.8 405.6L551.0 410.8M544.4 408.2L539.8 406.6M539.8 406.6L535.2 405.0M551.0 410.8L547.2 414.0M547.2 414.0L543.4 417.2M551.0 410.8L551.4 415.1M551.4 415.1L551.8 419.3M551.8 419.3L554.8 419.3M554.8 419.3L557.7 419.3M557.7 419.3L561.5 420.2M568.8 420.0L572.2 418.8M566.5 422.9L567.7 424.6M572.2 418.8L576.9 420.3M576.9 420.3L581.5 421.8M581.5 421.8L582.8 424.0M582.8 424.0L584.1 426.2M584.1 426.2L580.4 426.8M580.4 426.8L576.6 427.4M584.1 426.2L588.8 428.2M588.8 428.2L593.5 430.3M576.6 427.4L572.2 426.0M572.2 426.0L567.7 424.6M592.1 405.2L597.0 406.9M597.0 406.9L602.0 408.5M602.0 408.5L604.8 407.6M604.8 407.6L607.6 406.8M602.0 408.5L604.2 411.2M604.2 411.2L606.4 413.9M607.6 406.8L612.2 408.8M612.2 408.8L616.8 410.8M616.8 410.8L618.8 413.4M618.0 416.9L615.3 417.7M625.7 417.6L630.6 419.3M615.3 417.7L610.8 415.8M610.8 415.8L606.4 413.9M630.6 419.3L632.9 421.5M632.9 421.5L635.2 423.6M593.5 430.3L597.2 430.6M597.2 430.6L600.9 430.8M600.9 430.8L605.6 433.2M605.6 433.2L610.3 435.6M610.3 435.6L613.7 436.2M613.7 436.2L617.1 436.9M610.3 435.6L611.2 437.2M611.2 437.2L612.1 438.8M617.1 436.9L621.3 439.5M621.3 439.5L625.5 442.1M625.5 442.1L626.4 444.1M626.4 444.1L627.2 446.1M625.5 442.1L629.1 443.6M629.1 443.6L632.8 445.0M627.2 446.1L623.8 445.1M623.8 445.1L620.4 444.2M620.4 444.2L616.2 441.5M616.2 441.5L612.1 438.8M620.4 444.2L621.2 445.6M624.7 451.5L627.4 455.8M627.4 455.8L628.9 455.4M628.9 455.4L630.4 455.0M627.4 455.8L624.5 457.6M624.5 457.6L621.5 459.4M632.8 445.0L634.0 448.5M634.0 448.5L635.2 452.0M635.2 452.0L635.2 454.4M635.2 454.4L635.2 456.9M635.2 456.9L632.8 455.9M632.8 455.9L630.4 455.0M635.2 456.9L637.0 459.6M637.0 459.6L638.8 462.3M621.5 459.4L621.1 461.5M621.5 459.4L619.7 459.0M619.7 459.0L617.9 458.7M618.5 464.0L616.4 464.4M621.6 470.0L622.5 476.3M617.9 458.7L613.9 461.3M613.9 461.3L609.9 463.9M617.9 458.7L617.1 461.5M617.1 461.5L616.4 464.4M609.9 463.9L607.3 466.5M607.3 466.5L604.7 469.1M604.7 469.1L606.2 469.6M606.2 469.6L607.7 470.2M607.7 470.2L612.2 468.9M612.2 468.9L616.6 467.7M616.6 467.7L616.5 466.0M616.5 466.0L616.4 464.4M622.5 476.3L622.4 480.2M622.4 480.2L622.2 484.2M622.2 484.2L627.0 488.4" stroke="#7a4e30" stroke-width="1.3" fill="none"/><path d="M533.0 377.9L531.1 375.2M640.9 485.7L643.0 486.5" stroke="#e83030" stroke-width="1.04" fill="none"/><path d="M531.1 375.2L529.3 372.5M547.7 382.0L544.7 383.6M557.4 379.5L560.1 380.1M556.4 375.5L558.2 372.1M544.7 383.6L546.5 386.2M574.7 387.2L576.9 385.2M541.5 391.8L538.3 390.7M532.7 404.6L530.1 404.1M535.2 402.1L535.2 399.3M533.4 407.8L531.6 410.6M565.5 411.1L567.7 410.8M541.3 416.6L539.3 416.0M540.8 419.8L538.3 422.3M549.8 422.4L547.7 425.4M617.0 419.9L618.6 422.1M632.7 416.2L634.7 413.2M630.4 422.0L630.1 424.6M638.8 424.6L642.3 425.5M633.4 427.0L631.6 430.3M636.0 443.6L639.3 442.1M638.0 452.6L640.9 453.3M642.0 461.0L645.2 459.6M638.0 465.8L637.3 469.3M602.0 471.2L599.3 473.4M606.0 472.4L604.2 474.7M626.0 475.2L629.4 474.2M620.8 477.4L619.0 478.5M619.2 486.4L616.1 488.7M643.0 486.5L645.2 487.4" stroke="#dcd6cc" stroke-width="1.04" fill="none"/><path d="M550.6 380.3L547.7 382.0M554.6 378.8L557.4 379.5M554.6 378.8L556.4 375.5M546.5 386.2L548.4 388.9M572.5 389.2L574.7 387.2M544.7 392.9L541.5 391.8M535.2 405.0L532.7 404.6M535.2 405.0L535.2 402.1M535.2 405.0L533.4 407.8M563.4 411.5L565.5 411.1M543.4 417.2L541.3 416.6M543.4 417.2L540.8 419.8M551.8 419.3L549.8 422.4M615.3 417.7L617.0 419.9M630.6 419.3L632.7 416.2M630.6 419.3L630.4 422.0M635.2 423.6L638.8 424.6M635.2 423.6L633.4 427.0M632.8 445.0L636.0 443.6M635.2 452.0L638.0 452.6M638.8 462.3L642.0 461.0M638.8 462.3L638.0 465.8M604.7 469.1L602.0 471.2M607.7 470.2L606.0 472.4M622.5 476.3L626.0 475.2M622.5 476.3L620.8 477.4M622.2 484.2L619.2 486.4" stroke="#7a4e30" stroke-width="1.04" fill="none"/><path d="M556.6 393.8L555.3 396.2M553.0 398.4L555.3 396.2M561.5 420.2L565.4 421.1M565.4 421.1L568.8 420.0M565.4 421.1L566.5 422.9M618.8 413.4L620.7 416.0M620.7 416.0L618.0 416.9M620.7 416.0L625.7 417.6M621.1 461.5L620.7 463.7M620.7 463.7L618.5 464.0M620.7 463.7L621.6 470.0" stroke="#5a74d8" stroke-width="1.3" fill="none"/><circle cx="529.3" cy="372.5" r="1.26" fill="url(#gH)"/><circle cx="544.7" cy="383.6" r="1.26" fill="url(#gH)"/><circle cx="560.1" cy="380.1" r="1.26" fill="url(#gH)"/><circle cx="558.2" cy="372.1" r="1.26" fill="url(#gH)"/><circle cx="576.9" cy="385.2" r="1.26" fill="url(#gH)"/><circle cx="538.3" cy="390.7" r="1.26" fill="url(#gH)"/><circle cx="567.7" cy="410.8" r="1.26" fill="url(#gH)"/><circle cx="530.1" cy="404.1" r="1.26" fill="url(#gH)"/><circle cx="535.2" cy="399.3" r="1.26" fill="url(#gH)"/><circle cx="531.6" cy="410.6" r="1.26" fill="url(#gH)"/><circle cx="539.3" cy="416.0" r="1.26" fill="url(#gH)"/><circle cx="538.3" cy="422.3" r="1.26" fill="url(#gH)"/><circle cx="547.7" cy="425.4" r="1.26" fill="url(#gH)"/><circle cx="618.6" cy="422.1" r="1.26" fill="url(#gH)"/><circle cx="634.7" cy="413.2" r="1.26" fill="url(#gH)"/><circle cx="630.1" cy="424.6" r="1.26" fill="url(#gH)"/><circle cx="642.3" cy="425.5" r="1.26" fill="url(#gH)"/><circle cx="631.6" cy="430.3" r="1.26" fill="url(#gH)"/><circle cx="639.3" cy="442.1" r="1.26" fill="url(#gH)"/><circle cx="640.9" cy="453.3" r="1.26" fill="url(#gH)"/><circle cx="645.2" cy="459.6" r="1.26" fill="url(#gH)"/><circle cx="637.3" cy="469.3" r="1.26" fill="url(#gH)"/><circle cx="599.3" cy="473.4" r="1.26" fill="url(#gH)"/><circle cx="604.2" cy="474.7" r="1.26" fill="url(#gH)"/><circle cx="629.4" cy="474.2" r="1.26" fill="url(#gH)"/><circle cx="619.0" cy="478.5" r="1.26" fill="url(#gH)"/><circle cx="616.1" cy="488.7" r="1.26" fill="url(#gH)"/><circle cx="645.2" cy="487.4" r="1.26" fill="url(#gH)"/><circle cx="542.6" cy="363.1" r="2.52" fill="url(#gO)"/><circle cx="540.8" cy="372.8" r="2.77" fill="url(#gS)"/><circle cx="537.8" cy="374.8" r="2.52" fill="url(#gO)"/><circle cx="533.0" cy="377.9" r="2.52" fill="url(#gO)"/><circle cx="550.6" cy="380.3" r="2.18" fill="url(#gC)"/><circle cx="554.6" cy="378.8" r="2.18" fill="url(#gC)"/><circle cx="557.9" cy="391.4" r="2.18" fill="url(#gC)"/><circle cx="560.4" cy="387.0" r="2.18" fill="url(#gC)"/><circle cx="563.4" cy="386.3" r="2.18" fill="url(#gC)"/><circle cx="572.5" cy="389.2" r="2.18" fill="url(#gC)"/><circle cx="576.9" cy="397.0" r="2.18" fill="url(#gC)"/><circle cx="571.8" cy="402.4" r="2.18" fill="url(#gC)"/><circle cx="563.0" cy="402.9" r="2.18" fill="url(#gC)"/><circle cx="562.3" cy="399.5" r="2.18" fill="url(#gC)"/><circle cx="586.7" cy="399.5" r="2.18" fill="url(#gC)"/><circle cx="548.4" cy="388.9" r="2.18" fill="url(#gC)"/><circle cx="544.7" cy="392.9" r="2.18" fill="url(#gC)"/><circle cx="550.6" cy="400.5" r="2.18" fill="url(#gC)"/><circle cx="555.3" cy="396.2" r="2.27" fill="url(#gN)"/><circle cx="557.5" cy="404.9" r="2.52" fill="url(#gO)"/><circle cx="544.4" cy="408.2" r="2.18" fill="url(#gC)"/><circle cx="535.2" cy="405.0" r="2.18" fill="url(#gC)"/><circle cx="551.0" cy="410.8" r="2.18" fill="url(#gC)"/><circle cx="563.4" cy="411.5" r="2.18" fill="url(#gC)"/><circle cx="543.4" cy="417.2" r="2.18" fill="url(#gC)"/><circle cx="551.8" cy="419.3" r="2.18" fill="url(#gC)"/><circle cx="557.7" cy="419.3" r="2.18" fill="url(#gC)"/><circle cx="565.4" cy="421.1" r="2.27" fill="url(#gN)"/><circle cx="572.2" cy="418.8" r="2.18" fill="url(#gC)"/><circle cx="581.5" cy="421.8" r="2.18" fill="url(#gC)"/><circle cx="584.1" cy="426.2" r="2.18" fill="url(#gC)"/><circle cx="576.6" cy="427.4" r="2.18" fill="url(#gC)"/><circle cx="567.7" cy="424.6" r="2.18" fill="url(#gC)"/><circle cx="592.1" cy="405.2" r="2.18" fill="url(#gC)"/><circle cx="602.0" cy="408.5" r="2.18" fill="url(#gC)"/><circle cx="607.6" cy="406.8" r="2.18" fill="url(#gC)"/><circle cx="616.8" cy="410.8" r="2.18" fill="url(#gC)"/><circle cx="620.7" cy="416.0" r="2.27" fill="url(#gN)"/><circle cx="615.3" cy="417.7" r="2.18" fill="url(#gC)"/><circle cx="606.4" cy="413.9" r="2.18" fill="url(#gC)"/><circle cx="630.6" cy="419.3" r="2.18" fill="url(#gC)"/><circle cx="635.2" cy="423.6" r="2.18" fill="url(#gC)"/><circle cx="593.5" cy="430.3" r="2.18" fill="url(#gC)"/><circle cx="600.9" cy="430.8" r="2.18" fill="url(#gC)"/><circle cx="610.3" cy="435.6" r="2.18" fill="url(#gC)"/><circle cx="617.1" cy="436.9" r="2.18" fill="url(#gC)"/><circle cx="625.5" cy="442.1" r="2.18" fill="url(#gC)"/><circle cx="627.2" cy="446.1" r="2.18" fill="url(#gC)"/><circle cx="620.4" cy="444.2" r="2.18" fill="url(#gC)"/><circle cx="612.1" cy="438.8" r="2.18" fill="url(#gC)"/><circle cx="622.0" cy="447.1" r="2.52" fill="url(#gO)"/><circle cx="627.4" cy="455.8" r="2.18" fill="url(#gC)"/><circle cx="632.8" cy="445.0" r="2.18" fill="url(#gC)"/><circle cx="635.2" cy="452.0" r="2.18" fill="url(#gC)"/><circle cx="635.2" cy="456.9" r="2.18" fill="url(#gC)"/><circle cx="630.4" cy="455.0" r="2.18" fill="url(#gC)"/><circle cx="638.8" cy="462.3" r="2.18" fill="url(#gC)"/><circle cx="621.5" cy="459.4" r="2.18" fill="url(#gC)"/><circle cx="620.7" cy="463.7" r="2.27" fill="url(#gN)"/><circle cx="617.9" cy="458.7" r="2.18" fill="url(#gC)"/><circle cx="609.9" cy="463.9" r="2.18" fill="url(#gC)"/><circle cx="604.7" cy="469.1" r="2.18" fill="url(#gC)"/><circle cx="607.7" cy="470.2" r="2.18" fill="url(#gC)"/><circle cx="616.6" cy="467.7" r="2.18" fill="url(#gC)"/><circle cx="616.4" cy="464.4" r="2.18" fill="url(#gC)"/><circle cx="622.5" cy="476.3" r="2.18" fill="url(#gC)"/><circle cx="622.2" cy="484.2" r="2.18" fill="url(#gC)"/><circle cx="631.7" cy="492.5" r="2.77" fill="url(#gS)"/><circle cx="640.9" cy="485.7" r="2.52" fill="url(#gO)"/><circle cx="632.3" cy="495.4" r="2.52" fill="url(#gO)"/><circle cx="631.2" cy="500.6" r="2.52" fill="url(#gO)"/><path d="M460.4 574.3L461.5 569.5M458.0 573.9L458.5 569.1M451.3 583.3L451.5 578.9M448.3 591.2L447.8 588.7M442.3 615.6L441.5 614.1M440.4 627.2L439.2 628.4M438.6 652.2L437.3 654.5M439.0 660.7L437.8 664.9M442.6 671.7L441.5 676.5M445.0 672.1L444.5 676.9M451.7 662.7L451.5 667.1M454.7 654.8L455.2 657.3M460.7 630.4L461.5 631.9M462.6 618.8L463.8 617.6M464.4 593.8L465.7 591.5M464.0 585.3L465.2 581.1M467.5 578.7L468.7 574.5M467.5 578.7L472.1 580.3M442.1 574.7L441.5 570.2M442.1 574.7L437.3 574.8M457.7 604.6L458.0 602.8M457.7 604.6L462.5 605.7M432.3 600.6L430.8 598.5M432.3 600.6L427.7 600.2M451.7 642.4L451.4 644.2M451.7 642.4L456.6 642.8M426.3 638.4L424.3 639.9M426.3 638.4L421.9 637.3M453.0 670.0L452.9 674.4M453.0 670.0L457.9 669.9M427.7 666.0L425.7 670.1M427.7 666.0L423.2 664.4M460.9 671.3L461.5 675.8M460.9 671.3L465.7 671.2M435.5 667.3L434.3 671.5M435.5 667.3L430.9 665.7M470.7 645.4L472.2 647.5M470.7 645.4L475.3 645.8M445.3 641.4L445.0 643.2M445.3 641.4L440.5 640.3M476.7 607.6L478.7 606.1M476.7 607.6L481.1 608.7M451.3 603.6L451.6 601.8M451.3 603.6L446.4 603.2M475.3 580.0L477.3 575.9M475.3 580.0L479.8 581.6M450.0 576.0L450.1 571.6M450.0 576.0L445.1 576.1" stroke="#b08262" stroke-width="1.05" fill="none"/><path d="M461.5 569.5L462.5 564.8M458.5 569.1L459.0 564.2M451.5 578.9L451.7 574.4M447.8 588.7L447.2 586.1M441.5 614.1L440.7 612.6M439.2 628.4L438.0 629.6M437.3 654.5L436.0 656.8M437.8 664.9L436.6 669.2M441.5 676.5L440.5 681.2M444.5 676.9L444.0 681.8M451.5 667.1L451.3 671.6M455.2 657.3L455.8 659.9M461.5 631.9L462.3 633.4M463.8 617.6L465.0 616.4M465.7 591.5L467.0 589.2M465.2 581.1L466.4 576.8M468.7 574.5L469.9 570.3M472.1 580.3L476.8 582.0M441.5 570.2L440.9 565.7M437.3 574.8L432.6 574.9M458.0 602.8L458.3 601.1M462.5 605.7L467.3 606.8M430.8 598.5L429.3 596.5M427.7 600.2L423.1 599.8M451.4 644.2L451.2 646.0M456.6 642.8L461.6 643.3M424.3 639.9L422.2 641.4M421.9 637.3L417.4 636.3M452.9 674.4L452.7 678.8M457.9 669.9L462.9 669.9M425.7 670.1L423.8 674.2M423.2 664.4L418.7 662.9M461.5 675.8L462.1 680.3M465.7 671.2L470.4 671.1M434.3 671.5L433.1 675.7M430.9 665.7L426.2 664.0M472.2 647.5L473.7 649.5M475.3 645.8L479.9 646.2M445.0 643.2L444.7 644.9M440.5 640.3L435.7 639.2M478.7 606.1L480.8 604.6M481.1 608.7L485.6 609.7M451.6 601.8L451.8 600.0M446.4 603.2L441.4 602.7M477.3 575.9L479.2 571.8M479.8 581.6L484.3 583.1M450.1 571.6L450.3 567.2M445.1 576.1L440.1 576.1" stroke="#dcd0bd" stroke-width="1.05" fill="none"/><path d="M460.4 574.3L459.2 574.1M459.2 574.1L458.0 573.9M460.4 574.3L465.2 576.8M458.0 573.9L462.2 576.3M471.4 581.5L472.9 583.9M469.6 581.3L472.9 583.9M472.9 583.9L476.2 586.7M460.4 574.3L455.8 575.3M458.0 573.9L452.8 574.8M447.1 577.7L443.2 579.2M445.4 577.4L443.2 579.2M443.2 579.2L439.2 580.8M451.3 583.3L449.8 587.3M449.8 587.3L448.3 591.2M451.3 583.3L456.4 584.4M448.3 591.2L452.7 594.1M463.2 590.2L464.9 595.1M461.0 596.0L464.9 595.1M464.9 595.1L468.6 597.3M451.3 583.3L447.0 582.9M448.3 591.2L443.3 592.7M438.9 586.4L435.2 590.3M436.7 592.2L435.2 590.3M435.2 590.3L431.6 591.4M442.3 615.6L441.3 621.4M441.3 621.4L440.4 627.2M442.3 615.6L447.5 615.0M440.4 627.2L445.3 629.3M455.3 619.2L457.7 624.0M453.9 627.7L457.7 624.0M457.7 624.0L461.8 624.6M442.3 615.6L438.1 613.6M440.4 627.2L435.8 627.8M431.0 615.4L428.0 619.3M429.6 623.9L428.0 619.3M428.0 619.3L424.9 618.8M438.6 652.2L438.8 656.4M438.8 656.4L439.0 660.7M438.6 652.2L443.7 650.8M439.0 660.7L444.2 661.3M452.2 651.6L455.6 653.7M452.5 657.8L455.6 653.7M455.6 653.7L459.8 652.8M438.6 652.2L434.3 649.3M439.0 660.7L434.8 659.8M427.9 647.7L425.9 649.0M428.2 653.9L425.9 649.0M425.9 649.0L422.9 646.9M442.6 671.7L443.8 671.9M443.8 671.9L445.0 672.1M442.6 671.7L447.2 670.7M445.0 672.1L450.2 671.2M455.9 668.3L459.8 666.8M457.6 668.6L459.8 666.8M459.8 666.8L463.8 665.2M442.6 671.7L437.8 669.2M445.0 672.1L440.8 669.7M431.6 664.5L430.1 662.1M433.4 664.7L430.1 662.1M430.1 662.1L426.8 659.3M451.7 662.7L453.2 658.7M453.2 658.7L454.7 654.8M451.7 662.7L456.0 663.1M454.7 654.8L459.7 653.3M464.1 659.6L467.8 655.7M466.3 653.8L467.8 655.7M467.8 655.7L471.4 654.6M451.7 662.7L446.6 661.6M454.7 654.8L450.3 651.9M439.8 655.8L438.1 650.9M442.0 650.0L438.1 650.9M438.1 650.9L434.4 648.7M460.7 630.4L461.7 624.6M461.7 624.6L462.6 618.8M460.7 630.4L464.9 632.4M462.6 618.8L467.2 618.2M472.0 630.6L475.0 626.7M473.4 622.1L475.0 626.7M475.0 626.7L478.1 627.2M460.7 630.4L455.5 631.0M462.6 618.8L457.7 616.7M447.7 626.8L445.3 622.0M449.1 618.3L445.3 622.0M445.3 622.0L441.2 621.4M464.4 593.8L464.2 589.6M464.2 589.6L464.0 585.3M464.4 593.8L468.7 596.7M464.0 585.3L468.2 586.2M475.1 598.3L477.1 597.0M474.8 592.1L477.1 597.0M477.1 597.0L480.1 599.1M464.4 593.8L459.3 595.2M464.0 585.3L458.8 584.7M450.8 594.4L447.4 592.3M450.5 588.2L447.4 592.3M447.4 592.3L443.2 593.2M466.9 578.7L467.5 578.7M464.5 582.1L467.5 578.7M444.8 575.2L442.1 574.7M442.4 578.6L442.1 574.7M457.4 600.8L457.7 604.6M455.2 609.5L457.7 604.6M435.3 597.3L432.3 600.6M433.1 606.0L432.3 600.6M450.9 637.0L451.7 642.4M450.3 645.9L451.7 642.4M428.8 633.5L426.3 638.4M428.2 642.4L426.3 638.4M451.2 666.0L453.0 670.0M452.5 669.9L453.0 670.0M429.1 662.5L427.7 666.0M430.4 666.4L427.7 666.0M458.2 670.8L460.9 671.3M460.6 667.4L460.9 671.3M436.1 667.3L435.5 667.3M438.5 663.9L435.5 667.3M467.7 648.7L470.7 645.4M469.9 640.0L470.7 645.4M445.6 645.2L445.3 641.4M447.8 636.5L445.3 641.4M474.2 612.5L476.7 607.6M474.8 603.6L476.7 607.6M452.1 609.0L451.3 603.6M452.7 600.1L451.3 603.6M473.9 583.5L475.3 580.0M472.6 579.6L475.3 580.0M451.8 580.0L450.0 576.0M450.5 576.1L450.0 576.0" stroke="#b08262" stroke-width="1.15" fill="none"/><path d="M465.2 576.8L469.9 579.2M462.2 576.3L466.4 578.7M469.9 579.2L471.4 581.5M466.4 578.7L469.6 581.3M455.8 575.3L451.1 576.2M452.8 574.8L447.5 575.7M451.1 576.2L447.1 577.7M447.5 575.7L445.4 577.4M456.4 584.4L461.5 585.4M452.7 594.1L457.1 597.0M461.5 585.4L463.2 590.2M457.1 597.0L461.0 596.0M447.0 582.9L442.7 582.4M443.3 592.7L438.3 594.1M442.7 582.4L438.9 586.4M438.3 594.1L436.7 592.2M447.5 615.0L452.8 614.5M445.3 629.3L450.1 631.5M452.8 614.5L455.3 619.2M450.1 631.5L453.9 627.7M438.1 613.6L434.0 611.5M435.8 627.8L431.3 628.5M434.0 611.5L431.0 615.4M431.3 628.5L429.6 623.9M443.7 650.8L448.8 649.4M444.2 661.3L449.4 661.9M448.8 649.4L452.2 651.6M449.4 661.9L452.5 657.8M434.3 649.3L430.0 646.4M434.8 659.8L430.6 658.9M430.0 646.4L427.9 647.7M430.6 658.9L428.2 653.9M447.2 670.7L451.9 669.8M450.2 671.2L455.5 670.3M451.9 669.8L455.9 668.3M455.5 670.3L457.6 668.6M437.8 669.2L433.1 666.8M440.8 669.7L436.6 667.3M433.1 666.8L431.6 664.5M436.6 667.3L433.4 664.7M456.0 663.1L460.3 663.6M459.7 653.3L464.7 651.9M460.3 663.6L464.1 659.6M464.7 651.9L466.3 653.8M446.6 661.6L441.5 660.6M450.3 651.9L445.9 649.0M441.5 660.6L439.8 655.8M445.9 649.0L442.0 650.0M464.9 632.4L469.0 634.5M467.2 618.2L471.7 617.5M469.0 634.5L472.0 630.6M471.7 617.5L473.4 622.1M455.5 631.0L450.2 631.5M457.7 616.7L452.9 614.5M450.2 631.5L447.7 626.8M452.9 614.5L449.1 618.3M468.7 596.7L473.0 599.6M468.2 586.2L472.4 587.1M473.0 599.6L475.1 598.3M472.4 587.1L474.8 592.1M459.3 595.2L454.2 596.6M458.8 584.7L453.6 584.1M454.2 596.6L450.8 594.4M453.6 584.1L450.5 588.2M466.4 578.7L466.9 578.7M461.5 585.4L464.5 582.1M447.5 575.7L444.8 575.2M442.7 582.4L442.4 578.6M457.1 597.0L457.4 600.8M452.8 614.5L455.2 609.5M438.3 594.1L435.3 597.3M434.0 611.5L433.1 606.0M450.1 631.5L450.9 637.0M448.8 649.4L450.3 645.9M431.3 628.5L428.8 633.5M430.0 646.4L428.2 642.4M449.4 661.9L451.2 666.0M451.9 669.8L452.5 669.9M430.6 658.9L429.1 662.5M433.1 666.8L430.4 666.4M455.5 670.3L458.2 670.8M460.3 663.6L460.6 667.4M436.6 667.3L436.1 667.3M441.5 660.6L438.5 663.9M464.7 651.9L467.7 648.7M469.0 634.5L469.9 640.0M445.9 649.0L445.6 645.2M450.2 631.5L447.8 636.5M471.7 617.5L474.2 612.5M473.0 599.6L474.8 603.6M452.9 614.5L452.1 609.0M454.2 596.6L452.7 600.1M472.4 587.1L473.9 583.5M469.9 579.2L472.6 579.6M453.6 584.1L451.8 580.0M451.1 576.2L450.5 576.1" stroke="#919ada" stroke-width="1.15" fill="none"/><path d="M476.2 586.7L479.5 589.5M439.2 580.8L435.3 582.5M468.6 597.3L472.3 599.4M431.6 591.4L428.1 592.4M461.8 624.6L465.9 625.3M424.9 618.8L421.7 618.3M459.8 652.8L464.0 651.8M422.9 646.9L419.8 644.8M463.8 665.2L467.7 663.5M426.8 659.3L423.5 656.5M471.4 654.6L474.9 653.6M434.4 648.7L430.7 646.6M478.1 627.2L481.3 627.7M441.2 621.4L437.1 620.7M480.1 599.1L483.2 601.2M443.2 593.2L439.0 594.2" stroke="#d87282" stroke-width="1.15" fill="none"/><path d="M413.7 581.6L418.1 582.6M418.1 582.6L422.5 583.6M413.7 581.6L411.1 585.5M411.1 585.5L408.6 589.3M422.5 583.6L424.4 588.2M424.4 588.2L426.3 592.8M408.6 589.3L410.6 593.9M410.6 593.9L412.7 598.5M426.3 592.8L423.8 596.7M423.8 596.7L421.2 600.6M421.2 600.6L416.9 599.5M416.9 599.5L412.7 598.5M421.2 600.6L422.2 605.5M412.7 598.5L410.5 603.5M410.5 603.5L408.4 608.4M420.0 612.9L416.8 615.3M427.8 612.0L432.4 613.4M408.4 608.4L412.6 611.8M412.6 611.8L416.8 615.3M408.4 608.4L403.9 609.7M403.9 609.7L399.4 611.0M416.8 615.3L416.4 620.5M416.4 620.5L415.9 625.7M431.0 615.1L432.4 613.4M432.2 621.2L434.8 625.7M434.9 617.3L440.1 617.8M432.4 613.4L436.2 615.6M436.2 615.6L440.1 617.8M415.9 625.7L418.6 629.4M418.6 629.4L421.4 633.1M421.4 633.1L425.8 633.1M425.8 633.1L430.1 633.1M430.1 633.1L432.5 629.4M432.5 629.4L434.8 625.7M430.1 633.1L433.1 637.5M433.1 637.5L436.0 641.9M434.8 625.7L437.5 621.8M437.5 621.8L440.1 617.8M434.8 625.7L439.8 625.3M439.8 625.3L444.8 624.9M436.0 641.9L440.9 642.0M440.9 642.0L445.9 642.1M440.1 617.8L445.1 617.6M445.1 617.6L450.1 617.4M440.1 617.8L442.5 621.3M442.5 621.3L444.8 624.9M450.1 617.4L447.5 621.1M447.5 621.1L444.8 624.9M450.1 617.4L452.5 611.7M444.8 624.9L447.8 629.0M447.8 629.0L450.8 633.1M450.8 633.1L448.4 637.6M448.4 637.6L445.9 642.1M450.8 633.1L456.0 633.0M456.0 633.0L461.1 632.8M461.1 632.8L463.3 628.6M463.3 628.6L465.5 624.4M465.5 624.4L470.3 624.0M470.3 624.0L475.1 623.5M475.1 623.5L475.9 619.5M475.9 619.5L476.6 615.6M475.1 623.5L478.9 627.0M478.9 627.0L482.6 630.5M476.6 615.6L480.7 615.5M480.7 615.5L484.8 615.4M482.6 630.5L486.6 630.2M486.6 630.2L490.7 630.0M484.8 615.4L488.5 619.0M491.4 626.3L490.7 630.0" stroke="#7a4e30" stroke-width="1.3" fill="none"/><path d="M413.7 581.6L412.3 578.0M422.5 583.6L424.1 580.7M408.6 589.3L405.7 588.4M426.3 592.8L429.5 593.5M408.4 608.4L405.4 606.1M408.4 608.4L411.4 606.9M408.4 608.4L407.8 611.8M432.4 613.4L432.6 611.1M399.4 611.0L396.8 608.0M399.4 611.0L397.9 614.5M415.9 625.7L412.5 626.8M421.4 633.1L419.5 636.5M440.1 617.8L440.4 615.4M450.1 617.4L452.4 619.8M482.6 630.5L482.2 633.5M484.8 615.4L485.6 612.6M490.7 630.0L493.2 632.8" stroke="#7a4e30" stroke-width="1.04" fill="none"/><path d="M412.3 578.0L410.9 574.4M424.1 580.7L425.8 577.8M405.7 588.4L402.8 587.5M429.5 593.5L432.7 594.1M405.4 606.1L402.3 603.8M411.4 606.9L414.5 605.4M407.8 611.8L407.2 615.3M426.9 617.5L424.2 618.1M432.6 611.1L432.9 608.9M396.8 608.0L394.1 605.1M397.9 614.5L396.3 617.9M412.5 626.8L409.2 627.9M419.5 636.5L417.6 639.8M440.4 615.4L440.6 613.0M452.4 619.8L454.6 622.2M482.2 633.5L481.9 636.4M485.6 612.6L486.3 609.8M493.2 632.8L495.7 635.5" stroke="#dcd6cc" stroke-width="1.04" fill="none"/><path d="M422.2 605.5L423.2 610.5M423.2 610.5L420.0 612.9M423.2 610.5L426.4 613.6M423.2 610.5L427.8 612.0M488.5 619.0L492.2 622.6M492.2 622.6L491.4 626.3" stroke="#5a74d8" stroke-width="1.3" fill="none"/><path d="M426.4 613.6L429.7 616.8M429.7 616.8L431.0 615.1M429.7 616.8L432.2 621.2M429.7 616.8L434.9 617.3M447.9 598.7L451.4 602.4M447.9 598.7L452.4 601.2M452.4 601.2L457.0 603.7M455.9 604.9L457.0 603.7M459.5 606.1L464.1 606.3M457.0 603.7L460.6 605.0M460.6 605.0L464.1 606.3" stroke="#e83030" stroke-width="1.3" fill="none"/><path d="M429.7 616.8L426.9 617.5" stroke="#e83030" stroke-width="1.04" fill="none"/><path d="M452.5 611.7L454.8 606.0M451.4 602.4L454.8 606.0M454.8 606.0L455.9 604.9M454.8 606.0L459.5 606.1" stroke="#d8d830" stroke-width="1.3" fill="none"/><circle cx="410.9" cy="574.4" r="1.26" fill="url(#gH)"/><circle cx="425.8" cy="577.8" r="1.26" fill="url(#gH)"/><circle cx="432.7" cy="594.1" r="1.26" fill="url(#gH)"/><circle cx="402.8" cy="587.5" r="1.26" fill="url(#gH)"/><circle cx="402.3" cy="603.8" r="1.26" fill="url(#gH)"/><circle cx="414.5" cy="605.4" r="1.26" fill="url(#gH)"/><circle cx="407.2" cy="615.3" r="1.26" fill="url(#gH)"/><circle cx="394.1" cy="605.1" r="1.26" fill="url(#gH)"/><circle cx="396.3" cy="617.9" r="1.26" fill="url(#gH)"/><circle cx="409.2" cy="627.9" r="1.26" fill="url(#gH)"/><circle cx="417.6" cy="639.8" r="1.26" fill="url(#gH)"/><circle cx="424.2" cy="618.1" r="1.26" fill="url(#gH)"/><circle cx="432.9" cy="608.9" r="1.26" fill="url(#gH)"/><circle cx="440.6" cy="613.0" r="1.26" fill="url(#gH)"/><circle cx="454.6" cy="622.2" r="1.26" fill="url(#gH)"/><circle cx="486.3" cy="609.8" r="1.26" fill="url(#gH)"/><circle cx="495.7" cy="635.5" r="1.26" fill="url(#gH)"/><circle cx="481.9" cy="636.4" r="1.26" fill="url(#gH)"/><circle cx="413.7" cy="581.6" r="2.18" fill="url(#gC)"/><circle cx="422.5" cy="583.6" r="2.18" fill="url(#gC)"/><circle cx="408.6" cy="589.3" r="2.18" fill="url(#gC)"/><circle cx="426.3" cy="592.8" r="2.18" fill="url(#gC)"/><circle cx="421.2" cy="600.6" r="2.18" fill="url(#gC)"/><circle cx="412.7" cy="598.5" r="2.18" fill="url(#gC)"/><circle cx="423.2" cy="610.5" r="2.27" fill="url(#gN)"/><circle cx="408.4" cy="608.4" r="2.18" fill="url(#gC)"/><circle cx="416.8" cy="615.3" r="2.18" fill="url(#gC)"/><circle cx="429.7" cy="616.8" r="2.52" fill="url(#gO)"/><circle cx="432.4" cy="613.4" r="2.18" fill="url(#gC)"/><circle cx="399.4" cy="611.0" r="2.18" fill="url(#gC)"/><circle cx="415.9" cy="625.7" r="2.18" fill="url(#gC)"/><circle cx="421.4" cy="633.1" r="2.18" fill="url(#gC)"/><circle cx="430.1" cy="633.1" r="2.18" fill="url(#gC)"/><circle cx="434.8" cy="625.7" r="2.18" fill="url(#gC)"/><circle cx="436.0" cy="641.9" r="2.18" fill="url(#gC)"/><circle cx="440.1" cy="617.8" r="2.18" fill="url(#gC)"/><circle cx="450.1" cy="617.4" r="2.18" fill="url(#gC)"/><circle cx="444.8" cy="624.9" r="2.18" fill="url(#gC)"/><circle cx="450.8" cy="633.1" r="2.18" fill="url(#gC)"/><circle cx="447.9" cy="598.7" r="2.52" fill="url(#gO)"/><circle cx="454.8" cy="606.0" r="2.77" fill="url(#gS)"/><circle cx="457.0" cy="603.7" r="2.52" fill="url(#gO)"/><circle cx="464.1" cy="606.3" r="2.52" fill="url(#gO)"/><circle cx="445.9" cy="642.1" r="2.18" fill="url(#gC)"/><circle cx="461.1" cy="632.8" r="2.18" fill="url(#gC)"/><circle cx="465.5" cy="624.4" r="2.18" fill="url(#gC)"/><circle cx="475.1" cy="623.5" r="2.18" fill="url(#gC)"/><circle cx="476.6" cy="615.6" r="2.18" fill="url(#gC)"/><circle cx="482.6" cy="630.5" r="2.18" fill="url(#gC)"/><circle cx="484.8" cy="615.4" r="2.18" fill="url(#gC)"/><circle cx="492.2" cy="622.6" r="2.27" fill="url(#gN)"/><circle cx="490.7" cy="630.0" r="2.18" fill="url(#gC)"/><path d="M612.8 571.4L614.6 566.8M610.5 570.7L611.7 565.9M602.4 579.2L603.2 574.7M598.3 586.7L598.1 584.0M588.8 610.3L588.2 608.6M585.3 621.6L583.9 622.7M580.0 646.5L578.3 648.6M579.2 655.0L577.4 659.2M581.2 666.6L579.4 671.2M583.5 667.3L582.3 672.1M591.6 658.8L590.8 663.3M595.7 651.3L595.9 654.0M605.2 627.7L605.8 629.4M608.7 616.4L610.1 615.3M614.0 591.5L615.7 589.4M614.8 583.0L616.6 578.8M619.3 576.8L621.1 572.8M619.3 576.8L623.7 579.1M594.4 569.2L594.4 564.6M594.4 569.2L589.6 568.7M605.8 601.4L606.3 599.7M605.8 601.4L610.5 603.2M580.9 593.8L579.7 591.5M580.9 593.8L576.4 592.8M594.5 638.5L593.9 640.3M594.5 638.5L599.4 639.6M569.6 630.9L567.3 632.1M569.6 630.9L565.2 629.2M591.9 666.4L591.1 670.8M591.9 666.4L596.8 667.0M567.0 658.8L564.5 662.6M567.0 658.8L562.7 656.6M599.6 668.8L599.6 673.4M599.6 668.8L604.4 669.3M574.7 661.2L572.9 665.2M574.7 661.2L570.3 658.9M613.1 644.2L614.3 646.5M613.1 644.2L617.6 645.2M588.2 636.6L587.7 638.3M588.2 636.6L583.5 634.8M624.4 607.1L626.7 605.9M624.4 607.1L628.8 608.8M599.5 599.5L600.1 597.7M599.5 599.5L594.6 598.4M627.0 579.2L629.5 575.4M627.0 579.2L631.3 581.4M602.1 571.6L602.9 567.2M602.1 571.6L597.2 571.0" stroke="#b08262" stroke-width="1.05" fill="none"/><path d="M614.6 566.8L616.3 562.1M611.7 565.9L612.8 561.1M603.2 574.7L604.0 570.3M598.1 584.0L597.9 581.4M588.2 608.6L587.6 607.0M583.9 622.7L582.5 623.7M578.3 648.6L576.7 650.7M577.4 659.2L575.6 663.3M579.4 671.2L577.7 675.9M582.3 672.1L581.2 676.9M590.8 663.3L590.0 667.7M595.9 654.0L596.1 656.6M605.8 629.4L606.4 631.0M610.1 615.3L611.5 614.3M615.7 589.4L617.3 587.3M616.6 578.8L618.4 574.7M621.1 572.8L622.9 568.8M623.7 579.1L628.2 581.4M594.4 564.6L594.5 560.1M589.6 568.7L584.8 568.1M606.3 599.7L606.9 597.9M610.5 603.2L615.2 605.0M579.7 591.5L578.5 589.2M576.4 592.8L571.8 591.8M593.9 640.3L593.4 642.0M599.4 639.6L604.3 640.7M567.3 632.1L565.0 633.3M565.2 629.2L560.9 627.5M591.1 670.8L590.4 675.1M596.8 667.0L601.8 667.6M564.5 662.6L561.9 666.4M562.7 656.6L558.4 654.4M599.6 673.4L599.5 677.9M604.4 669.3L609.2 669.9M572.9 665.2L571.1 669.2M570.3 658.9L565.8 656.6M614.3 646.5L615.5 648.8M617.6 645.2L622.2 646.2M587.7 638.3L587.1 640.1M583.5 634.8L578.8 633.0M626.7 605.9L629.0 604.7M628.8 608.8L633.1 610.5M600.1 597.7L600.6 596.0M594.6 598.4L589.7 597.3M629.5 575.4L632.1 571.6M631.3 581.4L635.6 583.6M602.9 567.2L603.6 562.9M597.2 571.0L592.2 570.4" stroke="#dcd0bd" stroke-width="1.05" fill="none"/><path d="M612.8 571.4L611.7 571.0M611.7 571.0L610.5 570.7M612.8 571.4L617.2 574.5M610.5 570.7L614.3 573.6M622.8 580.2L624.0 582.8M621.1 579.7L624.0 582.8M624.0 582.8L626.9 586.0M612.8 571.4L608.0 571.7M610.5 570.7L605.1 570.8M599.0 572.9L594.9 573.8M597.3 572.4L594.9 573.8M594.9 573.8L590.6 574.9M602.4 579.2L600.3 582.9M600.3 582.9L598.3 586.7M602.4 579.2L607.4 580.9M598.3 586.7L602.3 590.2M613.4 587.8L614.4 592.8M610.3 593.3L614.4 592.8M614.4 592.8L617.8 595.6M602.4 579.2L598.1 578.1M598.3 586.7L593.0 587.4M589.6 580.5L585.2 583.9M586.5 586.0L585.2 583.9M585.2 583.9L581.5 584.5M588.8 610.3L587.0 616.0M587.0 616.0L585.3 621.6M588.8 610.3L594.1 610.5M585.3 621.6L589.8 624.5M601.3 615.7L603.1 620.9M598.8 624.1L603.1 620.9M603.1 620.9L607.1 622.1M588.8 610.3L584.9 607.6M585.3 621.6L580.6 621.7M577.5 608.5L574.0 612.0M574.9 616.8L574.0 612.0M574.0 612.0L570.9 611.0M580.0 646.5L579.6 650.8M579.6 650.8L579.2 655.0M580.0 646.5L585.3 645.8M579.2 655.0L584.3 656.4M593.7 647.8L596.8 650.4M593.1 654.1L596.8 650.4M596.8 650.4L601.1 650.0M580.0 646.5L576.0 643.0M579.2 655.0L575.1 653.5M569.9 640.5L567.6 641.5M569.3 646.8L567.6 641.5M567.6 641.5L564.9 639.0M581.2 666.6L582.3 667.0M582.3 667.0L583.5 667.3M581.2 666.6L586.0 666.3M583.5 667.3L588.9 667.2M595.0 665.1L599.1 664.2M596.7 665.6L599.1 664.2M599.1 664.2L603.4 663.1M581.2 666.6L576.8 663.5M583.5 667.3L579.7 664.4M571.2 657.8L570.0 655.2M572.9 658.3L570.0 655.2M570.0 655.2L567.1 652.0M591.6 658.8L593.7 655.1M593.7 655.1L595.7 651.3M591.6 658.8L595.9 659.9M595.7 651.3L601.0 650.6M604.4 657.5L608.8 654.1M607.5 652.0L608.8 654.1M608.8 654.1L612.5 653.5M591.6 658.8L586.6 657.1M595.7 651.3L591.7 647.8M580.6 650.2L579.6 645.2M583.7 644.7L579.6 645.2M579.6 645.2L576.2 642.4M605.2 627.7L607.0 622.0M607.0 622.0L608.7 616.4M605.2 627.7L609.1 630.4M608.7 616.4L613.4 616.3M616.5 629.5L620.0 626.0M619.1 621.2L620.0 626.0M620.0 626.0L623.1 627.0M605.2 627.7L599.9 627.5M608.7 616.4L604.2 613.5M592.7 622.3L590.9 617.1M595.2 613.9L590.9 617.1M590.9 617.1L586.9 615.9M614.0 591.5L614.4 587.2M614.4 587.2L614.8 583.0M614.0 591.5L618.0 595.0M614.8 583.0L618.9 584.5M624.1 597.5L626.4 596.5M624.7 591.2L626.4 596.5M626.4 596.5L629.1 599.0M614.0 591.5L608.7 592.2M614.8 583.0L609.7 581.6M600.3 590.2L597.2 587.6M600.9 583.9L597.2 587.6M597.2 587.6L592.9 588.0M618.7 576.7L619.3 576.8M615.8 579.8L619.3 576.8M597.0 570.1L594.4 569.2M594.1 573.1L594.4 569.2M606.0 597.6L605.8 601.4M602.7 606.0L605.8 601.4M584.4 590.9L580.9 593.8M581.0 599.4L580.9 593.8M594.4 632.9L594.5 638.5M592.5 641.8L594.5 638.5M572.7 626.3L569.6 630.9M570.8 635.2L569.6 630.9M590.7 662.1L591.9 666.4M591.4 666.2L591.9 666.4M569.0 655.4L567.0 658.8M569.7 659.6L567.0 658.8M597.0 667.9L599.6 668.8M599.9 664.9L599.6 668.8M575.3 661.3L574.7 661.2M578.2 658.2L574.7 661.2M609.6 647.1L613.1 644.2M613.0 638.6L613.1 644.2M588.0 640.4L588.2 636.6M591.3 632.0L588.2 636.6M621.3 611.7L624.4 607.1M623.2 602.8L624.4 607.1M599.6 605.1L599.5 599.5M601.5 596.2L599.5 599.5M625.0 582.6L627.0 579.2M624.3 578.4L627.0 579.2M603.3 575.9L602.1 571.6M602.6 571.8L602.1 571.6" stroke="#b08262" stroke-width="1.15" fill="none"/><path d="M617.2 574.5L621.6 577.7M614.3 573.6L618.2 576.6M621.6 577.7L622.8 580.2M618.2 576.6L621.1 579.7M608.0 571.7L603.2 572.0M605.1 570.8L599.7 570.9M603.2 572.0L599.0 572.9M599.7 570.9L597.3 572.4M607.4 580.9L612.4 582.7M602.3 590.2L606.3 593.7M612.4 582.7L613.4 587.8M606.3 593.7L610.3 593.3M598.1 578.1L593.9 577.0M593.0 587.4L587.8 588.1M593.9 577.0L589.6 580.5M587.8 588.1L586.5 586.0M594.1 610.5L599.5 610.6M589.8 624.5L594.4 627.3M599.5 610.6L601.3 615.7M594.4 627.3L598.8 624.1M584.9 607.6L581.0 605.0M580.6 621.7L575.9 621.7M581.0 605.0L577.5 608.5M575.9 621.7L574.9 616.8M585.3 645.8L590.6 645.1M584.3 656.4L589.4 657.7M590.6 645.1L593.7 647.8M589.4 657.7L593.1 654.1M576.0 643.0L572.1 639.5M575.1 653.5L570.9 652.1M572.1 639.5L569.9 640.5M570.9 652.1L569.3 646.8M586.0 666.3L590.8 666.0M588.9 667.2L594.3 667.1M590.8 666.0L595.0 665.1M594.3 667.1L596.7 665.6M576.8 663.5L572.4 660.3M579.7 664.4L575.8 661.4M572.4 660.3L571.2 657.8M575.8 661.4L572.9 658.3M595.9 659.9L600.1 661.0M601.0 650.6L606.2 649.9M600.1 661.0L604.4 657.5M606.2 649.9L607.5 652.0M586.6 657.1L581.6 655.3M591.7 647.8L587.7 644.3M581.6 655.3L580.6 650.2M587.7 644.3L583.7 644.7M609.1 630.4L613.0 633.0M613.4 616.3L618.1 616.3M613.0 633.0L616.5 629.5M618.1 616.3L619.1 621.2M599.9 627.5L594.5 627.4M604.2 613.5L599.6 610.7M594.5 627.4L592.7 622.3M599.6 610.7L595.2 613.9M618.0 595.0L621.9 598.5M618.9 584.5L623.1 585.9M621.9 598.5L624.1 597.5M623.1 585.9L624.7 591.2M608.7 592.2L603.4 592.9M609.7 581.6L604.6 580.3M603.4 592.9L600.3 590.2M604.6 580.3L600.9 583.9M618.2 576.6L618.7 576.7M612.4 582.7L615.8 579.8M599.7 570.9L597.0 570.1M593.9 577.0L594.1 573.1M606.3 593.7L606.0 597.6M599.5 610.6L602.7 606.0M587.8 588.1L584.4 590.9M581.0 605.0L581.0 599.4M594.4 627.3L594.4 632.9M590.6 645.1L592.5 641.8M575.9 621.7L572.7 626.3M572.1 639.5L570.8 635.2M589.4 657.7L590.7 662.1M590.8 666.0L591.4 666.2M570.9 652.1L569.0 655.4M572.4 660.3L569.7 659.6M594.3 667.1L597.0 667.9M600.1 661.0L599.9 664.9M575.8 661.4L575.3 661.3M581.6 655.3L578.2 658.2M606.2 649.9L609.6 647.1M613.0 633.0L613.0 638.6M587.7 644.3L588.0 640.4M594.5 627.4L591.3 632.0M618.1 616.3L621.3 611.7M621.9 598.5L623.2 602.8M599.6 610.7L599.6 605.1M603.4 592.9L601.5 596.2M623.1 585.9L625.0 582.6M621.6 577.7L624.3 578.4M604.6 580.3L603.3 575.9M603.2 572.0L602.6 571.8" stroke="#919ada" stroke-width="1.15" fill="none"/><path d="M626.9 586.0L629.8 589.3M590.6 574.9L586.4 576.0M617.8 595.6L621.2 598.3M581.5 584.5L577.8 585.0M607.1 622.1L611.1 623.3M570.9 611.0L567.8 610.1M601.1 650.0L605.5 649.7M564.9 639.0L562.1 636.4M603.4 663.1L607.6 662.0M567.1 652.0L564.2 648.7M612.5 653.5L616.2 653.0M576.2 642.4L572.8 639.7M623.1 627.0L626.2 627.9M586.9 615.9L582.9 614.7M629.1 599.0L631.9 601.6M592.9 588.0L588.5 588.3" stroke="#d87282" stroke-width="1.15" fill="none"/><path d="M523.4 591.5L519.8 593.8M519.8 593.8L516.2 596.1M523.4 591.5L525.4 595.0M525.4 595.0L527.4 598.4M523.4 591.5L523.6 593.8M523.6 593.8L523.8 596.1M516.2 596.1L512.9 600.2M512.9 600.2L509.6 604.4M509.6 604.4L509.8 606.6M509.8 606.6L510.0 608.9M510.0 608.9L514.5 607.7M514.5 607.7L519.1 606.5M510.0 608.9L513.6 606.5M513.6 606.5L517.3 604.0M519.1 606.5L523.2 602.5M523.2 602.5L527.4 598.4M519.1 606.5L521.0 612.1M521.0 612.1L522.9 617.8M527.4 598.4L528.6 595.6M523.8 596.1L520.5 600.0M520.5 600.0L517.3 604.0M533.4 588.3L537.0 583.8M534.7 593.3L539.6 593.9M537.0 583.8L542.5 584.8M542.5 584.8L548.1 585.7M539.6 593.9L544.5 592.6M544.5 592.6L549.4 591.4M549.4 591.4L548.8 588.5M548.8 588.5L548.1 585.7M549.4 591.4L549.5 594.5M549.5 594.5L549.6 597.6M549.4 591.4L554.1 591.5M554.1 591.5L558.9 591.5M549.6 597.6L551.0 601.3M558.9 591.5L564.1 593.2M564.1 593.2L569.4 595.0M569.4 595.0L570.0 600.0M570.0 600.0L570.5 605.0M570.5 605.0L566.1 608.2M566.1 608.2L561.8 611.4M570.5 605.0L575.8 607.0M575.8 607.0L581.1 609.1M581.1 609.1L581.8 612.0M581.8 612.0L582.5 614.9M582.5 614.9L587.0 617.7M587.0 617.7L591.6 620.5M591.6 620.5L596.2 621.5M596.2 621.5L600.7 622.6M591.6 620.5L592.0 622.6M592.0 622.6L592.3 624.8M600.7 622.6L605.0 625.7M605.0 625.7L609.3 628.8M609.3 628.8L609.0 631.0M604.6 631.8L600.5 630.5M612.9 636.5L617.1 639.9M600.5 630.5L596.4 627.6M596.4 627.6L592.3 624.8M617.1 639.9L621.2 637.0M621.2 637.0L625.4 634.0M641.0 641.2L643.2 642.0M650.8 635.6L651.7 634.4M651.7 634.4L656.0 637.6M656.0 637.6L660.3 640.9M660.3 640.9L661.8 643.1M663.2 642.4L663.1 639.4M662.2 648.0L661.2 650.6M663.1 639.4L665.1 635.4M665.1 635.4L667.1 631.4M667.1 631.4L665.9 626.5M665.9 626.5L664.7 621.5M664.7 621.5L659.5 619.1M659.5 619.1L654.2 616.8M654.2 616.8L651.3 616.5M651.3 616.5L648.4 616.2M654.2 616.8L652.2 614.1M652.2 614.1L650.1 611.5M661.2 650.6L657.4 650.2M657.4 650.2L653.5 649.9M661.2 650.6L666.9 651.0M666.9 651.0L672.6 651.3M661.2 650.6L661.2 653.5M661.2 653.5L661.2 656.5M661.2 656.5L660.5 658.1M660.5 658.1L659.8 659.8M659.8 659.8L660.5 661.7M660.5 661.7L661.2 663.6M661.2 663.6L659.3 666.7M659.3 666.7L657.4 669.8M657.4 669.8L658.2 672.2M658.2 672.2L659.1 674.6M659.1 674.6L658.2 676.0M658.2 676.0L657.2 677.4M650.1 618.4L648.4 616.2M648.4 616.2L643.6 613.8M643.6 613.8L638.8 611.3M574.1 574.2L575.0 578.9M575.0 578.9L575.8 583.6M575.8 583.6L580.9 586.0M590.0 586.7L593.9 585.1M587.0 591.5L588.1 594.8M593.9 585.1L598.8 587.4M598.8 587.4L603.8 589.6M588.1 594.8L593.0 597.0M593.0 597.0L598.0 599.1M598.0 599.1L602.0 598.2M602.0 598.2L606.1 597.3M606.1 597.3L605.0 593.5M605.0 593.5L603.8 589.6M606.1 597.3L611.0 599.8M611.0 599.8L615.9 602.2M615.9 602.2L619.9 602.2M619.9 602.2L623.9 602.2M623.9 602.2L629.0 604.7M629.0 604.7L634.1 607.1M634.1 607.1L637.0 607.5M637.0 607.5L640.0 607.8M634.1 607.1L636.5 609.2M636.5 609.2L638.8 611.3M640.0 607.8L645.0 609.6M645.0 609.6L650.1 611.5" stroke="#7a4e30" stroke-width="1.3" fill="none"/><path d="M523.4 591.5L525.8 588.2M509.6 604.4L507.6 600.3M510.0 608.9L506.4 609.3M522.9 617.8L519.9 620.5M522.9 617.8L526.8 618.2M522.9 617.8L514.0 616.2M537.0 583.8L535.0 580.8M537.0 583.8L537.5 580.6M539.6 593.9L539.4 591.6M539.6 593.9L541.6 592.5M548.1 585.7L549.9 581.8M558.9 591.5L558.6 587.8M569.4 595.0L572.8 592.8M561.8 611.4L562.0 615.2M581.1 609.1L584.0 607.9M581.1 609.1L578.8 606.6M582.5 614.9L579.4 615.3M617.1 639.9L618.8 642.2M625.4 634.0L623.8 632.0M625.4 634.0L627.4 631.0M625.4 634.0L628.3 637.0M651.7 634.4L651.2 630.8M643.2 642.0L643.7 646.2M653.5 649.9L653.8 646.0M653.5 649.9L649.4 650.2M653.5 649.9L654.1 652.8M672.6 651.3L673.0 655.0M657.2 677.4L656.8 679.8M574.1 574.2L570.3 572.7M574.1 574.2L577.1 571.3M575.8 583.6L573.1 586.9M593.9 585.1L593.2 582.5M588.1 594.8L585.0 596.0M650.1 611.5L652.5 611.5M638.8 611.3L636.3 611.1" stroke="#7a4e30" stroke-width="1.04" fill="none"/><path d="M525.8 588.2L528.2 585.0M507.6 600.3L505.5 596.3M506.4 609.3L502.7 609.7M519.9 620.5L516.9 623.1M526.8 618.2L530.6 618.6M514.0 616.2L505.1 614.6M535.0 580.8L533.1 577.9M537.5 580.6L538.0 577.5M539.4 591.6L539.1 589.4M541.6 592.5L543.6 591.2M549.9 581.8L551.6 577.8M558.6 587.8L558.3 584.0M572.8 592.8L576.2 590.6M562.0 615.2L562.1 619.0M541.0 613.7L537.8 612.3M584.0 607.9L586.9 606.7M578.8 606.6L576.4 604.1M579.4 615.3L576.2 615.8M618.8 642.2L620.4 644.5M623.8 632.0L622.3 630.0M627.4 631.0L629.4 628.1M628.3 637.0L631.3 639.9M651.2 630.8L650.8 627.1M643.7 646.2L644.2 650.4M653.8 646.0L654.1 642.0M649.4 650.2L645.3 650.6M654.1 652.8L654.8 655.6M673.0 655.0L673.4 658.7M656.8 679.8L656.3 682.1M654.8 622.2L657.7 623.8M570.3 572.7L566.5 571.1M577.1 571.3L580.1 568.4M573.1 586.9L570.5 590.1M593.2 582.5L592.5 579.9M585.0 596.0L582.0 597.1M652.5 611.5L654.8 611.5M636.3 611.1L633.8 611.0" stroke="#dcd6cc" stroke-width="1.04" fill="none"/><path d="M528.6 595.6L529.8 592.8M529.8 592.8L533.4 588.3M529.8 592.8L534.7 593.3M609.0 631.0L608.7 633.1M608.7 633.1L604.6 631.8M608.7 633.1L612.9 636.5M661.8 643.1L663.3 645.4M663.3 645.4L663.2 642.4M663.3 645.4L662.2 648.0M580.9 586.0L586.0 588.3M586.0 588.3L590.0 586.7M586.0 588.3L587.0 591.5" stroke="#5a74d8" stroke-width="1.3" fill="none"/><path d="M551.0 601.3L552.4 605.0M552.4 605.0L548.3 606.8M552.4 605.0L552.2 607.9M552.4 605.0L558.0 604.8M635.8 636.1L638.9 640.4M638.9 640.4L637.2 645.6M638.9 640.4L644.3 638.6M638.9 640.4L641.0 641.2" stroke="#d8d830" stroke-width="1.3" fill="none"/><path d="M548.3 606.8L544.3 608.5M552.2 607.9L552.1 610.8M558.0 604.8L563.5 604.6M632.6 631.9L635.8 636.1M637.2 645.6L635.6 650.8M644.3 638.6L649.8 636.9M649.8 636.9L650.8 635.6M651.9 620.6L650.1 618.4" stroke="#e83030" stroke-width="1.3" fill="none"/><path d="M544.3 615.1L541.0 613.7M651.9 620.6L654.8 622.2" stroke="#e83030" stroke-width="1.04" fill="none"/><circle cx="505.5" cy="596.3" r="1.26" fill="url(#gH)"/><circle cx="502.7" cy="609.7" r="1.26" fill="url(#gH)"/><circle cx="528.2" cy="585.0" r="1.26" fill="url(#gH)"/><circle cx="516.9" cy="623.1" r="1.26" fill="url(#gH)"/><circle cx="530.6" cy="618.6" r="1.26" fill="url(#gH)"/><circle cx="505.1" cy="614.6" r="1.26" fill="url(#gH)"/><circle cx="533.1" cy="577.9" r="1.26" fill="url(#gH)"/><circle cx="538.0" cy="577.5" r="1.26" fill="url(#gH)"/><circle cx="539.1" cy="589.4" r="1.26" fill="url(#gH)"/><circle cx="543.6" cy="591.2" r="1.26" fill="url(#gH)"/><circle cx="551.6" cy="577.8" r="1.26" fill="url(#gH)"/><circle cx="537.8" cy="612.3" r="1.26" fill="url(#gH)"/><circle cx="558.3" cy="584.0" r="1.26" fill="url(#gH)"/><circle cx="576.2" cy="590.6" r="1.26" fill="url(#gH)"/><circle cx="562.1" cy="619.0" r="1.26" fill="url(#gH)"/><circle cx="586.9" cy="606.7" r="1.26" fill="url(#gH)"/><circle cx="576.4" cy="604.1" r="1.26" fill="url(#gH)"/><circle cx="576.2" cy="615.8" r="1.26" fill="url(#gH)"/><circle cx="620.4" cy="644.5" r="1.26" fill="url(#gH)"/><circle cx="622.3" cy="630.0" r="1.26" fill="url(#gH)"/><circle cx="629.4" cy="628.1" r="1.26" fill="url(#gH)"/><circle cx="631.3" cy="639.9" r="1.26" fill="url(#gH)"/><circle cx="650.8" cy="627.1" r="1.26" fill="url(#gH)"/><circle cx="644.2" cy="650.4" r="1.26" fill="url(#gH)"/><circle cx="654.1" cy="642.0" r="1.26" fill="url(#gH)"/><circle cx="645.3" cy="650.6" r="1.26" fill="url(#gH)"/><circle cx="654.8" cy="655.6" r="1.26" fill="url(#gH)"/><circle cx="673.4" cy="658.7" r="1.26" fill="url(#gH)"/><circle cx="656.3" cy="682.1" r="1.26" fill="url(#gH)"/><circle cx="657.7" cy="623.8" r="1.26" fill="url(#gH)"/><circle cx="566.5" cy="571.1" r="1.26" fill="url(#gH)"/><circle cx="580.1" cy="568.4" r="1.26" fill="url(#gH)"/><circle cx="570.5" cy="590.1" r="1.26" fill="url(#gH)"/><circle cx="592.5" cy="579.9" r="1.26" fill="url(#gH)"/><circle cx="582.0" cy="597.1" r="1.26" fill="url(#gH)"/><circle cx="633.8" cy="611.0" r="1.26" fill="url(#gH)"/><circle cx="654.8" cy="611.5" r="1.26" fill="url(#gH)"/><circle cx="523.4" cy="591.5" r="2.18" fill="url(#gC)"/><circle cx="516.2" cy="596.1" r="2.18" fill="url(#gC)"/><circle cx="509.6" cy="604.4" r="2.18" fill="url(#gC)"/><circle cx="510.0" cy="608.9" r="2.18" fill="url(#gC)"/><circle cx="519.1" cy="606.5" r="2.18" fill="url(#gC)"/><circle cx="527.4" cy="598.4" r="2.18" fill="url(#gC)"/><circle cx="523.8" cy="596.1" r="2.18" fill="url(#gC)"/><circle cx="517.3" cy="604.0" r="2.18" fill="url(#gC)"/><circle cx="522.9" cy="617.8" r="2.18" fill="url(#gC)"/><circle cx="529.8" cy="592.8" r="2.27" fill="url(#gN)"/><circle cx="537.0" cy="583.8" r="2.18" fill="url(#gC)"/><circle cx="539.6" cy="593.9" r="2.18" fill="url(#gC)"/><circle cx="549.4" cy="591.4" r="2.18" fill="url(#gC)"/><circle cx="548.1" cy="585.7" r="2.18" fill="url(#gC)"/><circle cx="549.6" cy="597.6" r="2.18" fill="url(#gC)"/><circle cx="552.4" cy="605.0" r="2.77" fill="url(#gS)"/><circle cx="558.9" cy="591.5" r="2.18" fill="url(#gC)"/><circle cx="569.4" cy="595.0" r="2.18" fill="url(#gC)"/><circle cx="570.5" cy="605.0" r="2.18" fill="url(#gC)"/><circle cx="561.8" cy="611.4" r="2.18" fill="url(#gC)"/><circle cx="544.3" cy="608.5" r="2.52" fill="url(#gO)"/><circle cx="552.1" cy="610.8" r="2.52" fill="url(#gO)"/><circle cx="563.5" cy="604.6" r="2.52" fill="url(#gO)"/><circle cx="544.3" cy="615.1" r="2.52" fill="url(#gO)"/><circle cx="581.1" cy="609.1" r="2.18" fill="url(#gC)"/><circle cx="582.5" cy="614.9" r="2.18" fill="url(#gC)"/><circle cx="591.6" cy="620.5" r="2.18" fill="url(#gC)"/><circle cx="600.7" cy="622.6" r="2.18" fill="url(#gC)"/><circle cx="609.3" cy="628.8" r="2.18" fill="url(#gC)"/><circle cx="608.7" cy="633.1" r="2.27" fill="url(#gN)"/><circle cx="600.5" cy="630.5" r="2.18" fill="url(#gC)"/><circle cx="592.3" cy="624.8" r="2.18" fill="url(#gC)"/><circle cx="617.1" cy="639.9" r="2.18" fill="url(#gC)"/><circle cx="625.4" cy="634.0" r="2.18" fill="url(#gC)"/><circle cx="632.6" cy="631.9" r="2.52" fill="url(#gO)"/><circle cx="638.9" cy="640.4" r="2.77" fill="url(#gS)"/><circle cx="635.6" cy="650.8" r="2.52" fill="url(#gO)"/><circle cx="649.8" cy="636.9" r="2.52" fill="url(#gO)"/><circle cx="651.7" cy="634.4" r="2.18" fill="url(#gC)"/><circle cx="643.2" cy="642.0" r="2.18" fill="url(#gC)"/><circle cx="660.3" cy="640.9" r="2.18" fill="url(#gC)"/><circle cx="663.3" cy="645.4" r="2.27" fill="url(#gN)"/><circle cx="663.1" cy="639.4" r="2.18" fill="url(#gC)"/><circle cx="667.1" cy="631.4" r="2.18" fill="url(#gC)"/><circle cx="664.7" cy="621.5" r="2.18" fill="url(#gC)"/><circle cx="654.2" cy="616.8" r="2.18" fill="url(#gC)"/><circle cx="661.2" cy="650.6" r="2.18" fill="url(#gC)"/><circle cx="653.5" cy="649.9" r="2.18" fill="url(#gC)"/><circle cx="672.6" cy="651.3" r="2.18" fill="url(#gC)"/><circle cx="661.2" cy="656.5" r="2.18" fill="url(#gC)"/><circle cx="659.8" cy="659.8" r="2.18" fill="url(#gC)"/><circle cx="661.2" cy="663.6" r="2.18" fill="url(#gC)"/><circle cx="657.4" cy="669.8" r="2.18" fill="url(#gC)"/><circle cx="659.1" cy="674.6" r="2.18" fill="url(#gC)"/><circle cx="657.2" cy="677.4" r="2.18" fill="url(#gC)"/><circle cx="651.9" cy="620.6" r="2.52" fill="url(#gO)"/><circle cx="648.4" cy="616.2" r="2.18" fill="url(#gC)"/><circle cx="574.1" cy="574.2" r="2.18" fill="url(#gC)"/><circle cx="575.8" cy="583.6" r="2.18" fill="url(#gC)"/><circle cx="586.0" cy="588.3" r="2.27" fill="url(#gN)"/><circle cx="593.9" cy="585.1" r="2.18" fill="url(#gC)"/><circle cx="588.1" cy="594.8" r="2.18" fill="url(#gC)"/><circle cx="598.0" cy="599.1" r="2.18" fill="url(#gC)"/><circle cx="606.1" cy="597.3" r="2.18" fill="url(#gC)"/><circle cx="603.8" cy="589.6" r="2.18" fill="url(#gC)"/><circle cx="615.9" cy="602.2" r="2.18" fill="url(#gC)"/><circle cx="623.9" cy="602.2" r="2.18" fill="url(#gC)"/><circle cx="634.1" cy="607.1" r="2.18" fill="url(#gC)"/><circle cx="640.0" cy="607.8" r="2.18" fill="url(#gC)"/><circle cx="650.1" cy="611.5" r="2.18" fill="url(#gC)"/><circle cx="638.8" cy="611.3" r="2.18" fill="url(#gC)"/><rect x="388.3" y="501.3" width="1.7" height="1.7" fill="#555"/><line x1="1.2" y1="193.6" x2="683" y2="193.6" stroke="#000" stroke-width="2.1" stroke-dasharray="4.9,4.75" stroke-dashoffset="6.30"/><line x1="2.1" y1="192.6" x2="2.1" y2="739.5" stroke="#000" stroke-width="2.1" stroke-dasharray="4.9,4.75" stroke-dashoffset="3.25"/><line x1="682.9" y1="192.6" x2="682.9" y2="739.5" stroke="#000" stroke-width="2.1" stroke-dasharray="4.9,4.75" stroke-dashoffset="3.65"/><line x1="1.2" y1="739.1" x2="683" y2="739.1" stroke="#000" stroke-width="2.1" stroke-dasharray="4.9,4.75" stroke-dashoffset="0.88"/><rect x="1.1" y="192.6" width="2" height="2" fill="#000"/><line x1="25.60" y1="236.50" x2="25.60" y2="338.60" stroke="#222" stroke-width="1.3" stroke-linecap="butt"/><path d="M25.60,230.50 L30.65,239.60 L25.60,238.10 L20.55,239.60 Z" fill="#000"/><rect x="50.50" y="248.90" width="11.80" height="3.6" fill="#000"/><rect x="105.70" y="267.90" width="11.80" height="3.6" fill="#000"/><rect x="192.70" y="343.20" width="11.90" height="3.6" fill="#000"/><line x1="62.30" y1="250.70" x2="105.70" y2="269.70" stroke="#000" stroke-width="1.3" stroke-dasharray="5,3.2" stroke-linecap="butt"/><line x1="117.50" y1="269.70" x2="192.70" y2="345.00" stroke="#000" stroke-width="1.3" stroke-dasharray="5,3.2" stroke-linecap="butt"/><text x="0" y="0" font-size="13" fill="#000" font-weight="normal" transform="translate(39.70,238.80) scale(1,1.0)">0.00</text><text x="0" y="0" font-size="13" fill="#000" font-weight="normal" transform="translate(87.70,257.00) scale(1,1.0)">-16.99</text><text x="0" y="0" font-size="11.5" fill="#000" font-weight="normal" transform="translate(37.70,275.30) scale(1,1.0)">CB[8]</text><text x="0" y="0" font-size="11.5" fill="#000" font-weight="normal" transform="translate(40.20,304.20) scale(1,1.0)">VPMEH-CB[8]</text><text x="0" y="0" font-size="13" fill="#f42222" font-weight="normal" transform="translate(169.70,320.60) scale(1,1.0)">-118.15</text><text x="0" y="0" font-size="11.5" fill="#f42222" font-weight="normal" transform="translate(146.40,365.60) scale(1,1.0)">2VPMEH-CB[8]</text><text x="0" y="0" font-size="12" fill="#000" font-weight="normal" transform="translate(12.50,359.90) scale(1,1.0)">G (kcal/mol)</text><text x="0" y="0" font-size="15" fill="#000" font-weight="normal" transform="translate(299.00,345.33) scale(1,1.1)">VPMEH</text><text x="0" y="0" font-size="15" fill="#000" font-weight="normal" transform="translate(409.40,345.99) scale(1,1.1)">VPMEH-CB[8]</text><text x="0" y="0" font-size="15" fill="#f42222" font-weight="normal" transform="translate(544.40,345.99) scale(1,1.1)">2VPMEH-CB[8]</text><line x1="25.60" y1="407.60" x2="25.60" y2="509.60" stroke="#222" stroke-width="1.3" stroke-linecap="butt"/><path d="M25.60,401.60 L30.65,410.70 L25.60,409.20 L20.55,410.70 Z" fill="#000"/><rect x="49.70" y="428.30" width="12.50" height="3.6" fill="#000"/><rect x="109.70" y="517.70" width="12.70" height="3.6" fill="#000"/><rect x="192.90" y="503.60" width="12.10" height="3.6" fill="#000"/><line x1="62.20" y1="430.10" x2="109.70" y2="519.50" stroke="#000" stroke-width="1.3" stroke-dasharray="5,3.2" stroke-linecap="butt"/><line x1="122.40" y1="519.50" x2="192.90" y2="505.40" stroke="#000" stroke-width="1.3" stroke-dasharray="5,3.2" stroke-linecap="butt"/><text x="0" y="0" font-size="13" fill="#000" font-weight="normal" transform="translate(41.90,418.10) scale(1,1.0)">0.00</text><text x="0" y="0" font-size="11.5" fill="#000" font-weight="normal" transform="translate(37.70,467.20) scale(1,1.0)">CB[8]</text><text x="0" y="0" font-size="13" fill="#f42222" font-weight="normal" transform="translate(99.60,497.10) scale(1,1.0)">-88.94</text><text x="0" y="0" font-size="13" fill="#000" font-weight="normal" transform="translate(174.00,494.30) scale(1,1.0)">-82.55</text><text x="0" y="0" font-size="11.5" fill="#000" font-weight="normal" transform="translate(134.00,529.60) scale(1,1.0)">2VPMEH-<tspan font-size="8.62" letter-spacing="0.5" stroke="#000" stroke-width="0.25">INT</tspan>-CB[8]</text><text x="0" y="0" font-size="12" fill="#000" font-weight="normal" transform="translate(12.50,529.20) scale(1,1.0)">G (kcal/mol)</text><text x="0" y="0" font-size="11.5" fill="#f42222" font-weight="normal" transform="translate(55.70,547.00) scale(1,1.0)">VPMEH-<tspan font-size="8.62" letter-spacing="0.5" stroke="#f42222" stroke-width="0.25">INT</tspan>-CB[8]</text><text x="0" y="0" font-size="15" fill="#000" font-weight="normal" transform="translate(305.40,525.05) scale(1,1.1)">VPSP</text><text x="0" y="0" font-size="15" fill="#f42222" font-weight="normal" transform="translate(416.00,525.59) scale(1,1.1)">VPSP-CB[8]</text><text x="0" y="0" font-size="15" fill="#000" font-weight="normal" transform="translate(550.20,525.59) scale(1,1.1)">2VPSP-CB[8]</text><line x1="25.60" y1="595.20" x2="25.60" y2="710.40" stroke="#222" stroke-width="1.3" stroke-linecap="butt"/><path d="M25.60,589.20 L30.65,598.30 L25.60,596.80 L20.55,598.30 Z" fill="#000"/><rect x="50.40" y="607.40" width="12.40" height="3.6" fill="#000"/><rect x="109.50" y="676.80" width="12.80" height="3.6" fill="#000"/><rect x="192.70" y="637.80" width="12.40" height="3.6" fill="#000"/><line x1="62.80" y1="609.20" x2="109.50" y2="678.60" stroke="#000" stroke-width="1.3" stroke-dasharray="5,3.2" stroke-linecap="butt"/><line x1="122.30" y1="678.60" x2="192.70" y2="639.60" stroke="#000" stroke-width="1.3" stroke-dasharray="5,3.2" stroke-linecap="butt"/><text x="0" y="0" font-size="13" fill="#000" font-weight="normal" transform="translate(39.90,597.90) scale(1,1.0)">0.00</text><text x="0" y="0" font-size="11.5" fill="#000" font-weight="normal" transform="translate(37.30,645.20) scale(1,1.0)">CB[8]</text><text x="0" y="0" font-size="13" fill="#f42222" font-weight="normal" transform="translate(95.70,658.80) scale(1,1.0)">-58.18</text><text x="0" y="0" font-size="13" fill="#000" font-weight="normal" transform="translate(174.90,626.00) scale(1,1.0)">-27.43</text><text x="0" y="0" font-size="11.5" fill="#000" font-weight="normal" transform="translate(153.00,673.70) scale(1,1.0)">2VPSP-CB[8]</text><text x="0" y="0" font-size="11.5" fill="#f42222" font-weight="normal" transform="translate(75.00,706.60) scale(1,1.0)">VPSP-CB[8]</text><text x="0" y="0" font-size="12" fill="#000" font-weight="normal" transform="translate(12.50,729.40) scale(1,1.0)">G (kcal/mol)</text><text x="0" y="0" font-size="15" fill="#000" font-weight="normal" transform="translate(286.60,707.43) scale(1,1.1)">VPMEH-<tspan font-size="11.25" letter-spacing="0.6" stroke="#000" stroke-width="0.25">INT</tspan></text><text x="0" y="0" font-size="15" fill="#f42222" font-weight="normal" transform="translate(398.00,707.43) scale(1,1.1)">VPMEH-<tspan font-size="11.25" letter-spacing="0.6" stroke="#f42222" stroke-width="0.25">INT</tspan>-CB[8]</text><text x="0" y="0" font-size="15" fill="#000" font-weight="normal" transform="translate(531.70,707.65) scale(1,1.1)">2VPMEH-<tspan font-size="11.25" letter-spacing="0.6" stroke="#000" stroke-width="0.25">INT</tspan>-CB[8]</text></svg></body></html>
